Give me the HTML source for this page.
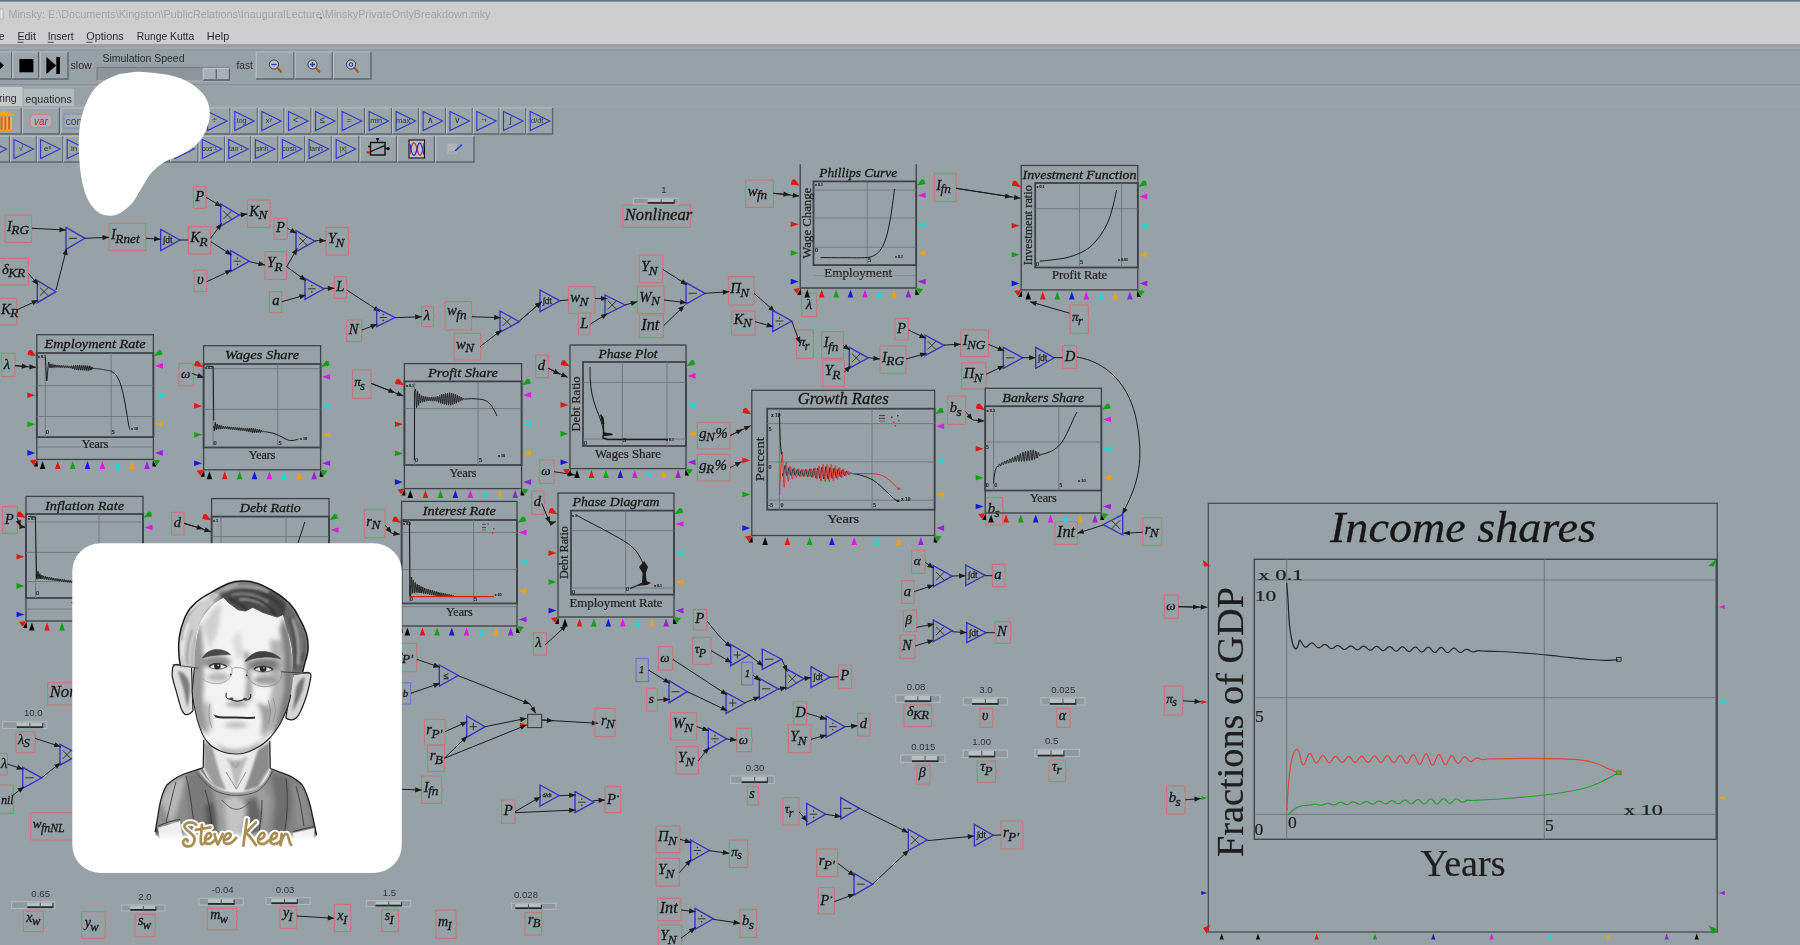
<!DOCTYPE html>
<html><head><meta charset="utf-8"><title>Minsky</title>
<style>
html,body{margin:0;padding:0;background:#97a2a7;overflow:hidden}
svg{display:block;filter:blur(0.55px)}
.v{font-family:"Liberation Serif",serif;font-style:italic;fill:#161616;stroke:#161616;stroke-width:0.3px}
.s{font-family:"Liberation Serif",serif;fill:#1e1e1e;stroke:#1e1e1e;stroke-width:0.22px}
.n{font-family:"Liberation Sans",sans-serif;fill:#2a2a2a}
</style></head><body>
<svg width="1800" height="945" viewBox="0 0 1800 945">
<defs>
<filter id="b1" x="-20%" y="-20%" width="140%" height="140%"><feGaussianBlur stdDeviation="1"/></filter>
<filter id="b2" x="-30%" y="-30%" width="160%" height="160%"><feGaussianBlur stdDeviation="2.2"/></filter>
<filter id="b3" x="-30%" y="-30%" width="160%" height="160%"><feGaussianBlur stdDeviation="3.6"/></filter>
<filter id="b05" x="-20%" y="-20%" width="140%" height="140%"><feGaussianBlur stdDeviation="0.55"/></filter>
<linearGradient id="shirtg" x1="0" y1="0" x2="1" y2="0"><stop offset="0" stop-color="#8d8d8d"/><stop offset="0.25" stop-color="#8a8a8a"/><stop offset="0.5" stop-color="#a4a4a4"/><stop offset="0.75" stop-color="#858585"/><stop offset="1" stop-color="#767676"/></linearGradient>
<linearGradient id="fadeb" x1="0" y1="0" x2="0" y2="1"><stop offset="0" stop-color="#fff" stop-opacity="0"/><stop offset="1" stop-color="#fff" stop-opacity="1"/></linearGradient>
<clipPath id="faceclip"><path d="M194.3 665 C194.5 650,196.5 634,200.4 621.2 C204 612,213 603,223.5 598.1 L228.4 603 L238.1 610.3 L245.4 611.5 L252.7 607.8 L262.5 612.7 L277.1 617.6 L283.1 615.1 C286 622,288 632,289.5 640 C291.5 650,293 660,293 668 C293.5 680,292 690,290.8 694.7 C289 705,286 712,282.7 718.8 C279 727,275 732,270.7 737 C265 743,260 746.5,254.6 749 C248 752.5,242 754,236.5 754 C230 754,225 753,220.4 751 C216 749,211.5 746.5,208.3 743 C204.5 739,202 734,200.3 728.9 C197.5 722,196 716,195.3 710.8 C193.5 703,192.5 697,192.2 690.7 Z"/></clipPath>
<clipPath id="hairclip"><path d="M180.3 668 C178.5 656,178.3 646,179.1 638.3 C180 632,181.5 626,183.4 621.2 C186 614,189 609,193.1 605.4 C198 600,203.5 596.5,210.1 593.2 C216 589.5,222 586,228.4 583.5 C233 581.8,238 581,243 581.1 C248 581,253 582,257.6 583.5 C263.5 585.5,269 588.5,274.6 592 C280 595,285 599,289.2 603 C293 607,296.5 612,299 617.6 C302 622.5,304.5 628,306.3 633.4 C307.6 638,308.2 643,308.1 648 C308 653,306.5 658,305 662.6 L302 674 L291.5 675 C293 668,293 660,291.7 648 C290.5 641,289 635,286.8 629.7 L283.1 615.1 L277.1 617.6 L262.5 612.7 L252.7 607.8 L245.4 611.5 L238.1 610.3 L228.4 603 L223.5 598.1 C217 601,213.5 604,210.1 607.8 C206 612,203 616.5,200.4 621.2 C198.3 626,197 631,196.2 635.8 C195 645,194.5 655,194.3 668 Z"/></clipPath>
<clipPath id="shirtclip"><path d="M155 836 L159.3 807 C161 798,163.5 790,166.8 785 C172 780,178 776.5,184 774 L202.6 767.8 C206 776,211 783,217 787.8 C223 791,230 792,236.3 791.9 C244 791.9,251 790.5,256.9 787.8 C263 783.5,268 777.5,270.5 768.5 L288.6 775.4 C294 778,299 781.5,302.3 785 C306 791,308.5 799,310.6 807 L317 838 Z"/></clipPath>
</defs>
<rect x="0" y="0" width="1800" height="945" fill="#97a2a7"/>
<rect x="0" y="0" width="1800" height="44.5" fill="#cecece"/>
<rect x="0" y="0" width="1800" height="1.6" fill="#66738c"/>
<rect x="0" y="44" width="1800" height="3.2" fill="#9d9fa0"/>
<rect x="0" y="47.2" width="1800" height="1.8" fill="#a0aaad"/>
<rect x="0" y="49" width="1800" height="2" fill="#929da2"/>
<rect x="0" y="9" width="3" height="10" fill="#e8e8e8" stroke="#999" stroke-width="0.6"/>
<text x="8.5" y="18" font-family="Liberation Sans, sans-serif" font-size="10.6" fill="#a4a4a4" textLength="482" lengthAdjust="spacingAndGlyphs">Minsky: E:\Documents\Kingston\PublicRelations\InauguralLecture\MinskyPrivateOnlyBreakdown.mky</text>
<rect x="320.5" y="17" width="1.2" height="2" fill="#c33"/>
<text x="-1" y="40.3" font-family="Liberation Sans, sans-serif" font-size="10.8" fill="#2a2a2a" textLength="5.5" lengthAdjust="spacingAndGlyphs">e</text>
<text x="17.4" y="40.3" font-family="Liberation Sans, sans-serif" font-size="10.8" fill="#2a2a2a" textLength="18.5" lengthAdjust="spacingAndGlyphs">Edit</text>
<rect x="17.4" y="41.8" width="6" height="0.8" fill="#2a2a2a"/>
<text x="47.7" y="40.3" font-family="Liberation Sans, sans-serif" font-size="10.8" fill="#2a2a2a" textLength="26" lengthAdjust="spacingAndGlyphs">Insert</text>
<rect x="47.7" y="41.8" width="6" height="0.8" fill="#2a2a2a"/>
<text x="86.3" y="40.3" font-family="Liberation Sans, sans-serif" font-size="10.8" fill="#2a2a2a" textLength="37.5" lengthAdjust="spacingAndGlyphs">Options</text>
<rect x="86.3" y="41.8" width="6" height="0.8" fill="#2a2a2a"/>
<text x="136.7" y="40.3" font-family="Liberation Sans, sans-serif" font-size="10.8" fill="#2a2a2a" textLength="57.5" lengthAdjust="spacingAndGlyphs">Runge Kutta</text>
<text x="206.8" y="40.3" font-family="Liberation Sans, sans-serif" font-size="10.8" fill="#2a2a2a" textLength="22.5" lengthAdjust="spacingAndGlyphs">Help</text>
<rect x="-14" y="52" width="25.7" height="27" fill="#9aa5aa"/>
<path d="M-14 79V52H11.7" fill="none" stroke="#b7bfc2" stroke-width="1.2"/>
<path d="M-14 79H11.7V52" fill="none" stroke="#5e676b" stroke-width="1.4"/>
<rect x="12.6" y="52" width="26.0" height="27" fill="#9aa5aa"/>
<path d="M12.6 79V52H38.6" fill="none" stroke="#b7bfc2" stroke-width="1.2"/>
<path d="M12.6 79H38.6V52" fill="none" stroke="#5e676b" stroke-width="1.4"/>
<rect x="40.2" y="52" width="27.799999999999997" height="27" fill="#9aa5aa"/>
<path d="M40.2 79V52H68" fill="none" stroke="#b7bfc2" stroke-width="1.2"/>
<path d="M40.2 79H68V52" fill="none" stroke="#5e676b" stroke-width="1.4"/>
<polygon points="-4,58 4,65.5 -4,73" fill="#000"/>
<rect x="19.4" y="59" width="14" height="13.3" fill="#000"/>
<polygon points="46.4,57 56.2,65.5 46.4,74" fill="#000"/><rect x="56.3" y="57" width="3.6" height="17" fill="#000"/>
<text x="70.5" y="69.3" font-family="Liberation Sans, sans-serif" font-size="10.4" fill="#2a2a2a" textLength="21.3" lengthAdjust="spacingAndGlyphs">slow</text>
<text x="102.5" y="62" font-family="Liberation Sans, sans-serif" font-size="10.4" fill="#2a2a2a" textLength="82" lengthAdjust="spacingAndGlyphs">Simulation Speed</text>
<text x="236.5" y="69.3" font-family="Liberation Sans, sans-serif" font-size="10.4" fill="#2a2a2a" textLength="16.2" lengthAdjust="spacingAndGlyphs">fast</text>
<rect x="97" y="67.4" width="133" height="13.6" fill="#8b959a"/>
<path d="M97 81V67.4H230" fill="none" stroke="#747d81" stroke-width="1"/>
<path d="M97 81H230V67.4" fill="none" stroke="#b2babd" stroke-width="1"/>
<rect x="203.2" y="68.4" width="26.3" height="11.6" fill="#a7b0b4"/>
<path d="M203.2 80H229.5V68.4" fill="none" stroke="#555e62" stroke-width="1.3"/><path d="M216.3 68.6V79.6" stroke="#5d666a" stroke-width="1.2"/><path d="M203.2 80V68.4H229" fill="none" stroke="#c3cacc" stroke-width="1"/>
<rect x="256.2" y="52" width="37.80000000000001" height="27" fill="#9aa5aa"/>
<path d="M256.2 79V52H294" fill="none" stroke="#b7bfc2" stroke-width="1.2"/>
<path d="M256.2 79H294V52" fill="none" stroke="#5e676b" stroke-width="1.4"/>
<rect x="295.2" y="52" width="37.10000000000002" height="27" fill="#9aa5aa"/>
<path d="M295.2 79V52H332.3" fill="none" stroke="#b7bfc2" stroke-width="1.2"/>
<path d="M295.2 79H332.3V52" fill="none" stroke="#5e676b" stroke-width="1.4"/>
<rect x="333.5" y="52" width="37.5" height="27" fill="#9aa5aa"/>
<path d="M333.5 79V52H371" fill="none" stroke="#b7bfc2" stroke-width="1.2"/>
<path d="M333.5 79H371V52" fill="none" stroke="#5e676b" stroke-width="1.4"/>
<circle cx="274" cy="64.5" r="4.6" fill="#b7c2c8" stroke="#3a3f44" stroke-width="1"/>
<path d="M277.3 67.9L281 71.8" stroke="#a5502a" stroke-width="2" stroke-linecap="round"/>
<path d="M271.4 64.5H276.6" stroke="#2a39c0" stroke-width="1.3"/>
<circle cx="312.5" cy="64.5" r="4.6" fill="#b7c2c8" stroke="#3a3f44" stroke-width="1"/>
<path d="M315.8 67.9L319.5 71.8" stroke="#a5502a" stroke-width="2" stroke-linecap="round"/>
<path d="M309.9 64.5H315.1M312.5 61.9V67.1" stroke="#2a39c0" stroke-width="1.3"/>
<circle cx="351" cy="64.5" r="4.6" fill="#b7c2c8" stroke="#3a3f44" stroke-width="1"/>
<path d="M354.3 67.9L358 71.8" stroke="#a5502a" stroke-width="2" stroke-linecap="round"/>
<circle cx="351" cy="64.5" r="1.8" fill="none" stroke="#2a39c0" stroke-width="1.1"/>
<rect x="0" y="84.3" width="1800" height="1.3" fill="#838d90"/><rect x="0" y="85.6" width="1800" height="1" fill="#a3adb0"/>
<rect x="0" y="105.6" width="1800" height="1.2" fill="#a1aaac"/>
<rect x="0" y="87" width="22.5" height="19" fill="#c4c9cb"/>
<rect x="23.4" y="88.6" width="50.7" height="17.4" fill="#b3babd"/>
<text x="-1" y="102" font-family="Liberation Sans, sans-serif" font-size="10.6" fill="#2a2a2a">ring</text>
<text x="25.3" y="102.6" font-family="Liberation Sans, sans-serif" font-size="10.6" fill="#2a2a2a" textLength="46.5" lengthAdjust="spacingAndGlyphs">equations</text>
<rect x="-8" y="108" width="29.3" height="26" fill="#9aa5aa"/>
<path d="M-8 134V108H21.3" fill="none" stroke="#b7bfc2" stroke-width="1.2"/>
<path d="M-8 134H21.3V108" fill="none" stroke="#5e676b" stroke-width="1.4"/>
<polygon points="-3,113.5 4,110.5 15,114.5 15,116 -3,116" fill="#f2a51c"/>
<rect x="0.5" y="116.5" width="2.4" height="13" fill="#e8591c"/>
<rect x="4.2" y="116.5" width="2.4" height="13" fill="#e8591c"/>
<rect x="7.9" y="116.5" width="2.4" height="13" fill="#e8591c"/>
<rect x="-1.5" y="116.5" width="1.8" height="13" fill="#f4b62a"/>
<rect x="2.6" y="116.5" width="1.8" height="13" fill="#f4b62a"/>
<rect x="6.3" y="116.5" width="1.8" height="13" fill="#f4b62a"/>
<rect x="10.2" y="116.5" width="1.8" height="13" fill="#f4b62a"/>
<rect x="-3" y="129.5" width="17" height="2.6" fill="#f09a1c"/>
<rect x="22.5" y="108" width="36.9" height="26" fill="#9aa5aa"/>
<path d="M22.5 134V108H59.4" fill="none" stroke="#b7bfc2" stroke-width="1.2"/>
<path d="M22.5 134H59.4V108" fill="none" stroke="#5e676b" stroke-width="1.4"/>
<rect x="30" y="114.5" width="22" height="13" rx="4" fill="#aab2b5" stroke="#cf7b80" stroke-width="0.9"/>
<text x="41" y="124.6" text-anchor="middle" font-family="Liberation Sans, sans-serif" font-style="italic" font-size="10" fill="#d02020">var</text>
<rect x="61" y="108" width="37" height="26" fill="#9aa5aa"/>
<path d="M61 134V108H98" fill="none" stroke="#b7bfc2" stroke-width="1.2"/>
<path d="M61 134H98V108" fill="none" stroke="#5e676b" stroke-width="1.4"/>
<rect x="64" y="114" width="26" height="14" fill="#a4adb3" stroke="#7b82c8" stroke-width="0.9"/>
<text x="65.5" y="124.6" font-family="Liberation Sans, sans-serif" font-size="10.5" fill="#3a4452">con</text>
<rect x="204.1" y="108" width="26.0" height="26" fill="#9aa5aa"/>
<path d="M204.1 134V108H230.1" fill="none" stroke="#b7bfc2" stroke-width="1.2"/>
<path d="M204.1 134H230.1V108" fill="none" stroke="#5e676b" stroke-width="1.4"/>
<polygon points="207.6,111.5 227.1,121.0 207.6,130.5" fill="none" stroke="#3038c8" stroke-width="1.1"/>
<text x="214.6" y="123.3" text-anchor="middle" font-family="Liberation Sans, sans-serif" font-size="9" fill="#27313b">÷</text>
<rect x="231.1" y="108" width="26.30000000000004" height="26" fill="#9aa5aa"/>
<path d="M231.1 134V108H257.40000000000003" fill="none" stroke="#b7bfc2" stroke-width="1.2"/>
<path d="M231.1 134H257.40000000000003V108" fill="none" stroke="#5e676b" stroke-width="1.4"/>
<polygon points="234.8,111.5 254.2,121.0 234.8,130.5" fill="none" stroke="#3038c8" stroke-width="1.1"/>
<text x="241.8" y="123.3" text-anchor="middle" font-family="Liberation Sans, sans-serif" font-size="7.4" fill="#27313b">log</text>
<rect x="258.40000000000003" y="108" width="25.69999999999999" height="26" fill="#9aa5aa"/>
<path d="M258.40000000000003 134V108H284.1" fill="none" stroke="#b7bfc2" stroke-width="1.2"/>
<path d="M258.40000000000003 134H284.1V108" fill="none" stroke="#5e676b" stroke-width="1.4"/>
<polygon points="261.8,111.5 281.2,121.0 261.8,130.5" fill="none" stroke="#3038c8" stroke-width="1.1"/>
<text x="268.8" y="123.3" text-anchor="middle" font-family="Liberation Sans, sans-serif" font-size="7.4" fill="#27313b">xʸ</text>
<rect x="285.1" y="108" width="26.0" height="26" fill="#9aa5aa"/>
<path d="M285.1 134V108H311.1" fill="none" stroke="#b7bfc2" stroke-width="1.2"/>
<path d="M285.1 134H311.1V108" fill="none" stroke="#5e676b" stroke-width="1.4"/>
<polygon points="288.6,111.5 308.1,121.0 288.6,130.5" fill="none" stroke="#3038c8" stroke-width="1.1"/>
<text x="295.6" y="123.3" text-anchor="middle" font-family="Liberation Sans, sans-serif" font-size="9" fill="#27313b">&lt;</text>
<rect x="312.1" y="108" width="25.80000000000001" height="26" fill="#9aa5aa"/>
<path d="M312.1 134V108H337.90000000000003" fill="none" stroke="#b7bfc2" stroke-width="1.2"/>
<path d="M312.1 134H337.90000000000003V108" fill="none" stroke="#5e676b" stroke-width="1.4"/>
<polygon points="315.5,111.5 335.0,121.0 315.5,130.5" fill="none" stroke="#3038c8" stroke-width="1.1"/>
<text x="322.5" y="123.3" text-anchor="middle" font-family="Liberation Sans, sans-serif" font-size="9" fill="#27313b">≤</text>
<rect x="338.90000000000003" y="108" width="25.69999999999999" height="26" fill="#9aa5aa"/>
<path d="M338.90000000000003 134V108H364.6" fill="none" stroke="#b7bfc2" stroke-width="1.2"/>
<path d="M338.90000000000003 134H364.6V108" fill="none" stroke="#5e676b" stroke-width="1.4"/>
<polygon points="342.2,111.5 361.8,121.0 342.2,130.5" fill="none" stroke="#3038c8" stroke-width="1.1"/>
<text x="349.2" y="123.3" text-anchor="middle" font-family="Liberation Sans, sans-serif" font-size="9" fill="#27313b">=</text>
<rect x="365.6" y="108" width="26.0" height="26" fill="#9aa5aa"/>
<path d="M365.6 134V108H391.6" fill="none" stroke="#b7bfc2" stroke-width="1.2"/>
<path d="M365.6 134H391.6V108" fill="none" stroke="#5e676b" stroke-width="1.4"/>
<polygon points="369.1,111.5 388.6,121.0 369.1,130.5" fill="none" stroke="#3038c8" stroke-width="1.1"/>
<text x="376.1" y="123.3" text-anchor="middle" font-family="Liberation Sans, sans-serif" font-size="7.4" fill="#27313b">min</text>
<rect x="392.6" y="108" width="26.0" height="26" fill="#9aa5aa"/>
<path d="M392.6 134V108H418.6" fill="none" stroke="#b7bfc2" stroke-width="1.2"/>
<path d="M392.6 134H418.6V108" fill="none" stroke="#5e676b" stroke-width="1.4"/>
<polygon points="396.1,111.5 415.6,121.0 396.1,130.5" fill="none" stroke="#3038c8" stroke-width="1.1"/>
<text x="403.1" y="123.3" text-anchor="middle" font-family="Liberation Sans, sans-serif" font-size="7.4" fill="#27313b">max</text>
<rect x="419.6" y="108" width="26.0" height="26" fill="#9aa5aa"/>
<path d="M419.6 134V108H445.6" fill="none" stroke="#b7bfc2" stroke-width="1.2"/>
<path d="M419.6 134H445.6V108" fill="none" stroke="#5e676b" stroke-width="1.4"/>
<polygon points="423.1,111.5 442.6,121.0 423.1,130.5" fill="none" stroke="#3038c8" stroke-width="1.1"/>
<text x="430.1" y="123.3" text-anchor="middle" font-family="Liberation Sans, sans-serif" font-size="9" fill="#27313b">∧</text>
<rect x="446.6" y="108" width="25.80000000000001" height="26" fill="#9aa5aa"/>
<path d="M446.6 134V108H472.40000000000003" fill="none" stroke="#b7bfc2" stroke-width="1.2"/>
<path d="M446.6 134H472.40000000000003V108" fill="none" stroke="#5e676b" stroke-width="1.4"/>
<polygon points="450.0,111.5 469.5,121.0 450.0,130.5" fill="none" stroke="#3038c8" stroke-width="1.1"/>
<text x="457.0" y="123.3" text-anchor="middle" font-family="Liberation Sans, sans-serif" font-size="9" fill="#27313b">∨</text>
<rect x="473.40000000000003" y="108" width="25.69999999999999" height="26" fill="#9aa5aa"/>
<path d="M473.40000000000003 134V108H499.1" fill="none" stroke="#b7bfc2" stroke-width="1.2"/>
<path d="M473.40000000000003 134H499.1V108" fill="none" stroke="#5e676b" stroke-width="1.4"/>
<polygon points="476.8,111.5 496.2,121.0 476.8,130.5" fill="none" stroke="#3038c8" stroke-width="1.1"/>
<text x="483.8" y="123.3" text-anchor="middle" font-family="Liberation Sans, sans-serif" font-size="9" fill="#27313b">¬</text>
<rect x="500.1" y="108" width="25.799999999999955" height="26" fill="#9aa5aa"/>
<path d="M500.1 134V108H525.9" fill="none" stroke="#b7bfc2" stroke-width="1.2"/>
<path d="M500.1 134H525.9V108" fill="none" stroke="#5e676b" stroke-width="1.4"/>
<polygon points="503.5,111.5 523.0,121.0 503.5,130.5" fill="none" stroke="#3038c8" stroke-width="1.1"/>
<text x="510.5" y="123.3" text-anchor="middle" font-family="Liberation Sans, sans-serif" font-size="9" fill="#27313b">∫</text>
<rect x="526.9" y="108" width="25.700000000000045" height="26" fill="#9aa5aa"/>
<path d="M526.9 134V108H552.6" fill="none" stroke="#b7bfc2" stroke-width="1.2"/>
<path d="M526.9 134H552.6V108" fill="none" stroke="#5e676b" stroke-width="1.4"/>
<polygon points="530.2,111.5 549.8,121.0 530.2,130.5" fill="none" stroke="#3038c8" stroke-width="1.1"/>
<text x="537.2" y="123.3" text-anchor="middle" font-family="Liberation Sans, sans-serif" font-size="7.4" fill="#27313b">d/dt</text>
<rect x="-16.4" y="136.2" width="26.0" height="25.80000000000001" fill="#9aa5aa"/>
<path d="M-16.4 162V136.2H9.6" fill="none" stroke="#b7bfc2" stroke-width="1.2"/>
<path d="M-16.4 162H9.6V136.2" fill="none" stroke="#5e676b" stroke-width="1.4"/>
<polygon points="-12.9,139.6 6.6,149.1 -12.9,158.6" fill="none" stroke="#3038c8" stroke-width="1.1"/>
<rect x="10.6" y="136.2" width="25.799999999999997" height="25.80000000000001" fill="#9aa5aa"/>
<path d="M10.6 162V136.2H36.4" fill="none" stroke="#b7bfc2" stroke-width="1.2"/>
<path d="M10.6 162H36.4V136.2" fill="none" stroke="#5e676b" stroke-width="1.4"/>
<polygon points="14.0,139.6 33.5,149.1 14.0,158.6" fill="none" stroke="#3038c8" stroke-width="1.1"/>
<text x="21.0" y="151.4" text-anchor="middle" font-family="Liberation Sans, sans-serif" font-size="8" fill="#27313b">√</text>
<rect x="37.4" y="136.2" width="25.5" height="25.80000000000001" fill="#9aa5aa"/>
<path d="M37.4 162V136.2H62.9" fill="none" stroke="#b7bfc2" stroke-width="1.2"/>
<path d="M37.4 162H62.9V136.2" fill="none" stroke="#5e676b" stroke-width="1.4"/>
<polygon points="40.6,139.6 60.1,149.1 40.6,158.6" fill="none" stroke="#3038c8" stroke-width="1.1"/>
<text x="47.6" y="151.4" text-anchor="middle" font-family="Liberation Sans, sans-serif" font-size="8" fill="#27313b">eˣ</text>
<rect x="63.9" y="136.2" width="25.699999999999996" height="25.80000000000001" fill="#9aa5aa"/>
<path d="M63.9 162V136.2H89.6" fill="none" stroke="#b7bfc2" stroke-width="1.2"/>
<path d="M63.9 162H89.6V136.2" fill="none" stroke="#5e676b" stroke-width="1.4"/>
<polygon points="67.2,139.6 86.8,149.1 67.2,158.6" fill="none" stroke="#3038c8" stroke-width="1.1"/>
<text x="74.2" y="151.4" text-anchor="middle" font-family="Liberation Sans, sans-serif" font-size="8" fill="#27313b">ln</text>
<rect x="90.6" y="136.2" width="25.599999999999994" height="25.80000000000001" fill="#9aa5aa"/>
<path d="M90.6 162V136.2H116.19999999999999" fill="none" stroke="#b7bfc2" stroke-width="1.2"/>
<path d="M90.6 162H116.19999999999999V136.2" fill="none" stroke="#5e676b" stroke-width="1.4"/>
<polygon points="93.9,139.6 113.4,149.1 93.9,158.6" fill="none" stroke="#3038c8" stroke-width="1.1"/>
<text x="100.9" y="151.4" text-anchor="middle" font-family="Liberation Sans, sans-serif" font-size="6.8" fill="#27313b">sin</text>
<rect x="117.19999999999999" y="136.2" width="25.599999999999994" height="25.80000000000001" fill="#9aa5aa"/>
<path d="M117.19999999999999 162V136.2H142.79999999999998" fill="none" stroke="#b7bfc2" stroke-width="1.2"/>
<path d="M117.19999999999999 162H142.79999999999998V136.2" fill="none" stroke="#5e676b" stroke-width="1.4"/>
<polygon points="120.5,139.6 140.0,149.1 120.5,158.6" fill="none" stroke="#3038c8" stroke-width="1.1"/>
<text x="127.5" y="151.4" text-anchor="middle" font-family="Liberation Sans, sans-serif" font-size="6.8" fill="#27313b">cos</text>
<rect x="143.79999999999998" y="136.2" width="25.80000000000001" height="25.80000000000001" fill="#9aa5aa"/>
<path d="M143.79999999999998 162V136.2H169.6" fill="none" stroke="#b7bfc2" stroke-width="1.2"/>
<path d="M143.79999999999998 162H169.6V136.2" fill="none" stroke="#5e676b" stroke-width="1.4"/>
<polygon points="147.2,139.6 166.7,149.1 147.2,158.6" fill="none" stroke="#3038c8" stroke-width="1.1"/>
<text x="154.2" y="151.4" text-anchor="middle" font-family="Liberation Sans, sans-serif" font-size="6.8" fill="#27313b">tan</text>
<rect x="170.6" y="136.2" width="27.5" height="25.80000000000001" fill="#9aa5aa"/>
<path d="M170.6 162V136.2H198.1" fill="none" stroke="#b7bfc2" stroke-width="1.2"/>
<path d="M170.6 162H198.1V136.2" fill="none" stroke="#5e676b" stroke-width="1.4"/>
<polygon points="174.8,139.6 194.3,149.1 174.8,158.6" fill="none" stroke="#3038c8" stroke-width="1.1"/>
<text x="181.8" y="151.4" text-anchor="middle" font-family="Liberation Sans, sans-serif" font-size="6.8" fill="#27313b">sin⁻¹</text>
<rect x="199.1" y="136.2" width="25.5" height="25.80000000000001" fill="#9aa5aa"/>
<path d="M199.1 162V136.2H224.6" fill="none" stroke="#b7bfc2" stroke-width="1.2"/>
<path d="M199.1 162H224.6V136.2" fill="none" stroke="#5e676b" stroke-width="1.4"/>
<polygon points="202.3,139.6 221.8,149.1 202.3,158.6" fill="none" stroke="#3038c8" stroke-width="1.1"/>
<text x="209.3" y="151.4" text-anchor="middle" font-family="Liberation Sans, sans-serif" font-size="6.8" fill="#27313b">cos⁻¹</text>
<rect x="225.6" y="136.2" width="25.19999999999999" height="25.80000000000001" fill="#9aa5aa"/>
<path d="M225.6 162V136.2H250.79999999999998" fill="none" stroke="#b7bfc2" stroke-width="1.2"/>
<path d="M225.6 162H250.79999999999998V136.2" fill="none" stroke="#5e676b" stroke-width="1.4"/>
<polygon points="228.7,139.6 248.2,149.1 228.7,158.6" fill="none" stroke="#3038c8" stroke-width="1.1"/>
<text x="235.7" y="151.4" text-anchor="middle" font-family="Liberation Sans, sans-serif" font-size="6.8" fill="#27313b">tan⁻¹</text>
<rect x="251.79999999999998" y="136.2" width="26.200000000000017" height="25.80000000000001" fill="#9aa5aa"/>
<path d="M251.79999999999998 162V136.2H278.0" fill="none" stroke="#b7bfc2" stroke-width="1.2"/>
<path d="M251.79999999999998 162H278.0V136.2" fill="none" stroke="#5e676b" stroke-width="1.4"/>
<polygon points="255.4,139.6 274.9,149.1 255.4,158.6" fill="none" stroke="#3038c8" stroke-width="1.1"/>
<text x="262.4" y="151.4" text-anchor="middle" font-family="Liberation Sans, sans-serif" font-size="6.8" fill="#27313b">sinh</text>
<rect x="279.0" y="136.2" width="25.80000000000001" height="25.80000000000001" fill="#9aa5aa"/>
<path d="M279.0 162V136.2H304.8" fill="none" stroke="#b7bfc2" stroke-width="1.2"/>
<path d="M279.0 162H304.8V136.2" fill="none" stroke="#5e676b" stroke-width="1.4"/>
<polygon points="282.4,139.6 301.9,149.1 282.4,158.6" fill="none" stroke="#3038c8" stroke-width="1.1"/>
<text x="289.4" y="151.4" text-anchor="middle" font-family="Liberation Sans, sans-serif" font-size="6.8" fill="#27313b">cosh</text>
<rect x="305.8" y="136.2" width="25.600000000000023" height="25.80000000000001" fill="#9aa5aa"/>
<path d="M305.8 162V136.2H331.40000000000003" fill="none" stroke="#b7bfc2" stroke-width="1.2"/>
<path d="M305.8 162H331.40000000000003V136.2" fill="none" stroke="#5e676b" stroke-width="1.4"/>
<polygon points="309.1,139.6 328.6,149.1 309.1,158.6" fill="none" stroke="#3038c8" stroke-width="1.1"/>
<text x="316.1" y="151.4" text-anchor="middle" font-family="Liberation Sans, sans-serif" font-size="6.8" fill="#27313b">tanh</text>
<rect x="332.40000000000003" y="136.2" width="26.5" height="25.80000000000001" fill="#9aa5aa"/>
<path d="M332.40000000000003 162V136.2H358.90000000000003" fill="none" stroke="#b7bfc2" stroke-width="1.2"/>
<path d="M332.40000000000003 162H358.90000000000003V136.2" fill="none" stroke="#5e676b" stroke-width="1.4"/>
<polygon points="336.2,139.6 355.7,149.1 336.2,158.6" fill="none" stroke="#3038c8" stroke-width="1.1"/>
<text x="343.2" y="151.4" text-anchor="middle" font-family="Liberation Sans, sans-serif" font-size="6.8" fill="#27313b">|x|</text>
<rect x="360.2" y="136.2" width="36.30000000000001" height="25.80000000000001" fill="#9aa5aa"/>
<path d="M360.2 162V136.2H396.5" fill="none" stroke="#b7bfc2" stroke-width="1.2"/>
<path d="M360.2 162H396.5V136.2" fill="none" stroke="#5e676b" stroke-width="1.4"/>
<rect x="370.5" y="142.5" width="14.5" height="12.5" fill="none" stroke="#111" stroke-width="1.4"/><path d="M377.6 139V142.5M385 148.5H387.6M368 146.5H370.5M370.8 151.5L384.6 145.6" stroke="#111" stroke-width="1.3" fill="none"/><circle cx="388.2" cy="148.6" r="1.6" fill="#111"/><rect x="376.2" y="138" width="2.8" height="1.8" fill="#111"/><rect x="366.6" y="151.4" width="3.6" height="2" fill="#d11"/>
<rect x="397.6" y="136.2" width="36.89999999999998" height="25.80000000000001" fill="#9aa5aa"/>
<path d="M397.6 162V136.2H434.5" fill="none" stroke="#b7bfc2" stroke-width="1.2"/>
<path d="M397.6 162H434.5V136.2" fill="none" stroke="#5e676b" stroke-width="1.4"/>
<rect x="409" y="140" width="15.5" height="18" fill="#b9c1c6" stroke="#111" stroke-width="1.1"/>
<path d="M410 154C412 140,415 140,417 149S422 158,424 143" fill="none" stroke="#d22" stroke-width="1.2"/><path d="M410 144C412 158,415 158,417 149S421 140,424 155" fill="none" stroke="#22c" stroke-width="1.2"/>
<rect x="435.7" y="136.2" width="38.30000000000001" height="25.80000000000001" fill="#9aa5aa"/>
<path d="M435.7 162V136.2H474" fill="none" stroke="#b7bfc2" stroke-width="1.2"/>
<path d="M435.7 162H474V136.2" fill="none" stroke="#5e676b" stroke-width="1.4"/>
<rect x="447" y="143.5" width="10" height="10.5" fill="#b0b6b8" stroke="#a3a9ab" stroke-width="0.8"/><path d="M455 151L462 144.5" stroke="#2a3ad0" stroke-width="1.6"/><path d="M449 152h6" stroke="#999" stroke-width="1"/>
<path d="M5.0 215.0H31.7V226.5L32.8 228.7L31.7 230.9V242.3H5.0Z" fill="none" stroke="#c97272" stroke-width="1"/>
<text x="7.0" y="230.6" class="v" font-size="14.7">I<tspan font-size="13.3" dy="3.8" dx="-0.6">RG</tspan></text>
<path d="M-2.0 258.3H28.3V269.5L29.4 271.7L28.3 273.8V285.0H-2.0Z" fill="none" stroke="#c97272" stroke-width="1"/>
<text x="2.0" y="273.5" class="v" font-size="14.7">δ<tspan font-size="13.3" dy="3.8" dx="-0.6">KR</tspan></text>
<path d="M-4.0 298.3H16.7V309.5L17.8 311.7L16.7 313.8V325.0H-4.0Z" fill="none" stroke="#c97272" stroke-width="1"/>
<text x="1.0" y="313.5" class="v" font-size="14.7">K<tspan font-size="13.3" dy="3.8" dx="-0.6">R</tspan></text>
<path d="M109.0 223.3H145.7V234.8L146.8 237.0L145.7 239.2V250.7H109.0Z" fill="none" stroke="#c97272" stroke-width="1"/>
<text x="111.0" y="238.9" class="v" font-size="14.7">I<tspan font-size="13.3" dy="3.8" dx="-0.6">Rnet</tspan></text>
<path d="M188.3 226.7H210.7V238.1L211.8 240.3L210.7 242.5V254.0H188.3Z" fill="none" stroke="#c97272" stroke-width="1"/>
<text x="190.3" y="242.2" class="v" font-size="14.7">K<tspan font-size="13.3" dy="3.8" dx="-0.6">R</tspan></text>
<path d="M193.3 186.7H206.0V195.8L207.1 197.5L206.0 199.2V208.3H193.3Z" fill="none" stroke="#c97272" stroke-width="1"/>
<text x="195.3" y="200.9" class="v" font-size="14.7">P</text>
<path d="M247.3 200.0H270.0V211.5L271.1 213.7L270.0 215.9V227.3H247.3Z" fill="none" stroke="#c97272" stroke-width="1"/>
<text x="249.3" y="215.6" class="v" font-size="14.7">K<tspan font-size="13.3" dy="3.8" dx="-0.6">N</tspan></text>
<path d="M274.0 218.3H287.3V227.2L288.4 228.8L287.3 230.5V239.3H274.0Z" fill="none" stroke="#c97272" stroke-width="1"/>
<text x="276.0" y="232.1" class="v" font-size="14.7">P</text>
<path d="M326.0 227.3H348.3V239.0L349.4 241.2L348.3 243.4V255.0H326.0Z" fill="none" stroke="#c97272" stroke-width="1"/>
<text x="328.0" y="243.1" class="v" font-size="14.7">Y<tspan font-size="13.3" dy="3.8" dx="-0.6">N</tspan></text>
<path d="M265.0 251.7H286.7V263.3L287.8 265.5L286.7 267.7V279.3H265.0Z" fill="none" stroke="#c97272" stroke-width="1"/>
<text x="267.0" y="267.4" class="v" font-size="14.7">Y<tspan font-size="13.3" dy="3.8" dx="-0.6">R</tspan></text>
<path d="M194.0 270.0H206.7V279.1L207.8 280.8L206.7 282.6V291.7H194.0Z" fill="none" stroke="#c97272" stroke-width="1"/>
<text x="197.0" y="284.2" class="v" font-size="14.7">υ</text>
<path d="M334.3 276.7H346.7V285.8L347.8 287.5L346.7 289.2V298.3H334.3Z" fill="none" stroke="#c97272" stroke-width="1"/>
<text x="336.3" y="290.9" class="v" font-size="14.7">L</text>
<path d="M269.3 291.7H281.7V300.5L282.8 302.2L281.7 303.8V312.7H269.3Z" fill="none" stroke="#c97272" stroke-width="1"/>
<text x="272.3" y="305.4" class="v" font-size="14.7">a</text>
<path d="M568.3 286.7H595.0V297.9L596.1 300.0L595.0 302.1V313.3H568.3Z" fill="none" stroke="#c97272" stroke-width="1"/>
<text x="570.3" y="301.9" class="v" font-size="14.7">w<tspan font-size="13.3" dy="3.8" dx="-0.6">N</tspan></text>
<polygon points="66.0,227.3 85.0,238.3 66.0,249.3" fill="none" stroke="#3434c4" stroke-width="1.35"/>
<path d="M68.7 238.3L77.0 238.3" stroke="#333" stroke-width="1" fill="none"/>
<polygon points="37.3,280.7 56.0,291.7 37.3,302.7" fill="none" stroke="#3434c4" stroke-width="1.35"/>
<path d="M39.9 287.6L48.2 295.8M39.9 295.8L48.2 287.6" stroke="#333" stroke-width="1" fill="none"/>
<polygon points="160.7,229.3 180.0,240.0 160.7,250.7" fill="none" stroke="#3434c4" stroke-width="1.35"/>
<text x="167.6" y="242.8" text-anchor="middle" font-family="Liberation Sans, sans-serif" font-size="8.6" fill="#1e1e1e" stroke="#1e1e1e" stroke-width="0.25">∫dt</text>
<polygon points="220.7,204.0 239.3,215.0 220.7,226.0" fill="none" stroke="#3434c4" stroke-width="1.35"/>
<path d="M223.3 210.9L231.5 219.1M223.3 219.1L231.5 210.9" stroke="#333" stroke-width="1" fill="none"/>
<polygon points="296.0,230.7 315.0,241.2 296.0,251.7" fill="none" stroke="#3434c4" stroke-width="1.35"/>
<path d="M298.7 237.0L307.0 245.3M298.7 245.3L307.0 237.0" stroke="#333" stroke-width="1" fill="none"/>
<polygon points="230.7,250.7 249.3,261.2 230.7,271.7" fill="none" stroke="#3434c4" stroke-width="1.35"/>
<path d="M233.7 261.2L241.1 261.2" stroke="#333" stroke-width="1" fill="none"/><circle cx="237.4" cy="258.2" r="0.8" fill="#333"/><circle cx="237.4" cy="264.2" r="0.8" fill="#333"/>
<polygon points="305.0,278.3 324.0,288.8 305.0,299.3" fill="none" stroke="#3434c4" stroke-width="1.35"/>
<path d="M308.0 288.8L315.6 288.8" stroke="#333" stroke-width="1" fill="none"/><circle cx="311.8" cy="285.8" r="0.8" fill="#333"/><circle cx="311.8" cy="291.9" r="0.8" fill="#333"/>
<polygon points="540.0,290.0 560.0,300.8 540.0,311.7" fill="none" stroke="#3434c4" stroke-width="1.35"/>
<text x="547.2" y="303.7" text-anchor="middle" font-family="Liberation Sans, sans-serif" font-size="8.6" fill="#1e1e1e" stroke="#1e1e1e" stroke-width="0.25">∫dt</text>
<path d="M31.7 228.3 L66.0 230.0" fill="none" stroke="#1c1c1c" stroke-width="1"/>
<polygon points="66.0,230.0 59.4,232.3 59.6,227.1" fill="#1c1c1c"/>
<path d="M56.0 290.0 L66.7 248.3" fill="none" stroke="#1c1c1c" stroke-width="1"/>
<polygon points="66.7,248.3 67.6,255.3 62.5,254.0" fill="#1c1c1c"/>
<path d="M28.3 273.3 L38.3 285.0" fill="none" stroke="#1c1c1c" stroke-width="1"/>
<polygon points="38.3,285.0 32.1,281.8 36.1,278.4" fill="#1c1c1c"/>
<path d="M16.7 310.0 L38.3 300.0" fill="none" stroke="#1c1c1c" stroke-width="1"/>
<polygon points="38.3,300.0 33.5,305.1 31.3,300.4" fill="#1c1c1c"/>
<path d="M85.0 238.3 L109.0 237.3" fill="none" stroke="#1c1c1c" stroke-width="1"/>
<polygon points="109.0,237.3 102.6,240.2 102.4,235.0" fill="#1c1c1c"/>
<path d="M145.7 238.3 L160.7 239.3" fill="none" stroke="#1c1c1c" stroke-width="1"/>
<polygon points="160.7,239.3 154.0,241.5 154.4,236.3" fill="#1c1c1c"/>
<path d="M180.0 240.0 L188.3 240.0" fill="none" stroke="#1c1c1c" stroke-width="1"/>
<path d="M206.0 197.3 L221.7 206.7" fill="none" stroke="#1c1c1c" stroke-width="1"/>
<polygon points="221.7,206.7 214.8,205.6 217.4,201.1" fill="#1c1c1c"/>
<path d="M210.7 238.3 L221.7 223.3" fill="none" stroke="#1c1c1c" stroke-width="1"/>
<polygon points="221.7,223.3 219.9,230.1 215.7,227.0" fill="#1c1c1c"/>
<path d="M239.3 215.0 L247.3 214.0" fill="none" stroke="#1c1c1c" stroke-width="1"/>
<polygon points="247.3,214.0 241.2,217.4 240.6,212.2" fill="#1c1c1c"/>
<path d="M210.7 241.7 L231.7 255.0" fill="none" stroke="#1c1c1c" stroke-width="1"/>
<polygon points="231.7,255.0 224.8,253.7 227.6,249.3" fill="#1c1c1c"/>
<path d="M206.7 281.7 L231.7 270.0" fill="none" stroke="#1c1c1c" stroke-width="1"/>
<polygon points="231.7,270.0 226.9,275.1 224.7,270.4" fill="#1c1c1c"/>
<path d="M249.3 261.7 L265.0 265.0" fill="none" stroke="#1c1c1c" stroke-width="1"/>
<polygon points="265.0,265.0 258.1,266.2 259.2,261.1" fill="#1c1c1c"/>
<path d="M287.3 228.3 L296.7 233.3" fill="none" stroke="#1c1c1c" stroke-width="1"/>
<polygon points="296.7,233.3 289.7,232.6 292.2,228.0" fill="#1c1c1c"/>
<path d="M286.7 266.7 L297.3 248.3" fill="none" stroke="#1c1c1c" stroke-width="1"/>
<polygon points="297.3,248.3 296.3,255.3 291.8,252.6" fill="#1c1c1c"/>
<path d="M315.0 240.7 L326.0 240.7" fill="none" stroke="#1c1c1c" stroke-width="1"/>
<polygon points="326.0,240.7 319.5,243.3 319.5,238.1" fill="#1c1c1c"/>
<path d="M286.7 266.7 L306.0 280.7" fill="none" stroke="#1c1c1c" stroke-width="1"/>
<polygon points="306.0,280.7 299.2,279.0 302.3,274.7" fill="#1c1c1c"/>
<path d="M281.7 301.7 L306.0 295.0" fill="none" stroke="#1c1c1c" stroke-width="1"/>
<polygon points="306.0,295.0 300.4,299.2 299.0,294.2" fill="#1c1c1c"/>
<path d="M324.0 288.3 L334.3 288.3" fill="none" stroke="#1c1c1c" stroke-width="1"/>
<polygon points="334.3,288.3 327.8,290.9 327.8,285.7" fill="#1c1c1c"/>
<path d="M346.7 290.0 L380.0 311.7" fill="none" stroke="#1c1c1c" stroke-width="1"/>
<polygon points="380.0,311.7 373.1,310.3 376.0,305.9" fill="#1c1c1c"/>
<path d="M560.0 300.7 L568.3 300.0" fill="none" stroke="#1c1c1c" stroke-width="1"/>
<path d="M520.7 320.0 L541.7 301.7" fill="none" stroke="#1c1c1c" stroke-width="1"/>
<polygon points="541.7,301.7 538.5,307.9 535.1,304.0" fill="#1c1c1c"/>
<path d="M622.7 205.0H690.7V214.4L691.8 216.2L690.7 218.0V227.3H622.7Z" fill="none" stroke="#c97272" stroke-width="1"/>
<text x="624.7" y="219.6" class="v" font-size="16.7">Nonlinear</text>
<path d="M639.3 255.0H662.7V266.6L663.8 268.8L662.7 271.0V282.7H639.3Z" fill="none" stroke="#c97272" stroke-width="1"/>
<text x="641.3" y="270.8" class="v" font-size="14.7">Y<tspan font-size="13.3" dy="3.8" dx="-0.6">N</tspan></text>
<path d="M637.3 286.0H664.0V297.5L665.1 299.7L664.0 301.9V313.3H637.3Z" fill="none" stroke="#c97272" stroke-width="1"/>
<text x="639.3" y="301.6" class="v" font-size="14.7">W<tspan font-size="13.3" dy="3.8" dx="-0.6">N</tspan></text>
<path d="M728.3 276.7H754.0V288.6L755.1 290.8L754.0 293.1V305.0H728.3Z" fill="none" stroke="#c97272" stroke-width="1"/>
<text x="730.3" y="292.8" class="v" font-size="14.7">Π<tspan font-size="13.3" dy="3.8" dx="-0.6">N</tspan></text>
<path d="M745.7 180.0H773.3V191.5L774.4 193.7L773.3 195.9V207.3H745.7Z" fill="none" stroke="#c97272" stroke-width="1"/>
<text x="747.7" y="195.6" class="v" font-size="14.7">w<tspan font-size="13.3" dy="3.8" dx="-0.6">fn</tspan></text>
<path d="M934.3 173.3H956.0V185.2L957.1 187.5L956.0 189.8V201.7H934.3Z" fill="none" stroke="#c97272" stroke-width="1"/>
<text x="936.3" y="189.5" class="v" font-size="14.7">I<tspan font-size="13.3" dy="3.8" dx="-0.6">fn</tspan></text>
<path d="M801.7 293.3H816.7V303.1L817.8 305.0L816.7 306.9V316.7H801.7Z" fill="none" stroke="#c97272" stroke-width="1"/>
<text x="805.7" y="308.6" class="v" font-size="14.7">λ</text>
<polygon points="686.0,282.7 705.0,293.3 686.0,304.0" fill="none" stroke="#3434c4" stroke-width="1.35"/>
<path d="M688.7 293.3L697.0 293.3" stroke="#333" stroke-width="1" fill="none"/>
<polygon points="605.0,295.0 625.0,305.0 605.0,315.0" fill="none" stroke="#3434c4" stroke-width="1.35"/>
<path d="M607.8 300.6L616.6 309.4M607.8 309.4L616.6 300.6" stroke="#333" stroke-width="1" fill="none"/>
<path d="M773.3 193.3 L799.3 196.0" fill="none" stroke="#1c1c1c" stroke-width="1"/>
<polygon points="799.3,196.0 792.6,197.9 793.1,192.8" fill="#1c1c1c"/>
<path d="M773.3 193.3 L790.0 194.7" fill="none" stroke="#1c1c1c" stroke-width="1"/>
<polygon points="790.0,194.7 783.3,196.7 783.7,191.6" fill="#1c1c1c"/>
<path d="M956.0 188.3 L1020.7 198.3" fill="none" stroke="#1c1c1c" stroke-width="1"/>
<polygon points="1020.7,198.3 1013.8,199.9 1014.6,194.8" fill="#1c1c1c"/>
<path d="M956.0 188.3 L1011.7 197.0" fill="none" stroke="#1c1c1c" stroke-width="1"/>
<polygon points="1011.7,197.0 1004.8,198.6 1005.6,193.4" fill="#1c1c1c"/>
<path d="M662.7 269.3 L687.3 285.0" fill="none" stroke="#1c1c1c" stroke-width="1"/>
<polygon points="687.3,285.0 680.5,283.7 683.2,279.3" fill="#1c1c1c"/>
<path d="M664.0 300.0 L686.7 302.7" fill="none" stroke="#1c1c1c" stroke-width="1"/>
<polygon points="686.7,302.7 679.9,304.5 680.5,299.3" fill="#1c1c1c"/>
<path d="M625.0 305.0 L637.3 301.7" fill="none" stroke="#1c1c1c" stroke-width="1"/>
<polygon points="637.3,301.7 631.7,305.9 630.4,300.9" fill="#1c1c1c"/>
<path d="M705.0 293.3 L729.3 291.7" fill="none" stroke="#1c1c1c" stroke-width="1"/>
<polygon points="729.3,291.7 723.0,294.7 722.7,289.5" fill="#1c1c1c"/>
<path d="M754.0 293.3 L775.0 311.7" fill="none" stroke="#1c1c1c" stroke-width="1"/>
<polygon points="775.0,311.7 768.4,309.4 771.8,305.4" fill="#1c1c1c"/>
<path d="M1070.0 313.3 L1030.0 301.7" fill="none" stroke="#1c1c1c" stroke-width="1"/>
<polygon points="1030.0,301.7 1037.0,301.0 1035.5,306.0" fill="#1c1c1c"/>
<path d="M1070.0 305.0H1088.3V316.9L1089.4 319.2L1088.3 321.4V333.3H1070.0Z" fill="none" stroke="#c97272" stroke-width="1"/>
<text x="1072.0" y="321.1" class="v" font-size="13.2">π<tspan font-size="11.9" dy="3.8" dx="-0.6">r</tspan></text>
<path d="M595.0 298.5 L607.5 298.5" fill="none" stroke="#1c1c1c" stroke-width="1"/>
<polygon points="607.5,298.5 601.0,301.1 601.0,295.9" fill="#1c1c1c"/>
<path d="M589.7 324.5 L607.5 313.5" fill="none" stroke="#1c1c1c" stroke-width="1"/>
<polygon points="607.5,313.5 603.3,319.1 600.6,314.7" fill="#1c1c1c"/>
<path d="M663.3 326.0 L684.5 305.5" fill="none" stroke="#1c1c1c" stroke-width="1"/>
<polygon points="684.5,305.5 681.6,311.9 678.0,308.1" fill="#1c1c1c"/>
<path d="M1.7 353.3H15.0V363.1L16.1 365.0L15.0 366.9V376.7H1.7Z" fill="none" stroke="#c97272" stroke-width="1"/>
<text x="3.7" y="368.6" class="v" font-size="14.7">λ</text>
<path d="M15.0 365.7 L36.0 367.3" fill="none" stroke="#1c1c1c" stroke-width="1"/>
<polygon points="36.0,367.3 29.3,369.4 29.7,364.2" fill="#1c1c1c"/>
<path d="M15.0 365.7 L28.3 366.7" fill="none" stroke="#1c1c1c" stroke-width="1"/>
<polygon points="28.3,366.7 21.7,368.8 22.0,363.6" fill="#1c1c1c"/>
<path d="M179.0 363.3H193.3V372.9L194.4 374.7L193.3 376.5V386.0H179.0Z" fill="none" stroke="#c97272" stroke-width="1"/>
<text x="181.0" y="378.2" class="v" font-size="13.2">ω</text>
<path d="M191.7 373.3 L204.0 377.7" fill="none" stroke="#1c1c1c" stroke-width="1"/>
<polygon points="204.0,377.7 197.0,378.0 198.7,373.1" fill="#1c1c1c"/>
<path d="M352.3 370.0H371.0V381.9L372.1 384.2L371.0 386.4V398.3H352.3Z" fill="none" stroke="#c97272" stroke-width="1"/>
<text x="354.3" y="386.1" class="v" font-size="13.2">π<tspan font-size="11.9" dy="3.8" dx="-0.6">s</tspan></text>
<path d="M371.0 383.3 L403.3 396.0" fill="none" stroke="#1c1c1c" stroke-width="1"/>
<polygon points="403.3,396.0 396.3,396.0 398.2,391.2" fill="#1c1c1c"/>
<path d="M371.0 383.3 L395.0 392.7" fill="none" stroke="#1c1c1c" stroke-width="1"/>
<polygon points="395.0,392.7 388.0,392.7 389.9,387.9" fill="#1c1c1c"/>
<path d="M346.7 320.0H361.7V329.1L362.8 330.8L361.7 332.6V341.7H346.7Z" fill="none" stroke="#c97272" stroke-width="1"/>
<text x="348.7" y="334.2" class="v" font-size="14.7">N</text>
<polygon points="376.7,308.3 395.0,317.5 376.7,326.7" fill="none" stroke="#3434c4" stroke-width="1.35"/>
<path d="M379.6 317.5L386.9 317.5" stroke="#333" stroke-width="1" fill="none"/><circle cx="383.3" cy="314.6" r="0.8" fill="#333"/><circle cx="383.3" cy="320.4" r="0.8" fill="#333"/>
<path d="M421.7 306.7H433.3V315.1L434.4 316.7L433.3 318.3V326.7H421.7Z" fill="none" stroke="#c97272" stroke-width="1"/>
<text x="423.7" y="319.8" class="v" font-size="14.7">λ</text>
<path d="M445.0 301.7H471.7V313.6L472.8 315.8L471.7 318.1V330.0H445.0Z" fill="none" stroke="#c97272" stroke-width="1"/>
<text x="447.0" y="315.4" class="v" font-size="14.7">w<tspan font-size="13.3" dy="3.8" dx="-0.6">fn</tspan></text>
<path d="M454.0 333.3H480.7V344.5L481.8 346.7L480.7 348.8V360.0H454.0Z" fill="none" stroke="#c97272" stroke-width="1"/>
<text x="456.0" y="348.5" class="v" font-size="14.7">w<tspan font-size="13.3" dy="3.8" dx="-0.6">N</tspan></text>
<polygon points="500.0,311.0 519.3,321.7 500.0,332.3" fill="none" stroke="#3434c4" stroke-width="1.35"/>
<path d="M502.7 317.4L511.2 325.9M502.7 325.9L511.2 317.4" stroke="#333" stroke-width="1" fill="none"/>
<path d="M578.3 313.3H590.0V322.4L591.1 324.2L590.0 325.9V335.0H578.3Z" fill="none" stroke="#c97272" stroke-width="1"/>
<text x="580.3" y="327.5" class="v" font-size="14.7">L</text>
<path d="M361.7 330.0 L377.3 324.3" fill="none" stroke="#1c1c1c" stroke-width="1"/>
<polygon points="377.3,324.3 372.1,329.0 370.3,324.1" fill="#1c1c1c"/>
<path d="M395.0 317.7 L421.7 316.7" fill="none" stroke="#1c1c1c" stroke-width="1"/>
<polygon points="421.7,316.7 415.3,319.5 415.1,314.3" fill="#1c1c1c"/>
<path d="M471.7 316.7 L500.7 317.7" fill="none" stroke="#1c1c1c" stroke-width="1"/>
<polygon points="500.7,317.7 494.1,320.0 494.3,314.8" fill="#1c1c1c"/>
<path d="M480.0 346.7 L501.7 330.0" fill="none" stroke="#1c1c1c" stroke-width="1"/>
<polygon points="501.7,330.0 498.1,336.0 494.9,331.9" fill="#1c1c1c"/>
<path d="M519.3 321.0 L541.7 301.7" fill="none" stroke="#1c1c1c" stroke-width="1"/>
<polygon points="541.7,301.7 538.5,307.9 535.1,304.0" fill="#1c1c1c"/>
<path d="M535.7 355.0H548.3V364.5L549.4 366.3L548.3 368.1V377.7H535.7Z" fill="none" stroke="#c97272" stroke-width="1"/>
<text x="537.7" y="369.8" class="v" font-size="14.7">d</text>
<path d="M548.3 368.3 L567.7 377.3" fill="none" stroke="#1c1c1c" stroke-width="1"/>
<polygon points="567.7,377.3 560.7,376.9 562.9,372.2" fill="#1c1c1c"/>
<path d="M548.3 368.3 L560.0 374.3" fill="none" stroke="#1c1c1c" stroke-width="1"/>
<polygon points="560.0,374.3 553.0,373.7 555.4,369.0" fill="#1c1c1c"/>
<path d="M539.3 460.0H554.0V469.8L555.1 471.7L554.0 473.5V483.3H539.3Z" fill="none" stroke="#c97272" stroke-width="1"/>
<text x="541.3" y="475.3" class="v" font-size="13.2">ω</text>
<path d="M554.0 471.7 L575.0 475.0" fill="none" stroke="#1c1c1c" stroke-width="1"/>
<polygon points="575.0,475.0 568.2,476.5 569.0,471.4" fill="#1c1c1c"/>
<path d="M531.7 491.0H544.0V500.8L545.1 502.7L544.0 504.5V514.3H531.7Z" fill="none" stroke="#c97272" stroke-width="1"/>
<text x="533.7" y="506.3" class="v" font-size="14.7">d</text>
<path d="M541.7 503.3 L550.0 523.3" fill="none" stroke="#1c1c1c" stroke-width="1"/>
<polygon points="550.0,523.3 545.1,518.3 549.9,516.3" fill="#1c1c1c"/>
<path d="M550.0 523.3 L556.0 521.7" fill="none" stroke="#1c1c1c" stroke-width="1"/>
<polygon points="556.0,521.7 550.4,525.9 549.0,520.9" fill="#1c1c1c"/>
<path d="M2.7 506.7H17.3V517.9L18.4 520.0L17.3 522.1V533.3H2.7Z" fill="none" stroke="#c97272" stroke-width="1"/>
<text x="4.7" y="524.1" class="v" font-size="14.7">P</text>
<path d="M17.3 518.3 L20.7 526.7" fill="none" stroke="#1c1c1c" stroke-width="1"/>
<polygon points="20.7,526.7 15.8,521.6 20.7,519.7" fill="#1c1c1c"/>
<path d="M20.7 526.7 L26.0 527.3" fill="none" stroke="#1c1c1c" stroke-width="1"/>
<polygon points="26.0,527.3 19.2,529.1 19.9,523.9" fill="#1c1c1c"/>
<path d="M171.7 512.3H184.0V521.9L185.1 523.7L184.0 525.5V535.0H171.7Z" fill="none" stroke="#c97272" stroke-width="1"/>
<text x="173.7" y="527.2" class="v" font-size="14.7">d</text>
<path d="M184.0 523.3 L211.0 531.7" fill="none" stroke="#1c1c1c" stroke-width="1"/>
<polygon points="211.0,531.7 204.0,532.2 205.6,527.3" fill="#1c1c1c"/>
<path d="M184.0 523.3 L203.3 529.0" fill="none" stroke="#1c1c1c" stroke-width="1"/>
<polygon points="203.3,529.0 196.4,529.7 197.8,524.7" fill="#1c1c1c"/>
<path d="M364.3 509.3H385.0V521.2L386.1 523.5L385.0 525.8V537.7H364.3Z" fill="none" stroke="#c97272" stroke-width="1"/>
<text x="366.3" y="525.5" class="v" font-size="14.7">r<tspan font-size="13.3" dy="3.8" dx="-0.6">N</tspan></text>
<path d="M385.0 525.0 L391.7 533.3" fill="none" stroke="#1c1c1c" stroke-width="1"/>
<polygon points="391.7,533.3 385.6,529.9 389.6,526.6" fill="#1c1c1c"/>
<path d="M391.7 533.3 L400.0 534.3" fill="none" stroke="#1c1c1c" stroke-width="1"/>
<polygon points="400.0,534.3 393.2,536.1 393.9,531.0" fill="#1c1c1c"/>
<path d="M639.3 315.0H663.3V324.5L664.4 326.3L663.3 328.1V337.7H639.3Z" fill="none" stroke="#c97272" stroke-width="1"/>
<text x="641.3" y="329.8" class="v" font-size="16.3">Int</text>
<path d="M731.7 311.0H755.0V321.1L756.1 323.0L755.0 324.9V335.0H731.7Z" fill="none" stroke="#c97272" stroke-width="1"/>
<text x="733.7" y="323.5" class="v" font-size="14.7">K<tspan font-size="13.3" dy="3.8" dx="-0.6">N</tspan></text>
<polygon points="772.7,310.3 791.7,321.0 772.7,331.7" fill="none" stroke="#3434c4" stroke-width="1.35"/>
<path d="M775.7 321.0L783.3 321.0" stroke="#333" stroke-width="1" fill="none"/><circle cx="779.5" cy="318.0" r="0.8" fill="#333"/><circle cx="779.5" cy="324.0" r="0.8" fill="#333"/>
<path d="M796.7 330.0H813.3V341.9L814.4 344.2L813.3 346.4V358.3H796.7Z" fill="none" stroke="#c97272" stroke-width="1"/>
<text x="798.7" y="346.1" class="v" font-size="13.2">π<tspan font-size="11.9" dy="3.8" dx="-0.6">r</tspan></text>
<path d="M821.7 331.7H843.3V342.9L844.4 345.0L843.3 347.1V358.3H821.7Z" fill="none" stroke="#c97272" stroke-width="1"/>
<text x="823.7" y="346.9" class="v" font-size="14.7">I<tspan font-size="13.3" dy="3.8" dx="-0.6">fn</tspan></text>
<path d="M822.7 360.0H844.3V371.2L845.4 373.3L844.3 375.5V386.7H822.7Z" fill="none" stroke="#c97272" stroke-width="1"/>
<text x="824.7" y="375.2" class="v" font-size="14.7">Y<tspan font-size="13.3" dy="3.8" dx="-0.6">R</tspan></text>
<polygon points="849.3,347.3 868.3,357.8 849.3,368.3" fill="none" stroke="#3434c4" stroke-width="1.35"/>
<path d="M852.0 353.7L860.4 362.0M852.0 362.0L860.4 353.7" stroke="#333" stroke-width="1" fill="none"/>
<path d="M880.0 346.0H906.0V357.5L907.1 359.7L906.0 361.9V373.3H880.0Z" fill="none" stroke="#c97272" stroke-width="1"/>
<text x="882.0" y="361.6" class="v" font-size="14.7">I<tspan font-size="13.3" dy="3.8" dx="-0.6">RG</tspan></text>
<path d="M895.0 318.3H908.3V327.4L909.4 329.2L908.3 330.9V340.0H895.0Z" fill="none" stroke="#c97272" stroke-width="1"/>
<text x="897.0" y="332.5" class="v" font-size="14.7">P</text>
<polygon points="925.0,335.0 944.0,345.3 925.0,355.7" fill="none" stroke="#3434c4" stroke-width="1.35"/>
<path d="M927.7 341.2L936.0 349.5M927.7 349.5L936.0 341.2" stroke="#333" stroke-width="1" fill="none"/>
<path d="M960.7 330.0H988.3V341.2L989.4 343.3L988.3 345.5V356.7H960.7Z" fill="none" stroke="#c97272" stroke-width="1"/>
<text x="962.7" y="345.2" class="v" font-size="14.7">I<tspan font-size="13.3" dy="3.8" dx="-0.6">NG</tspan></text>
<path d="M961.7 362.7H986.0V373.7L987.1 375.8L986.0 377.9V389.0H961.7Z" fill="none" stroke="#c97272" stroke-width="1"/>
<text x="963.7" y="377.7" class="v" font-size="14.7">Π<tspan font-size="13.3" dy="3.8" dx="-0.6">N</tspan></text>
<polygon points="1003.3,347.3 1022.7,357.8 1003.3,368.3" fill="none" stroke="#3434c4" stroke-width="1.35"/>
<path d="M1006.0 357.8L1014.5 357.8" stroke="#333" stroke-width="1" fill="none"/>
<polygon points="1035.7,347.3 1054.3,357.8 1035.7,368.3" fill="none" stroke="#3434c4" stroke-width="1.35"/>
<text x="1042.4" y="360.7" text-anchor="middle" font-family="Liberation Sans, sans-serif" font-size="8.6" fill="#1e1e1e" stroke="#1e1e1e" stroke-width="0.25">∫dt</text>
<path d="M1062.7 345.7H1076.7V355.2L1077.8 357.0L1076.7 358.8V368.3H1062.7Z" fill="none" stroke="#c97272" stroke-width="1"/>
<text x="1064.7" y="360.5" class="v" font-size="14.7">D</text>
<path d="M755.0 321.7 L773.3 326.7" fill="none" stroke="#1c1c1c" stroke-width="1"/>
<polygon points="773.3,326.7 766.4,327.5 767.7,322.4" fill="#1c1c1c"/>
<path d="M791.7 321.0 L800.0 343.3" fill="none" stroke="#1c1c1c" stroke-width="1"/>
<polygon points="800.0,343.3 795.3,338.2 800.2,336.3" fill="#1c1c1c"/>
<path d="M843.3 345.7 L850.0 350.0" fill="none" stroke="#1c1c1c" stroke-width="1"/>
<polygon points="850.0,350.0 843.1,348.6 846.0,344.3" fill="#1c1c1c"/>
<path d="M844.3 372.3 L850.7 365.7" fill="none" stroke="#1c1c1c" stroke-width="1"/>
<polygon points="850.7,365.7 848.1,372.2 844.3,368.6" fill="#1c1c1c"/>
<path d="M868.3 357.7 L880.0 359.0" fill="none" stroke="#1c1c1c" stroke-width="1"/>
<polygon points="880.0,359.0 873.2,360.8 873.8,355.7" fill="#1c1c1c"/>
<path d="M908.3 330.0 L926.0 338.3" fill="none" stroke="#1c1c1c" stroke-width="1"/>
<polygon points="926.0,338.3 919.0,337.9 921.2,333.2" fill="#1c1c1c"/>
<path d="M906.0 359.0 L926.7 353.3" fill="none" stroke="#1c1c1c" stroke-width="1"/>
<polygon points="926.7,353.3 921.1,357.6 919.7,352.5" fill="#1c1c1c"/>
<path d="M944.0 345.0 L960.7 344.3" fill="none" stroke="#1c1c1c" stroke-width="1"/>
<polygon points="960.7,344.3 954.3,347.2 954.1,342.0" fill="#1c1c1c"/>
<path d="M988.3 344.3 L1004.3 351.0" fill="none" stroke="#1c1c1c" stroke-width="1"/>
<polygon points="1004.3,351.0 997.3,350.9 999.3,346.1" fill="#1c1c1c"/>
<path d="M986.0 374.3 L1004.3 365.7" fill="none" stroke="#1c1c1c" stroke-width="1"/>
<polygon points="1004.3,365.7 999.6,370.8 997.3,366.1" fill="#1c1c1c"/>
<path d="M1022.7 357.7 L1035.7 357.7" fill="none" stroke="#1c1c1c" stroke-width="1"/>
<polygon points="1035.7,357.7 1029.2,360.3 1029.2,355.1" fill="#1c1c1c"/>
<path d="M1054.3 357.7 L1062.7 357.7" fill="none" stroke="#1c1c1c" stroke-width="1"/>
<path d="M1076.7 357.0 C1106.7 361.7,1130.0 385.0,1136.7 421.7 S1140.0 481.7,1122.3 513.7" fill="none" stroke="#1c1c1c" stroke-width="1"/>
<polygon points="1122.3,514.3 1123.1,507.4 1127.7,509.8" fill="#1c1c1c"/>
<path d="M697.3 422.3H730.0V433.5L731.1 435.7L730.0 437.8V449.0H697.3Z" fill="none" stroke="#c97272" stroke-width="1"/>
<text x="699.3" y="437.5" class="v" font-size="14.7">g<tspan font-size="13.3" dy="3.8" dx="-0.6">N</tspan><tspan font-size="14.7" dy="-3.8" dx="0.5">%</tspan></text>
<path d="M697.3 454.3H730.0V465.5L731.1 467.7L730.0 469.8V481.0H697.3Z" fill="none" stroke="#c97272" stroke-width="1"/>
<text x="699.3" y="469.5" class="v" font-size="14.7">g<tspan font-size="13.3" dy="3.8" dx="-0.6">R</tspan><tspan font-size="14.7" dy="-3.8" dx="0.5">%</tspan></text>
<path d="M730.0 435.7 L750.7 425.7" fill="none" stroke="#1c1c1c" stroke-width="1"/>
<polygon points="750.7,425.7 745.9,430.8 743.7,426.2" fill="#1c1c1c"/>
<path d="M730.0 435.7 L742.7 429.3" fill="none" stroke="#1c1c1c" stroke-width="1"/>
<polygon points="742.7,429.3 738.0,434.6 735.7,429.9" fill="#1c1c1c"/>
<path d="M730.0 467.7 L741.7 461.7" fill="none" stroke="#1c1c1c" stroke-width="1"/>
<polygon points="741.7,461.7 737.1,467.0 734.7,462.3" fill="#1c1c1c"/>
<path d="M947.7 396.0H965.7V407.9L966.8 410.2L965.7 412.4V424.3H947.7Z" fill="none" stroke="#c97272" stroke-width="1"/>
<text x="949.7" y="412.1" class="v" font-size="14.7">b<tspan font-size="13.3" dy="3.8" dx="-0.6">s</tspan></text>
<path d="M965.7 411.7 L972.7 420.0" fill="none" stroke="#1c1c1c" stroke-width="1"/>
<polygon points="972.7,420.0 966.5,416.7 970.5,413.4" fill="#1c1c1c"/>
<path d="M972.7 420.0 L984.3 421.0" fill="none" stroke="#1c1c1c" stroke-width="1"/>
<polygon points="984.3,421.0 977.6,423.0 978.1,417.9" fill="#1c1c1c"/>
<path d="M985.7 497.7H1002.7V509.1L1003.8 511.3L1002.7 513.5V525.0H985.7Z" fill="none" stroke="#c97272" stroke-width="1"/>
<text x="987.7" y="513.2" class="v" font-size="14.7">b<tspan font-size="13.3" dy="3.8" dx="-0.6">s</tspan></text>
<path d="M1055.0 521.7H1077.3V531.2L1078.4 533.0L1077.3 534.8V544.3H1055.0Z" fill="none" stroke="#c97272" stroke-width="1"/>
<text x="1057.0" y="536.5" class="v" font-size="16.3">Int</text>
<polygon points="1122.7,514.3 1103.3,524.7 1122.7,535.0" fill="none" stroke="#3434c4" stroke-width="1.35"/>
<path d="M1111.5 520.4L1120.0 528.9M1111.5 528.9L1120.0 520.4" stroke="#333" stroke-width="1" fill="none"/>
<path d="M1142.7 517.7H1161.7V529.4L1162.8 531.7L1161.7 533.9V545.7H1142.7Z" fill="none" stroke="#c97272" stroke-width="1"/>
<text x="1144.7" y="533.6" class="v" font-size="14.7">r<tspan font-size="13.3" dy="3.8" dx="-0.6">N</tspan></text>
<path d="M1142.7 532.3 L1123.3 533.3" fill="none" stroke="#1c1c1c" stroke-width="1"/>
<polygon points="1123.3,533.3 1129.7,530.4 1130.0,535.6" fill="#1c1c1c"/>
<path d="M1103.3 525.0 L1077.3 533.3" fill="none" stroke="#1c1c1c" stroke-width="1"/>
<polygon points="1077.3,533.3 1082.7,528.9 1084.3,533.8" fill="#1c1c1c"/>
<path d="M911.7 550.0H925.0V559.8L926.1 561.7L925.0 563.5V573.3H911.7Z" fill="none" stroke="#c97272" stroke-width="1"/>
<text x="913.7" y="565.3" class="v" font-size="13.2">α</text>
<path d="M901.7 580.7H914.0V590.2L915.1 592.0L914.0 593.8V603.3H901.7Z" fill="none" stroke="#c97272" stroke-width="1"/>
<text x="903.7" y="595.5" class="v" font-size="14.7">a</text>
<polygon points="933.3,565.7 952.3,576.2 933.3,586.7" fill="none" stroke="#3434c4" stroke-width="1.35"/>
<path d="M936.0 572.0L944.4 580.3M936.0 580.3L944.4 572.0" stroke="#333" stroke-width="1" fill="none"/>
<polygon points="965.7,565.0 985.0,575.3 965.7,585.7" fill="none" stroke="#3434c4" stroke-width="1.35"/>
<text x="972.6" y="578.2" text-anchor="middle" font-family="Liberation Sans, sans-serif" font-size="8.6" fill="#1e1e1e" stroke="#1e1e1e" stroke-width="0.25">∫dt</text>
<path d="M992.3 564.3H1005.0V573.7L1006.1 575.5L1005.0 577.3V586.7H992.3Z" fill="none" stroke="#c97272" stroke-width="1"/>
<text x="994.3" y="579.0" class="v" font-size="14.7">a</text>
<path d="M925.0 562.3 L934.0 568.3" fill="none" stroke="#1c1c1c" stroke-width="1"/>
<polygon points="934.0,568.3 927.1,566.9 930.0,562.6" fill="#1c1c1c"/>
<path d="M914.0 591.7 L934.0 585.0" fill="none" stroke="#1c1c1c" stroke-width="1"/>
<polygon points="934.0,585.0 928.7,589.5 927.0,584.6" fill="#1c1c1c"/>
<path d="M952.3 576.0 L965.7 575.7" fill="none" stroke="#1c1c1c" stroke-width="1"/>
<polygon points="965.7,575.7 959.2,578.4 959.1,573.2" fill="#1c1c1c"/>
<path d="M985.0 575.7 L992.3 575.7" fill="none" stroke="#1c1c1c" stroke-width="1"/>
<path d="M903.3 610.0H916.7V619.1L917.8 620.8L916.7 622.6V631.7H903.3Z" fill="none" stroke="#c97272" stroke-width="1"/>
<text x="905.3" y="624.2" class="v" font-size="13.2">β</text>
<path d="M1164.3 595.0H1178.3V604.8L1179.4 606.7L1178.3 608.5V618.3H1164.3Z" fill="none" stroke="#c97272" stroke-width="1"/>
<text x="1166.3" y="610.3" class="v" font-size="13.2">ω</text>
<path d="M1178.5 606.7 L1207.3 607.3" fill="none" stroke="#1c1c1c" stroke-width="1"/>
<polygon points="1207.3,607.3 1200.7,609.8 1200.9,604.6" fill="#1c1c1c"/>
<path d="M1178.5 606.7 L1199.5 607.1" fill="none" stroke="#1c1c1c" stroke-width="1"/>
<polygon points="1199.5,607.1 1193.0,609.6 1193.1,604.4" fill="#1c1c1c"/>
<path d="M693.3 609.3H706.7V618.0L707.8 619.7L706.7 621.3V630.0H693.3Z" fill="none" stroke="#c97272" stroke-width="1"/>
<text x="695.3" y="622.9" class="v" font-size="14.7">P</text>
<path d="M47.7 682.7H115.0V692.0L116.1 693.8L115.0 695.6V705.0H47.7Z" fill="none" stroke="#c97272" stroke-width="1"/>
<text x="49.7" y="697.3" class="v" font-size="16.7">Nonlinear</text>
<text x="33.3" y="716.0" text-anchor="middle" font-family="Liberation Sans, sans-serif" font-size="9.6" fill="#2d343a">10.0</text>
<rect x="2.7" y="721.7" width="44.0" height="6.7" fill="#8f999d" stroke="#b3bbbe" stroke-width="1"/>
<rect x="16.7" y="722.5" width="26.4" height="5.3" fill="#b9c0c3"/>
<path d="M16.7 727.2H43.1" fill="none" stroke="#262b2e" stroke-width="1.9"/>
<path d="M42.7 727.7V722.9" stroke="#3a4044" stroke-width="1.2"/>
<path d="M29.9 722.7V727.7" stroke="#4a5154" stroke-width="1"/>
<path d="M16.0 731.7H35.0V740.5L36.1 742.2L35.0 743.8V752.7H16.0Z" fill="none" stroke="#c97272" stroke-width="1"/>
<text x="18.0" y="743.6" class="v" font-size="14.0">λ<tspan font-size="12.6" dy="3.8" dx="-0.6">S</tspan></text>
<polygon points="60.0,744.3 79.3,754.7 60.0,765.0" fill="none" stroke="#3434c4" stroke-width="1.35"/>
<path d="M62.7 750.4L71.2 758.9M62.7 758.9L71.2 750.4" stroke="#333" stroke-width="1" fill="none"/>
<path d="M-5.0 753.3H7.3V762.4L8.4 764.2L7.3 765.9V775.0H-5.0Z" fill="none" stroke="#c97272" stroke-width="1"/>
<text x="1.0" y="767.5" class="v" font-size="14.7">λ</text>
<polygon points="22.7,767.3 41.7,777.8 22.7,788.3" fill="none" stroke="#3434c4" stroke-width="1.35"/>
<path d="M25.3 777.8L33.7 777.8" stroke="#333" stroke-width="1" fill="none"/>
<path d="M-6.7 785.0H13.3V796.9L14.4 799.2L13.3 801.4V813.3H-6.7Z" fill="none" stroke="#c97272" stroke-width="1"/>
<text x="1.3" y="803.6" class="v" font-size="11.6">nil</text>
<path d="M30.7 812.7H86.7V824.1L87.8 826.3L86.7 828.5V840.0H30.7Z" fill="none" stroke="#c97272" stroke-width="1"/>
<text x="32.7" y="828.2" class="v" font-size="13.2">w<tspan font-size="11.9" dy="3.8" dx="-0.6">fnNL</tspan></text>
<path d="M35.0 738.3 L60.7 746.7" fill="none" stroke="#1c1c1c" stroke-width="1"/>
<polygon points="60.7,746.7 53.7,747.1 55.3,742.2" fill="#1c1c1c"/>
<path d="M7.3 764.0 L23.3 769.3" fill="none" stroke="#1c1c1c" stroke-width="1"/>
<polygon points="23.3,769.3 16.3,769.7 18.0,764.8" fill="#1c1c1c"/>
<path d="M41.7 777.7 L60.7 762.7" fill="none" stroke="#1c1c1c" stroke-width="1"/>
<polygon points="60.7,762.7 57.2,768.7 54.0,764.7" fill="#1c1c1c"/>
<path d="M13.3 795.0 L24.0 786.7" fill="none" stroke="#1c1c1c" stroke-width="1"/>
<polygon points="24.0,786.7 20.5,792.7 17.3,788.6" fill="#1c1c1c"/>
<text x="40.7" y="896.6" text-anchor="middle" font-family="Liberation Sans, sans-serif" font-size="9.6" fill="#2d343a">0.65</text>
<rect x="11.7" y="901.7" width="43.3" height="6.7" fill="#8f999d" stroke="#b3bbbe" stroke-width="1"/>
<rect x="27.3" y="902.5" width="26.0" height="5.3" fill="#b9c0c3"/>
<path d="M27.3 907.2H53.3" fill="none" stroke="#262b2e" stroke-width="1.9"/>
<path d="M52.9 907.7V902.9" stroke="#3a4044" stroke-width="1.2"/>
<path d="M40.3 902.7V907.7" stroke="#4a5154" stroke-width="1"/>
<path d="M23.3 911.0H43.3V919.7L44.4 921.3L43.3 923.0V931.7H23.3Z" fill="none" stroke="#c97272" stroke-width="1"/>
<text x="26.3" y="921.6" class="v" font-size="14.0">x<tspan font-size="12.6" dy="3.8" dx="-0.6">w</tspan></text>
<path d="M81.7 911.7H105.0V922.9L106.1 925.0L105.0 927.1V938.3H81.7Z" fill="none" stroke="#c97272" stroke-width="1"/>
<text x="84.7" y="926.9" class="v" font-size="14.0">y<tspan font-size="12.6" dy="3.8" dx="-0.6">w</tspan></text>
<text x="145.0" y="900.0" text-anchor="middle" font-family="Liberation Sans, sans-serif" font-size="9.6" fill="#2d343a">2.0</text>
<rect x="121.7" y="905.0" width="43.3" height="6.0" fill="#8f999d" stroke="#b3bbbe" stroke-width="1"/>
<rect x="130.3" y="905.8" width="26.0" height="4.6" fill="#b9c0c3"/>
<path d="M130.3 909.9H156.3" fill="none" stroke="#262b2e" stroke-width="1.9"/>
<path d="M155.9 910.4V906.2" stroke="#3a4044" stroke-width="1.2"/>
<path d="M143.3 906.0V910.4" stroke="#4a5154" stroke-width="1"/>
<path d="M135.0 914.3H155.0V923.7L156.1 925.5L155.0 927.3V936.7H135.0Z" fill="none" stroke="#c97272" stroke-width="1"/>
<text x="138.0" y="925.3" class="v" font-size="14.0">s<tspan font-size="12.6" dy="3.8" dx="-0.6">w</tspan></text>
<text x="222.7" y="893.3" text-anchor="middle" font-family="Liberation Sans, sans-serif" font-size="9.6" fill="#2d343a">-0.04</text>
<rect x="199.0" y="898.3" width="44.3" height="6.7" fill="#8f999d" stroke="#b3bbbe" stroke-width="1"/>
<rect x="207.9" y="899.1" width="26.6" height="5.3" fill="#b9c0c3"/>
<path d="M207.9 903.9H234.5" fill="none" stroke="#262b2e" stroke-width="1.9"/>
<path d="M234.1 904.4V899.5" stroke="#3a4044" stroke-width="1.2"/>
<path d="M221.2 899.3V904.4" stroke="#4a5154" stroke-width="1"/>
<path d="M207.3 908.3H236.7V917.4L237.8 919.2L236.7 920.9V930.0H207.3Z" fill="none" stroke="#c97272" stroke-width="1"/>
<text x="210.3" y="918.9" class="v" font-size="14.0">m<tspan font-size="12.6" dy="3.8" dx="-0.6">w</tspan></text>
<text x="285.0" y="892.6" text-anchor="middle" font-family="Liberation Sans, sans-serif" font-size="9.6" fill="#2d343a">0.03</text>
<rect x="266.0" y="897.7" width="44.0" height="6.7" fill="#8f999d" stroke="#b3bbbe" stroke-width="1"/>
<rect x="271.3" y="898.5" width="26.4" height="5.3" fill="#b9c0c3"/>
<path d="M271.3 903.2H297.7" fill="none" stroke="#262b2e" stroke-width="1.9"/>
<path d="M297.3 903.7V898.9" stroke="#3a4044" stroke-width="1.2"/>
<path d="M284.5 898.7V903.7" stroke="#4a5154" stroke-width="1"/>
<path d="M280.0 906.7H296.7V915.8L297.8 917.5L296.7 919.2V928.3H280.0Z" fill="none" stroke="#c97272" stroke-width="1"/>
<text x="283.0" y="917.2" class="v" font-size="14.0">y<tspan font-size="12.6" dy="3.8" dx="-0.6">I</tspan></text>
<path d="M296.7 916.0 L334.3 918.3" fill="none" stroke="#1c1c1c" stroke-width="1"/>
<polygon points="334.3,918.3 327.7,920.5 328.0,915.3" fill="#1c1c1c"/>
<path d="M334.3 904.3H350.7V915.8L351.8 918.0L350.7 920.2V931.7H334.3Z" fill="none" stroke="#c97272" stroke-width="1"/>
<text x="337.3" y="919.9" class="v" font-size="14.0">x<tspan font-size="12.6" dy="3.8" dx="-0.6">I</tspan></text>
<text x="389.3" y="896.0" text-anchor="middle" font-family="Liberation Sans, sans-serif" font-size="9.6" fill="#2d343a">1.5</text>
<rect x="366.7" y="900.7" width="44.0" height="6.0" fill="#8f999d" stroke="#b3bbbe" stroke-width="1"/>
<rect x="375.5" y="901.5" width="26.4" height="4.6" fill="#b9c0c3"/>
<path d="M375.5 905.6H401.9" fill="none" stroke="#262b2e" stroke-width="1.9"/>
<path d="M401.5 906.1V901.9" stroke="#3a4044" stroke-width="1.2"/>
<path d="M388.7 901.7V906.1" stroke="#4a5154" stroke-width="1"/>
<path d="M381.7 909.3H398.3V918.7L399.4 920.5L398.3 922.3V931.7H381.7Z" fill="none" stroke="#c97272" stroke-width="1"/>
<text x="384.7" y="920.3" class="v" font-size="14.0">s<tspan font-size="12.6" dy="3.8" dx="-0.6">I</tspan></text>
<path d="M436.0 910.0H456.0V921.9L457.1 924.2L456.0 926.4V938.3H436.0Z" fill="none" stroke="#c97272" stroke-width="1"/>
<text x="438.0" y="926.1" class="v" font-size="14.0">m<tspan font-size="12.6" dy="3.8" dx="-0.6">I</tspan></text>
<text x="526.0" y="898.3" text-anchor="middle" font-family="Liberation Sans, sans-serif" font-size="9.6" fill="#2d343a">0.028</text>
<rect x="511.7" y="903.3" width="44.3" height="6.0" fill="#8f999d" stroke="#b3bbbe" stroke-width="1"/>
<rect x="515.2" y="904.1" width="26.6" height="4.6" fill="#b9c0c3"/>
<path d="M515.2 908.2H541.8" fill="none" stroke="#262b2e" stroke-width="1.9"/>
<path d="M541.4 908.7V904.5" stroke="#3a4044" stroke-width="1.2"/>
<path d="M528.5 904.3V908.7" stroke="#4a5154" stroke-width="1"/>
<path d="M525.0 912.7H541.7V922.0L542.8 923.8L541.7 925.6V935.0H525.0Z" fill="none" stroke="#c97272" stroke-width="1"/>
<text x="528.0" y="923.6" class="v" font-size="14.0">r<tspan font-size="12.6" dy="3.8" dx="-0.6">B</tspan></text>
<path d="M395.0 643.3H416.7V655.2L417.8 657.5L416.7 659.8V671.7H395.0Z" fill="none" stroke="#c97272" stroke-width="1"/>
<text x="397.0" y="659.5" class="v" font-size="14.7">r<tspan font-size="13.3" dy="3.8" dx="-0.6">P'</tspan></text>
<path d="M396.7 682.7H410.7V691.6L411.8 693.3L410.7 695.0V704.0H396.7Z" fill="none" stroke="#6a6ad0" stroke-width="1"/>
<text x="402.7" y="696.6" class="v" font-size="10.8">b</text>
<polygon points="439.3,665.0 458.3,675.5 439.3,686.0" fill="none" stroke="#3434c4" stroke-width="1.35"/>
<text x="446.2" y="678.5" text-anchor="middle" font-family="Liberation Sans, sans-serif" font-size="9" fill="#1e1e1e" stroke="#1e1e1e" stroke-width="0.25">≤</text>
<path d="M416.7 659.3 L440.0 667.3" fill="none" stroke="#1c1c1c" stroke-width="1"/>
<polygon points="440.0,667.3 433.0,667.7 434.7,662.8" fill="#1c1c1c"/>
<path d="M410.7 693.3 L440.0 683.3" fill="none" stroke="#1c1c1c" stroke-width="1"/>
<polygon points="440.0,683.3 434.7,687.9 433.0,683.0" fill="#1c1c1c"/>
<path d="M458.3 675.7 L530.0 704.0" fill="none" stroke="#1c1c1c" stroke-width="1"/>
<polygon points="530.0,704.0 523.0,704.0 524.9,699.2" fill="#1c1c1c"/>
<path d="M530.0 704.0 L535.7 713.3" fill="none" stroke="#1c1c1c" stroke-width="1"/>
<polygon points="535.7,713.3 530.1,709.1 534.5,706.4" fill="#1c1c1c"/>
<rect x="527.7" y="714.3" width="14" height="13.3" fill="none" stroke="#333" stroke-width="1"/>
<polygon points="520.0,722.7 527.3,725.0 520.0,727.3" fill="#e01818"/>
<path d="M424.3 719.3H445.0V730.1L446.1 732.2L445.0 734.2V745.0H424.3Z" fill="none" stroke="#c97272" stroke-width="1"/>
<text x="426.3" y="734.0" class="v" font-size="14.7">r<tspan font-size="13.3" dy="3.8" dx="-0.6">P'</tspan></text>
<polygon points="466.7,716.0 485.0,726.7 466.7,737.3" fill="none" stroke="#3434c4" stroke-width="1.35"/>
<path d="M469.6 726.7L476.9 726.7M473.3 723.0L473.3 730.3" stroke="#333" stroke-width="1" fill="none"/>
<path d="M427.7 745.0H444.3V756.2L445.4 758.3L444.3 760.5V771.7H427.7Z" fill="none" stroke="#c97272" stroke-width="1"/>
<text x="429.7" y="760.2" class="v" font-size="14.7">r<tspan font-size="13.3" dy="3.8" dx="-0.6">B</tspan></text>
<path d="M445.0 731.7 L467.3 721.7" fill="none" stroke="#1c1c1c" stroke-width="1"/>
<polygon points="467.3,721.7 462.5,726.7 460.3,722.0" fill="#1c1c1c"/>
<path d="M444.3 758.3 L467.3 736.0" fill="none" stroke="#1c1c1c" stroke-width="1"/>
<polygon points="467.3,736.0 464.5,742.4 460.9,738.7" fill="#1c1c1c"/>
<path d="M485.0 726.7 L526.7 718.3" fill="none" stroke="#1c1c1c" stroke-width="1"/>
<polygon points="526.7,718.3 520.8,722.2 519.8,717.1" fill="#1c1c1c"/>
<path d="M444.3 758.3 L526.7 725.0" fill="none" stroke="#1c1c1c" stroke-width="1"/>
<polygon points="526.7,725.0 521.6,729.8 519.7,725.0" fill="#1c1c1c"/>
<path d="M541.7 720.0 L598.3 723.3" fill="none" stroke="#1c1c1c" stroke-width="1"/>
<polygon points="598.3,723.3 591.7,725.5 592.0,720.4" fill="#1c1c1c"/>
<path d="M541.7 720.0 L553.3 720.7" fill="none" stroke="#1c1c1c" stroke-width="1"/>
<polygon points="553.3,720.7 546.7,722.9 547.0,717.7" fill="#1c1c1c"/>
<path d="M421.7 776.0H441.7V787.5L442.8 789.7L441.7 791.9V803.3H421.7Z" fill="none" stroke="#c97272" stroke-width="1"/>
<text x="423.7" y="791.6" class="v" font-size="14.7">I<tspan font-size="13.3" dy="3.8" dx="-0.6">fn</tspan></text>
<path d="M401.7 789.3 L421.7 790.0" fill="none" stroke="#1c1c1c" stroke-width="1"/>
<polygon points="421.7,790.0 415.1,792.4 415.3,787.2" fill="#1c1c1c"/>
<path d="M501.7 800.0H515.0V809.8L516.1 811.7L515.0 813.5V823.3H501.7Z" fill="none" stroke="#c97272" stroke-width="1"/>
<text x="503.7" y="815.3" class="v" font-size="14.7">P</text>
<polygon points="540.0,785.0 559.3,795.5 540.0,806.0" fill="none" stroke="#3434c4" stroke-width="1.35"/>
<text x="547.0" y="797.3" text-anchor="middle" font-family="Liberation Sans, sans-serif" font-size="5.5" fill="#1e1e1e" stroke="#1e1e1e" stroke-width="0.25">d/dt</text>
<polygon points="575.0,791.7 594.0,802.2 575.0,812.7" fill="none" stroke="#3434c4" stroke-width="1.35"/>
<path d="M578.0 802.2L585.6 802.2" stroke="#333" stroke-width="1" fill="none"/><circle cx="581.8" cy="799.1" r="0.8" fill="#333"/><circle cx="581.8" cy="805.2" r="0.8" fill="#333"/>
<path d="M515.0 811.7 L540.7 796.7" fill="none" stroke="#1c1c1c" stroke-width="1"/>
<polygon points="540.7,796.7 536.4,802.2 533.7,797.7" fill="#1c1c1c"/>
<path d="M515.0 812.7 L575.7 810.0" fill="none" stroke="#1c1c1c" stroke-width="1"/>
<polygon points="575.7,810.0 569.3,812.9 569.1,807.7" fill="#1c1c1c"/>
<path d="M559.3 795.7 L575.7 795.0" fill="none" stroke="#1c1c1c" stroke-width="1"/>
<polygon points="575.7,795.0 569.3,797.9 569.1,792.7" fill="#1c1c1c"/>
<path d="M533.3 632.7H546.7V642.0L547.8 643.8L546.7 645.6V655.0H533.3Z" fill="none" stroke="#c97272" stroke-width="1"/>
<text x="535.3" y="647.3" class="v" font-size="14.7">λ</text>
<path d="M545.0 645.0 L566.7 625.0" fill="none" stroke="#1c1c1c" stroke-width="1"/>
<polygon points="566.7,625.0 563.7,631.3 560.1,627.5" fill="#1c1c1c"/>
<path d="M636.0 658.3H648.3V668.1L649.4 670.0L648.3 671.9V681.7H636.0Z" fill="none" stroke="#6a6ad0" stroke-width="1"/>
<text x="639.0" y="673.0" class="v" font-size="10.8">1</text>
<path d="M658.3 646.7H672.7V656.5L673.8 658.3L672.7 660.2V670.0H658.3Z" fill="none" stroke="#c97272" stroke-width="1"/>
<text x="660.3" y="661.9" class="v" font-size="13.2">ω</text>
<path d="M646.7 688.3H657.3V697.9L658.4 699.7L657.3 701.5V711.0H646.7Z" fill="none" stroke="#c97272" stroke-width="1"/>
<text x="648.7" y="703.2" class="v" font-size="13.2">s</text>
<polygon points="669.0,680.7 687.3,691.7 669.0,702.7" fill="none" stroke="#3434c4" stroke-width="1.35"/>
<path d="M671.6 691.7L679.6 691.7" stroke="#333" stroke-width="1" fill="none"/>
<path d="M692.7 637.3H711.0V648.7L712.1 650.8L711.0 653.0V664.3H692.7Z" fill="none" stroke="#c97272" stroke-width="1"/>
<text x="694.7" y="652.7" class="v" font-size="13.2">τ<tspan font-size="11.9" dy="3.8" dx="-0.6">P</tspan></text>
<polygon points="730.7,644.3 749.0,655.0 730.7,665.7" fill="none" stroke="#3434c4" stroke-width="1.35"/>
<path d="M733.6 655.0L740.9 655.0M737.3 651.3L737.3 658.7" stroke="#333" stroke-width="1" fill="none"/>
<polygon points="762.3,649.0 781.7,659.2 762.3,669.3" fill="none" stroke="#3434c4" stroke-width="1.35"/>
<path d="M765.0 659.2L773.5 659.2" stroke="#333" stroke-width="1" fill="none"/>
<path d="M741.7 662.3H752.7V671.9L753.8 673.7L752.7 675.5V685.0H741.7Z" fill="none" stroke="#6a6ad0" stroke-width="1"/>
<text x="744.7" y="676.6" class="v" font-size="10.8">1</text>
<polygon points="759.3,678.3 778.3,688.8 759.3,699.3" fill="none" stroke="#3434c4" stroke-width="1.35"/>
<path d="M762.0 688.8L770.4 688.8" stroke="#333" stroke-width="1" fill="none"/>
<polygon points="726.0,692.7 745.0,703.0 726.0,713.3" fill="none" stroke="#3434c4" stroke-width="1.35"/>
<path d="M729.0 703.0L736.6 703.0M732.8 699.2L732.8 706.8" stroke="#333" stroke-width="1" fill="none"/>
<polygon points="785.7,668.3 804.0,678.8 785.7,689.3" fill="none" stroke="#3434c4" stroke-width="1.35"/>
<path d="M788.2 674.8L796.3 682.9M788.2 682.9L796.3 674.8" stroke="#333" stroke-width="1" fill="none"/>
<polygon points="811.0,666.7 830.0,677.2 811.0,687.7" fill="none" stroke="#3434c4" stroke-width="1.35"/>
<text x="817.8" y="680.0" text-anchor="middle" font-family="Liberation Sans, sans-serif" font-size="8.6" fill="#1e1e1e" stroke="#1e1e1e" stroke-width="0.25">∫dt</text>
<path d="M838.3 665.0H851.7V674.8L852.8 676.7L851.7 678.5V688.3H838.3Z" fill="none" stroke="#c97272" stroke-width="1"/>
<text x="840.3" y="680.3" class="v" font-size="14.7">P</text>
<path d="M707 621 C714 630,722 640,730.5 646.5" fill="none" stroke="#1c1c1c" stroke-width="1"/>
<polygon points="731.5,647.3 724.8,645.3 728.0,641.2" fill="#1c1c1c"/>
<path d="M711.0 650.7 L731.7 662.7" fill="none" stroke="#1c1c1c" stroke-width="1"/>
<polygon points="731.7,662.7 724.7,661.7 727.4,657.2" fill="#1c1c1c"/>
<path d="M749.0 655.0 L763.3 666.0" fill="none" stroke="#1c1c1c" stroke-width="1"/>
<polygon points="763.3,666.0 756.6,664.1 759.8,660.0" fill="#1c1c1c"/>
<path d="M648.3 670.0 L670.0 683.3" fill="none" stroke="#1c1c1c" stroke-width="1"/>
<polygon points="670.0,683.3 663.1,682.1 665.8,677.7" fill="#1c1c1c"/>
<path d="M657.3 700.0 L670.0 699.3" fill="none" stroke="#1c1c1c" stroke-width="1"/>
<polygon points="670.0,699.3 663.6,702.3 663.4,697.1" fill="#1c1c1c"/>
<path d="M672.7 659.3 L727.3 695.0" fill="none" stroke="#1c1c1c" stroke-width="1"/>
<polygon points="727.3,695.0 720.5,693.6 723.3,689.3" fill="#1c1c1c"/>
<path d="M687.3 691.7 L727.3 710.7" fill="none" stroke="#1c1c1c" stroke-width="1"/>
<polygon points="727.3,710.7 720.3,710.2 722.6,705.5" fill="#1c1c1c"/>
<path d="M745.0 702.7 L760.0 696.7" fill="none" stroke="#1c1c1c" stroke-width="1"/>
<polygon points="760.0,696.7 754.9,701.5 753.0,696.7" fill="#1c1c1c"/>
<path d="M752.7 675.0 L760.7 680.7" fill="none" stroke="#1c1c1c" stroke-width="1"/>
<polygon points="760.7,680.7 753.9,679.0 756.9,674.8" fill="#1c1c1c"/>
<path d="M781.7 659.3 L787.3 671.7" fill="none" stroke="#1c1c1c" stroke-width="1"/>
<polygon points="787.3,671.7 782.3,666.8 787.0,664.7" fill="#1c1c1c"/>
<path d="M778.3 689.3 L786.7 687.3" fill="none" stroke="#1c1c1c" stroke-width="1"/>
<polygon points="786.7,687.3 781.0,691.4 779.7,686.3" fill="#1c1c1c"/>
<path d="M804.0 678.3 L811.0 677.7" fill="none" stroke="#1c1c1c" stroke-width="1"/>
<polygon points="811.0,677.7 804.8,680.9 804.3,675.7" fill="#1c1c1c"/>
<path d="M830.0 677.3 L838.3 676.7" fill="none" stroke="#1c1c1c" stroke-width="1"/>
<path d="M670.7 712.7H696.7V724.1L697.8 726.3L696.7 728.5V740.0H670.7Z" fill="none" stroke="#c97272" stroke-width="1"/>
<text x="672.7" y="728.2" class="v" font-size="14.7">W<tspan font-size="13.3" dy="3.8" dx="-0.6">N</tspan></text>
<path d="M676.0 746.7H698.3V758.1L699.4 760.3L698.3 762.5V774.0H676.0Z" fill="none" stroke="#c97272" stroke-width="1"/>
<text x="678.0" y="762.2" class="v" font-size="14.7">Y<tspan font-size="13.3" dy="3.8" dx="-0.6">N</tspan></text>
<polygon points="708.3,728.3 726.7,738.8 708.3,749.3" fill="none" stroke="#3434c4" stroke-width="1.35"/>
<path d="M711.3 738.8L718.6 738.8" stroke="#333" stroke-width="1" fill="none"/><circle cx="714.9" cy="735.9" r="0.8" fill="#333"/><circle cx="714.9" cy="741.8" r="0.8" fill="#333"/>
<path d="M736.7 728.3H751.7V738.1L752.8 740.0L751.7 741.9V751.7H736.7Z" fill="none" stroke="#c97272" stroke-width="1"/>
<text x="738.7" y="743.6" class="v" font-size="13.2">ω</text>
<path d="M696.7 726.7 L709.0 730.7" fill="none" stroke="#1c1c1c" stroke-width="1"/>
<polygon points="709.0,730.7 702.0,731.1 703.6,726.2" fill="#1c1c1c"/>
<path d="M698.3 760.7 L709.0 747.3" fill="none" stroke="#1c1c1c" stroke-width="1"/>
<polygon points="709.0,747.3 707.0,754.0 702.9,750.8" fill="#1c1c1c"/>
<path d="M726.7 739.0 L736.7 740.0" fill="none" stroke="#1c1c1c" stroke-width="1"/>
<polygon points="736.7,740.0 729.9,741.9 730.5,736.8" fill="#1c1c1c"/>
<path d="M793.3 701.7H806.7V711.2L807.8 713.0L806.7 714.8V724.3H793.3Z" fill="none" stroke="#c97272" stroke-width="1"/>
<text x="795.3" y="716.5" class="v" font-size="14.7">D</text>
<path d="M788.3 725.0H811.0V736.6L812.1 738.8L811.0 741.0V752.7H788.3Z" fill="none" stroke="#c97272" stroke-width="1"/>
<text x="790.3" y="740.8" class="v" font-size="14.7">Y<tspan font-size="13.3" dy="3.8" dx="-0.6">N</tspan></text>
<polygon points="826.0,716.0 845.0,726.7 826.0,737.3" fill="none" stroke="#3434c4" stroke-width="1.35"/>
<path d="M829.0 726.7L836.6 726.7" stroke="#333" stroke-width="1" fill="none"/><circle cx="832.8" cy="723.6" r="0.8" fill="#333"/><circle cx="832.8" cy="729.7" r="0.8" fill="#333"/>
<path d="M857.7 713.3H870.0V722.9L871.1 724.7L870.0 726.5V736.0H857.7Z" fill="none" stroke="#c97272" stroke-width="1"/>
<text x="859.7" y="728.2" class="v" font-size="14.7">d</text>
<path d="M806.7 713.3 L826.7 719.3" fill="none" stroke="#1c1c1c" stroke-width="1"/>
<polygon points="826.7,719.3 819.7,720.0 821.2,715.0" fill="#1c1c1c"/>
<path d="M811.0 739.3 L826.7 735.0" fill="none" stroke="#1c1c1c" stroke-width="1"/>
<polygon points="826.7,735.0 821.1,739.2 819.7,734.2" fill="#1c1c1c"/>
<path d="M845.0 726.7 L857.7 725.7" fill="none" stroke="#1c1c1c" stroke-width="1"/>
<polygon points="857.7,725.7 851.4,728.8 851.0,723.6" fill="#1c1c1c"/>
<path d="M595.0 708.3H615.0V720.2L616.1 722.5L615.0 724.8V736.7H595.0Z" fill="none" stroke="#c97272" stroke-width="1"/>
<text x="601.0" y="724.5" class="v" font-size="14.7">r<tspan font-size="13.3" dy="3.8" dx="-0.6">N</tspan></text>
<path d="M605.0 786.7H620.7V797.6L621.8 799.7L620.7 801.7V812.7H605.0Z" fill="none" stroke="#c97272" stroke-width="1"/>
<text x="607.0" y="803.7" class="v" font-size="14.7">P<tspan font-size="13.3" dy="-4.2" dx="0.3">·</tspan></text>
<path d="M593.3 800.7 L605.0 800.0" fill="none" stroke="#1c1c1c" stroke-width="1"/>
<polygon points="605.0,800.0 598.7,803.0 598.4,797.8" fill="#1c1c1c"/>
<text x="755.0" y="771.0" text-anchor="middle" font-family="Liberation Sans, sans-serif" font-size="9.6" fill="#2d343a">0.30</text>
<rect x="730.7" y="776.0" width="43.7" height="7.3" fill="#8f999d" stroke="#b3bbbe" stroke-width="1"/>
<rect x="741.6" y="776.8" width="26.2" height="5.9" fill="#b9c0c3"/>
<path d="M741.6 782.2H767.8" fill="none" stroke="#262b2e" stroke-width="1.9"/>
<path d="M767.4 782.7V777.2" stroke="#3a4044" stroke-width="1.2"/>
<path d="M754.7 777.0V782.7" stroke="#4a5154" stroke-width="1"/>
<path d="M747.3 786.7H758.3V794.4L759.4 795.8L758.3 797.3V805.0H747.3Z" fill="none" stroke="#c97272" stroke-width="1"/>
<text x="749.3" y="797.5" class="v" font-size="14.0">s</text>
<path d="M782.7 797.7H799.0V809.1L800.1 811.3L799.0 813.5V825.0H782.7Z" fill="none" stroke="#c97272" stroke-width="1"/>
<text x="784.7" y="813.2" class="v" font-size="13.2">τ<tspan font-size="11.9" dy="3.8" dx="-0.6">r</tspan></text>
<polygon points="806.7,803.3 825.7,814.2 806.7,825.0" fill="none" stroke="#3434c4" stroke-width="1.35"/>
<path d="M809.7 814.2L817.3 814.2" stroke="#333" stroke-width="1" fill="none"/><circle cx="813.5" cy="811.1" r="0.8" fill="#333"/><circle cx="813.5" cy="817.2" r="0.8" fill="#333"/>
<polygon points="840.7,797.7 859.3,808.3 840.7,819.0" fill="none" stroke="#3434c4" stroke-width="1.35"/>
<path d="M843.3 808.3L851.5 808.3" stroke="#333" stroke-width="1" fill="none"/>
<polygon points="908.3,829.3 927.3,840.0 908.3,850.7" fill="none" stroke="#3434c4" stroke-width="1.35"/>
<path d="M911.0 835.8L919.4 844.2M911.0 844.2L919.4 835.8" stroke="#333" stroke-width="1" fill="none"/>
<polygon points="974.3,824.3 993.3,835.2 974.3,846.0" fill="none" stroke="#3434c4" stroke-width="1.35"/>
<text x="981.2" y="838.0" text-anchor="middle" font-family="Liberation Sans, sans-serif" font-size="8.6" fill="#1e1e1e" stroke="#1e1e1e" stroke-width="0.25">∫dt</text>
<path d="M1001.0 821.0H1022.7V832.8L1023.8 835.0L1022.7 837.2V849.0H1001.0Z" fill="none" stroke="#c97272" stroke-width="1"/>
<text x="1003.0" y="837.0" class="v" font-size="14.7">r<tspan font-size="13.3" dy="3.8" dx="-0.6">P'</tspan></text>
<path d="M799.0 811.7 L807.3 821.7" fill="none" stroke="#1c1c1c" stroke-width="1"/>
<polygon points="807.3,821.7 801.2,818.3 805.2,815.0" fill="#1c1c1c"/>
<path d="M825.7 814.3 L841.3 816.7" fill="none" stroke="#1c1c1c" stroke-width="1"/>
<polygon points="841.3,816.7 834.5,818.3 835.3,813.1" fill="#1c1c1c"/>
<path d="M859.3 808.3 L908.3 832.7" fill="none" stroke="#1c1c1c" stroke-width="1"/>
<polygon points="908.3,832.7 901.4,832.1 903.7,827.4" fill="#1c1c1c"/>
<path d="M927.3 840.7 L974.3 836.0" fill="none" stroke="#1c1c1c" stroke-width="1"/>
<polygon points="974.3,836.0 968.1,839.2 967.6,834.1" fill="#1c1c1c"/>
<path d="M993.3 835.3 L1001.0 835.0" fill="none" stroke="#1c1c1c" stroke-width="1"/>
<path d="M816.7 849.0H837.7V860.6L838.8 862.8L837.7 865.0V876.7H816.7Z" fill="none" stroke="#c97272" stroke-width="1"/>
<text x="818.7" y="864.8" class="v" font-size="14.7">r<tspan font-size="13.3" dy="3.8" dx="-0.6">P'</tspan></text>
<path d="M818.3 887.7H834.3V898.7L835.4 900.8L834.3 902.9V914.0H818.3Z" fill="none" stroke="#c97272" stroke-width="1"/>
<text x="820.3" y="904.9" class="v" font-size="14.7">P<tspan font-size="13.3" dy="-4.2" dx="0.3">·</tspan></text>
<polygon points="854.0,873.3 872.7,884.2 854.0,895.0" fill="none" stroke="#3434c4" stroke-width="1.35"/>
<path d="M856.6 884.2L864.8 884.2" stroke="#333" stroke-width="1" fill="none"/>
<path d="M837.7 863.3 L854.7 876.0" fill="none" stroke="#1c1c1c" stroke-width="1"/>
<polygon points="854.7,876.0 847.9,874.2 851.0,870.0" fill="#1c1c1c"/>
<path d="M834.3 901.7 L854.7 894.0" fill="none" stroke="#1c1c1c" stroke-width="1"/>
<polygon points="854.7,894.0 849.5,898.7 847.7,893.9" fill="#1c1c1c"/>
<path d="M872.7 884.0 L909.0 850.0" fill="none" stroke="#1c1c1c" stroke-width="1"/>
<polygon points="909.0,850.0 906.0,856.3 902.5,852.5" fill="#1c1c1c"/>
<path d="M656.0 826.0H680.0V837.2L681.1 839.3L680.0 841.5V852.7H656.0Z" fill="none" stroke="#c97272" stroke-width="1"/>
<text x="658.0" y="841.2" class="v" font-size="14.7">Π<tspan font-size="13.3" dy="3.8" dx="-0.6">N</tspan></text>
<path d="M656.0 858.3H679.3V870.0L680.4 872.2L679.3 874.4V886.0H656.0Z" fill="none" stroke="#c97272" stroke-width="1"/>
<text x="658.0" y="874.1" class="v" font-size="14.7">Y<tspan font-size="13.3" dy="3.8" dx="-0.6">N</tspan></text>
<polygon points="690.7,840.0 709.3,850.5 690.7,861.0" fill="none" stroke="#3434c4" stroke-width="1.35"/>
<path d="M693.7 850.5L701.1 850.5" stroke="#333" stroke-width="1" fill="none"/><circle cx="697.4" cy="847.5" r="0.8" fill="#333"/><circle cx="697.4" cy="853.5" r="0.8" fill="#333"/>
<path d="M729.3 840.0H747.7V851.5L748.8 853.7L747.7 855.9V867.3H729.3Z" fill="none" stroke="#c97272" stroke-width="1"/>
<text x="731.3" y="855.6" class="v" font-size="13.2">π<tspan font-size="11.9" dy="3.8" dx="-0.6">s</tspan></text>
<path d="M680.0 839.3 L691.3 842.7" fill="none" stroke="#1c1c1c" stroke-width="1"/>
<polygon points="691.3,842.7 684.4,843.3 685.8,838.3" fill="#1c1c1c"/>
<path d="M679.3 872.7 L691.3 859.3" fill="none" stroke="#1c1c1c" stroke-width="1"/>
<polygon points="691.3,859.3 688.9,865.9 685.1,862.4" fill="#1c1c1c"/>
<path d="M709.3 850.7 L729.3 853.3" fill="none" stroke="#1c1c1c" stroke-width="1"/>
<polygon points="729.3,853.3 722.5,855.1 723.2,849.9" fill="#1c1c1c"/>
<path d="M657.7 898.3H681.0V907.7L682.1 909.5L681.0 911.3V920.7H657.7Z" fill="none" stroke="#c97272" stroke-width="1"/>
<text x="659.7" y="913.0" class="v" font-size="16.3">Int</text>
<path d="M658.3 925.0H681.7V936.2L682.8 938.3L681.7 940.5V951.7H658.3Z" fill="none" stroke="#c97272" stroke-width="1"/>
<text x="660.3" y="940.2" class="v" font-size="14.7">Y<tspan font-size="13.3" dy="3.8" dx="-0.6">N</tspan></text>
<polygon points="695.0,908.3 713.3,918.8 695.0,929.3" fill="none" stroke="#3434c4" stroke-width="1.35"/>
<path d="M697.9 918.8L705.3 918.8" stroke="#333" stroke-width="1" fill="none"/><circle cx="701.6" cy="915.9" r="0.8" fill="#333"/><circle cx="701.6" cy="921.8" r="0.8" fill="#333"/>
<path d="M740.0 909.3H756.7V921.1L757.8 923.3L756.7 925.6V937.3H740.0Z" fill="none" stroke="#c97272" stroke-width="1"/>
<text x="742.0" y="925.3" class="v" font-size="14.7">b<tspan font-size="13.3" dy="3.8" dx="-0.6">s</tspan></text>
<path d="M681.0 910.0 L695.7 911.7" fill="none" stroke="#1c1c1c" stroke-width="1"/>
<polygon points="695.7,911.7 688.9,913.5 689.5,908.3" fill="#1c1c1c"/>
<path d="M681.0 938.3 L695.7 927.3" fill="none" stroke="#1c1c1c" stroke-width="1"/>
<polygon points="695.7,927.3 692.0,933.3 688.9,929.2" fill="#1c1c1c"/>
<path d="M713.3 919.3 L740.0 923.3" fill="none" stroke="#1c1c1c" stroke-width="1"/>
<polygon points="740.0,923.3 733.2,924.9 734.0,919.8" fill="#1c1c1c"/>
<path d="M900.0 635.0H915.0V644.8L916.1 646.7L915.0 648.5V658.3H900.0Z" fill="none" stroke="#c97272" stroke-width="1"/>
<text x="902.0" y="650.3" class="v" font-size="14.7">N</text>
<path d="M915.0 646.0 L934.0 640.0" fill="none" stroke="#1c1c1c" stroke-width="1"/>
<polygon points="934.0,640.0 928.6,644.4 927.0,639.5" fill="#1c1c1c"/>
<polygon points="933.3,620.0 952.3,630.8 933.3,641.7" fill="none" stroke="#3434c4" stroke-width="1.35"/>
<path d="M936.0 626.7L944.4 635.0M936.0 635.0L944.4 626.7" stroke="#333" stroke-width="1" fill="none"/>
<polygon points="966.7,622.7 986.0,632.7 966.7,642.7" fill="none" stroke="#3434c4" stroke-width="1.35"/>
<text x="973.6" y="635.5" text-anchor="middle" font-family="Liberation Sans, sans-serif" font-size="8.6" fill="#1e1e1e" stroke="#1e1e1e" stroke-width="0.25">∫dt</text>
<path d="M995.0 621.7H1010.7V630.8L1011.8 632.5L1010.7 634.2V643.3H995.0Z" fill="none" stroke="#c97272" stroke-width="1"/>
<text x="997.0" y="635.9" class="v" font-size="14.7">N</text>
<path d="M916.7 627.3 L934.3 624.0" fill="none" stroke="#1c1c1c" stroke-width="1"/>
<polygon points="934.3,624.0 928.4,627.8 927.5,622.7" fill="#1c1c1c"/>
<path d="M952.3 631.7 L966.7 632.7" fill="none" stroke="#1c1c1c" stroke-width="1"/>
<polygon points="966.7,632.7 960.0,634.8 960.4,629.6" fill="#1c1c1c"/>
<path d="M986.0 632.7 L995.0 632.7" fill="none" stroke="#1c1c1c" stroke-width="1"/>
<text x="916.0" y="690.0" text-anchor="middle" font-family="Liberation Sans, sans-serif" font-size="9.6" fill="#2d343a">0.08</text>
<rect x="895.7" y="695.0" width="44.3" height="7.3" fill="#8f999d" stroke="#b3bbbe" stroke-width="1"/>
<rect x="904.5" y="695.8" width="26.6" height="5.9" fill="#b9c0c3"/>
<path d="M904.5 701.2H931.1" fill="none" stroke="#262b2e" stroke-width="1.9"/>
<path d="M930.7 701.7V696.2" stroke="#3a4044" stroke-width="1.2"/>
<path d="M917.8 696.0V701.7" stroke="#4a5154" stroke-width="1"/>
<path d="M904.0 705.0H931.7V714.1L932.8 715.8L931.7 717.6V726.7H904.0Z" fill="none" stroke="#c97272" stroke-width="1"/>
<text x="907.0" y="715.6" class="v" font-size="14.0">δ<tspan font-size="12.6" dy="3.8" dx="-0.6">KR</tspan></text>
<text x="986.0" y="692.6" text-anchor="middle" font-family="Liberation Sans, sans-serif" font-size="9.6" fill="#2d343a">3.0</text>
<rect x="963.3" y="697.7" width="44.0" height="7.3" fill="#8f999d" stroke="#b3bbbe" stroke-width="1"/>
<rect x="972.1" y="698.5" width="26.4" height="5.9" fill="#b9c0c3"/>
<path d="M972.1 703.9H998.5" fill="none" stroke="#262b2e" stroke-width="1.9"/>
<path d="M998.1 704.4V698.9" stroke="#3a4044" stroke-width="1.2"/>
<path d="M985.3 698.7V704.4" stroke="#4a5154" stroke-width="1"/>
<path d="M980.0 708.3H992.7V716.3L993.8 717.8L992.7 719.4V727.3H980.0Z" fill="none" stroke="#c97272" stroke-width="1"/>
<text x="982.0" y="719.6" class="v" font-size="14.0">υ</text>
<text x="1063.3" y="692.6" text-anchor="middle" font-family="Liberation Sans, sans-serif" font-size="9.6" fill="#2d343a">0.025</text>
<rect x="1041.0" y="697.7" width="44.0" height="7.3" fill="#8f999d" stroke="#b3bbbe" stroke-width="1"/>
<rect x="1049.8" y="698.5" width="26.4" height="5.9" fill="#b9c0c3"/>
<path d="M1049.8 703.9H1076.2" fill="none" stroke="#262b2e" stroke-width="1.9"/>
<path d="M1075.8 704.4V698.9" stroke="#3a4044" stroke-width="1.2"/>
<path d="M1063.0 698.7V704.4" stroke="#4a5154" stroke-width="1"/>
<path d="M1056.7 708.3H1070.0V716.3L1071.1 717.8L1070.0 719.4V727.3H1056.7Z" fill="none" stroke="#c97272" stroke-width="1"/>
<text x="1058.7" y="719.6" class="v" font-size="14.0">α</text>
<text x="923.3" y="750.0" text-anchor="middle" font-family="Liberation Sans, sans-serif" font-size="9.6" fill="#2d343a">0.015</text>
<rect x="900.7" y="755.0" width="44.3" height="7.3" fill="#8f999d" stroke="#b3bbbe" stroke-width="1"/>
<rect x="911.8" y="755.8" width="26.6" height="5.9" fill="#b9c0c3"/>
<path d="M911.8 761.2H938.4" fill="none" stroke="#262b2e" stroke-width="1.9"/>
<path d="M938.0 761.7V756.2" stroke="#3a4044" stroke-width="1.2"/>
<path d="M925.1 756.0V761.7" stroke="#4a5154" stroke-width="1"/>
<path d="M916.7 765.0H930.0V773.0L931.1 774.5L930.0 776.0V784.0H916.7Z" fill="none" stroke="#c97272" stroke-width="1"/>
<text x="918.7" y="776.8" class="v" font-size="14.0">β</text>
<text x="981.7" y="745.0" text-anchor="middle" font-family="Liberation Sans, sans-serif" font-size="9.6" fill="#2d343a">1.00</text>
<rect x="963.3" y="750.0" width="44.0" height="7.7" fill="#8f999d" stroke="#b3bbbe" stroke-width="1"/>
<rect x="968.6" y="750.8" width="26.4" height="6.3" fill="#b9c0c3"/>
<path d="M968.6 756.6H995.0" fill="none" stroke="#262b2e" stroke-width="1.9"/>
<path d="M994.6 757.1V751.2" stroke="#3a4044" stroke-width="1.2"/>
<path d="M981.8 751.0V757.1" stroke="#4a5154" stroke-width="1"/>
<path d="M977.3 761.0H995.7V770.0L996.8 771.7L995.7 773.4V782.3H977.3Z" fill="none" stroke="#c97272" stroke-width="1"/>
<text x="980.3" y="771.4" class="v" font-size="14.0">τ<tspan font-size="12.6" dy="3.8" dx="-0.6">P</tspan></text>
<text x="1051.7" y="744.0" text-anchor="middle" font-family="Liberation Sans, sans-serif" font-size="9.6" fill="#2d343a">0.5</text>
<rect x="1035.0" y="749.3" width="44.3" height="7.3" fill="#8f999d" stroke="#b3bbbe" stroke-width="1"/>
<rect x="1037.7" y="750.1" width="26.6" height="5.9" fill="#b9c0c3"/>
<path d="M1037.7 755.6H1064.3" fill="none" stroke="#262b2e" stroke-width="1.9"/>
<path d="M1063.9 756.1V750.5" stroke="#3a4044" stroke-width="1.2"/>
<path d="M1051.0 750.3V756.1" stroke="#4a5154" stroke-width="1"/>
<path d="M1049.0 760.0H1065.7V769.1L1066.8 770.8L1065.7 772.6V781.7H1049.0Z" fill="none" stroke="#c97272" stroke-width="1"/>
<text x="1052.0" y="770.6" class="v" font-size="14.0">τ<tspan font-size="12.6" dy="3.8" dx="-0.6">r</tspan></text>
<path d="M1164.3 686.0H1182.7V698.2L1183.8 700.5L1182.7 702.8V715.0H1164.3Z" fill="none" stroke="#c97272" stroke-width="1"/>
<text x="1166.3" y="702.5" class="v" font-size="13.2">π<tspan font-size="11.9" dy="3.8" dx="-0.6">s</tspan></text>
<path d="M1182.8 700.8 L1201.0 701.8" fill="none" stroke="#1c1c1c" stroke-width="1"/>
<polygon points="1201.0,701.8 1194.4,704.0 1194.7,698.8" fill="#1c1c1c"/>
<path d="M1166.7 786.0H1185.0V797.8L1186.1 800.0L1185.0 802.2V814.0H1166.7Z" fill="none" stroke="#c97272" stroke-width="1"/>
<text x="1168.7" y="802.0" class="v" font-size="14.7">b<tspan font-size="13.3" dy="3.8" dx="-0.6">s</tspan></text>
<path d="M1185.2 799.8 L1201.0 798.6" fill="none" stroke="#1c1c1c" stroke-width="1"/>
<polygon points="1201.0,798.6 1194.7,801.7 1194.3,796.5" fill="#1c1c1c"/>
<text x="664.0" y="193.3" text-anchor="middle" font-family="Liberation Sans, sans-serif" font-size="9.6" fill="#2d343a">1</text>
<rect x="633.3" y="198.3" width="45.0" height="5.7" fill="#8f999d" stroke="#b3bbbe" stroke-width="1"/>
<rect x="647.7" y="199.1" width="27.0" height="4.3" fill="#b9c0c3"/>
<path d="M647.7 202.9H674.7" fill="none" stroke="#262b2e" stroke-width="1.9"/>
<path d="M674.3 203.4V199.5" stroke="#3a4044" stroke-width="1.2"/>
<path d="M661.2 199.3V203.4" stroke="#4a5154" stroke-width="1"/>
<rect x="36.8" y="334.7" width="116.6" height="124.7" fill="none" stroke="#3d4346" stroke-width="1.3"/>
<rect x="36.8" y="353.0" width="116.6" height="84.1" fill="none" stroke="#3d4346" stroke-width="1.8"/>
<path d="M45.3 353.0V437.1" stroke="#6d777b" stroke-width="0.9"/>
<path d="M111.1 353.0V437.1" stroke="#6d777b" stroke-width="0.9"/>
<path d="M36.8 385.7H153.4" stroke="#6d777b" stroke-width="0.9"/>
<path d="M36.8 416.5H153.4" stroke="#6d777b" stroke-width="0.9"/>
<path d="M36.8 447.0H153.4" stroke="#6d777b" stroke-width="0.8"/>
<path d="M45.30 357.00 L45.55 361.62 L45.80 366.23 L46.05 370.85 L46.30 375.46 L46.55 380.08 L46.80 381.00 L47.05 379.22 L47.30 376.25 L47.55 373.28 L47.80 370.31 L48.05 367.34 L48.30 364.38 L48.55 362.10 L48.80 362.38 L49.05 362.76 L49.30 363.78 L49.55 365.48 L49.80 367.26 L50.05 368.00 L50.30 366.81 L50.55 365.23 L50.80 364.14 L51.05 364.13 L51.30 365.16 L51.55 366.64 L51.80 367.73 L52.05 367.86 L52.30 367.01 L52.55 365.68 L52.80 364.64 L53.05 364.44 L53.30 365.16 L53.55 366.36 L53.80 367.37 L54.05 367.65 L54.30 367.09 L54.55 366.04 L54.80 365.11 L55.05 364.81 L55.30 365.26 L55.55 366.19 L55.80 367.05 L56.05 367.40 L56.30 367.11 L56.55 366.32 L56.80 365.49 L57.05 365.08 L57.30 365.33 L57.55 366.11 L57.80 366.98 L58.05 367.47 L58.30 367.31 L58.55 366.61 L58.80 365.77 L59.05 365.26 L59.30 365.38 L59.55 366.06 L59.80 366.93 L60.05 367.51 L60.30 367.48 L60.55 366.88 L60.80 366.05 L61.05 365.46 L61.30 365.44 L61.55 366.02 L61.80 366.87 L62.05 367.52 L62.30 367.63 L62.55 367.14 L62.80 366.34 L63.05 365.68 L63.30 365.54 L63.55 366.00 L63.80 366.81 L64.05 367.52 L64.30 367.75 L64.55 367.37 L64.80 366.62 L65.05 365.92 L65.30 365.67 L65.55 366.01 L65.80 366.76 L66.05 367.51 L66.30 367.84 L66.55 367.59 L66.80 366.90 L67.05 366.17 L67.30 365.81 L67.55 366.04 L67.80 366.72 L68.05 367.48 L68.30 367.91 L68.55 367.77 L68.80 367.16 L69.05 366.43 L69.30 365.99 L69.55 366.09 L69.80 366.69 L70.05 367.45 L70.30 368.03 L70.55 368.07 L70.80 367.51 L71.05 366.63 L71.30 365.93 L71.55 365.86 L71.80 366.53 L72.05 367.62 L72.30 368.54 L72.55 368.74 L72.80 368.08 L73.05 366.87 L73.30 365.81 L73.55 365.53 L73.80 366.25 L74.05 367.64 L74.30 368.95 L74.55 369.42 L74.80 368.75 L75.05 367.27 L75.30 365.80 L75.55 365.21 L75.80 365.88 L76.05 367.52 L76.30 369.23 L76.55 370.06 L76.80 369.49 L77.05 367.80 L77.30 365.96 L77.55 365.05 L77.80 365.58 L78.05 367.25 L78.30 369.14 L78.55 370.20 L78.80 369.84 L79.05 368.28 L79.30 366.40 L79.55 365.25 L79.80 365.48 L80.05 366.97 L80.30 368.88 L80.55 370.16 L80.80 370.09 L81.05 368.74 L81.30 366.85 L81.55 365.50 L81.80 365.44 L82.05 366.71 L82.30 368.60 L82.55 370.07 L82.80 370.29 L83.05 369.16 L83.30 367.32 L83.55 365.80 L83.80 365.46 L84.05 366.49 L84.30 368.32 L84.55 369.92 L84.80 370.42 L85.05 369.55 L85.30 367.79 L85.55 366.15 L85.80 365.54 L86.05 366.31 L86.30 368.03 L86.55 369.74 L86.80 370.50 L87.05 369.89 L87.30 368.26 L87.55 366.54 L87.80 365.68 L88.05 366.18 L88.30 367.75 L88.55 369.53 L88.80 370.52 L89.05 370.18 L89.30 368.72 L89.55 366.95 L89.80 365.87 L90.05 366.12 L90.30 367.54 L90.55 369.16 L90.80 370.10 L91.05 369.94 L91.30 368.91 L91.55 367.68 L91.80 366.96 L92.05 367.06 L92.30 367.79 L92.55 368.65 L92.80 369.16 L93.05 369.12 L93.30 368.71 L93.55 368.26 L93.80 368.05 L94.05 368.11 L94.30 368.27 L94.55 368.50 L94.80 368.69 L95.05 368.75 L95.30 368.68 L95.55 368.54 L95.80 368.42 L96.05 368.41 L96.30 368.50 L96.55 368.65 L96.80 368.79 L97.05 368.85 L97.30 368.83 L97.55 368.76 L97.80 368.71 L98.05 368.71 L98.30 368.76 L98.55 368.84 L98.80 368.91 L99.05 368.95 L99.30 368.96 L99.55 368.96 L99.80 368.97 L100.05 369.01 L100.30 369.05 L100.55 369.10 L100.80 369.15 L101.05 369.19 L101.30 369.24 L101.55 369.28 L101.80 369.33 L102.05 369.37 L102.30 369.42 L102.55 369.46 L102.80 369.51 L103.05 369.55 L103.30 369.60 L103.55 369.65 L103.80 369.69 L104.05 369.74 L104.30 369.78 L104.55 369.83 L104.80 369.87 L105.05 369.92 L105.30 369.96 L105.55 370.01 L105.80 370.05 L106.05 370.10 L106.30 370.15 L106.55 370.19 L106.80 370.24 L107.05 370.28 L107.30 370.33 L107.55 370.37 L107.80 370.42 L108.05 370.46 L108.30 370.51 L108.55 370.55 L108.80 370.60 L109.05 370.65 L109.30 370.69 L109.55 370.74 L109.80 370.78 L110.05 370.83 L110.30 370.87 L110.55 370.92 L110.80 370.96 L111.0 371.0 C111.8 371.7,114.4 372.8,116.0 375.0 C117.6 377.2,119.2 380.2,120.5 384.0 C121.8 387.8,123.0 393.3,124.0 398.0 C125.0 402.7,125.8 407.7,126.5 412.0 C127.2 416.3,128.0 421.1,128.5 424.0 C129.1 426.9,129.6 428.6,129.8 429.5" fill="none" stroke="#1a1a1a" stroke-width="1.0" stroke-linejoin="round"/>
<text x="95.1" y="348.3" text-anchor="middle" class="v" font-size="13.5" textLength="101.0" lengthAdjust="spacingAndGlyphs">Employment Rate</text>
<text x="95.1" y="448.3" text-anchor="middle" class="s" font-size="12">Years</text>
<polygon points="28.5,350.8 36.3,356.2 27.7,355.0" fill="#e01818"/>
<polygon points="28.9,350.4 31.3,349.8 36.3,356.2 27.5,354.6" fill="#e01818"/>
<polygon points="27.3,392.4 35.3,395.2 27.3,398.0" fill="#e01818"/>
<polygon points="27.3,421.4 35.3,424.2 27.3,427.0" fill="#12a012"/>
<polygon points="27.3,450.1 35.3,452.9 27.3,455.7" fill="#1818e0"/>
<polygon points="161.3,350.4 158.9,349.8 153.9,356.2 162.7,354.6" fill="#12a012"/>
<polygon points="162.9,363.1 154.9,365.9 162.9,368.7" fill="#e018e0"/>
<polygon points="162.9,392.4 154.9,395.2 162.9,398.0" fill="#18d8d8"/>
<polygon points="162.9,421.4 154.9,424.2 162.9,427.0" fill="#e8a018"/>
<polygon points="162.9,450.1 154.9,452.9 162.9,455.7" fill="#9820d8"/>
<polygon points="39.8,468.9 42.6,460.9 45.4,468.9" fill="#0a0a0a"/>
<polygon points="55.0,468.9 57.8,460.9 60.6,468.9" fill="#e01818"/>
<polygon points="69.9,468.9 72.7,460.9 75.5,468.9" fill="#12a012"/>
<polygon points="84.7,468.9 87.5,460.9 90.3,468.9" fill="#1818e0"/>
<polygon points="99.6,468.9 102.4,460.9 105.2,468.9" fill="#e018e0"/>
<polygon points="114.5,468.9 117.3,460.9 120.1,468.9" fill="#18d8d8"/>
<polygon points="129.3,468.9 132.1,460.9 134.9,468.9" fill="#e8a018"/>
<polygon points="144.2,468.9 147.0,460.9 149.8,468.9" fill="#9820d8"/>
<polygon points="29.8,460.4 36.8,459.4 33.8,465.4" fill="#e01818"/><polygon points="33.8,466.4 37.3,459.9 37.8,466.4" fill="#000"/>
<polygon points="160.4,460.4 153.4,459.4 156.4,465.4" fill="#12a012"/><polygon points="156.4,466.4 152.9,459.9 152.4,466.4" fill="#000"/>
<text x="38.0" y="358.0" class="s" font-size="4.050000000000001" fill="#111">x 0.1</text>
<text x="46.0" y="434.0" class="s" font-size="6.21" fill="#111">0</text>
<text x="111.5" y="434.0" class="s" font-size="6.21" fill="#111">5</text>
<text x="131.0" y="429.5" class="s" font-size="4.050000000000001" fill="#111">x 10</text>
<rect x="203.6" y="345.7" width="117.0" height="124.1" fill="none" stroke="#3d4346" stroke-width="1.3"/>
<rect x="203.6" y="364.0" width="117.0" height="83.5" fill="none" stroke="#3d4346" stroke-width="1.8"/>
<path d="M213.1 364.0V447.5" stroke="#6d777b" stroke-width="0.9"/>
<path d="M277.7 364.0V447.5" stroke="#6d777b" stroke-width="0.9"/>
<path d="M203.6 368.7H320.6" stroke="#6d777b" stroke-width="0.9"/>
<path d="M203.6 409.3H320.6" stroke="#6d777b" stroke-width="0.9"/>
<path d="M206.2 366L213.1 366.5L213.8 420.5" fill="none" stroke="#1a1a1a" stroke-width="1.0" stroke-linejoin="round"/>
<path d="M213.80 426.00 L214.05 429.48 L214.30 430.79 L214.55 429.36 L214.80 426.24 L215.05 423.35 L215.30 422.36 L215.55 423.71 L215.80 426.48 L216.05 429.01 L216.30 429.93 L216.55 428.89 L216.80 426.71 L217.05 424.77 L217.30 424.17 L217.55 425.13 L217.80 426.95 L218.05 428.55 L218.30 429.18 L218.55 428.55 L218.80 427.07 L219.05 425.64 L219.30 425.10 L219.55 425.73 L219.80 427.15 L220.05 428.52 L220.30 429.07 L220.55 428.52 L220.80 427.24 L221.05 426.01 L221.30 425.55 L221.55 426.11 L221.80 427.33 L222.05 428.49 L222.30 428.95 L222.55 428.49 L222.80 427.41 L223.05 426.39 L223.30 426.01 L223.55 426.48 L223.80 427.50 L224.05 428.46 L224.30 428.84 L224.55 428.46 L224.80 427.58 L225.05 426.76 L225.30 426.43 L225.55 426.80 L225.80 427.68 L226.05 428.56 L226.30 428.94 L226.55 428.61 L226.80 427.78 L227.05 426.94 L227.30 426.61 L227.55 426.99 L227.80 427.88 L228.05 428.78 L228.30 429.16 L228.55 428.83 L228.80 427.98 L229.05 427.13 L229.30 426.79 L229.55 427.17 L229.80 428.08 L230.05 428.99 L230.30 429.38 L230.55 429.04 L230.80 428.18 L231.05 427.31 L231.30 426.97 L231.55 427.36 L231.80 428.28 L232.05 429.20 L232.30 429.60 L232.55 429.26 L232.80 428.38 L233.05 427.50 L233.30 427.15 L233.55 427.55 L233.80 428.48 L234.05 429.42 L234.30 429.82 L234.55 429.47 L234.80 428.58 L235.05 427.69 L235.30 427.33 L235.55 427.73 L235.80 428.68 L236.05 429.63 L236.30 430.04 L236.55 429.69 L236.80 428.78 L237.05 427.87 L237.30 427.51 L237.55 427.92 L237.80 428.88 L238.05 429.85 L238.30 430.26 L238.55 429.90 L238.80 428.98 L239.05 428.06 L239.30 427.69 L239.55 428.10 L239.80 429.08 L240.05 430.06 L240.30 430.48 L240.55 430.11 L240.80 429.18 L241.05 428.24 L241.30 427.87 L241.55 428.29 L241.80 429.28 L242.05 430.27 L242.30 430.70 L242.55 430.33 L242.80 429.38 L243.05 428.43 L243.30 428.05 L243.55 428.48 L243.80 429.48 L244.05 430.49 L244.30 430.92 L244.55 430.54 L244.80 429.58 L245.05 428.61 L245.30 428.20 L245.55 428.63 L245.80 429.69 L246.05 430.78 L246.30 431.28 L246.55 430.87 L246.80 429.80 L247.05 428.70 L247.30 428.23 L247.55 428.72 L247.80 429.92 L248.05 431.15 L248.30 431.70 L248.55 431.24 L248.80 430.03 L249.05 428.78 L249.30 428.25 L249.55 428.80 L249.80 430.14 L250.05 431.52 L250.30 432.13 L250.55 431.61 L250.80 430.25 L251.05 428.86 L251.30 428.28 L251.55 428.88 L251.80 430.37 L252.05 431.88 L252.30 432.55 L252.55 431.97 L252.80 430.48 L253.05 428.95 L253.30 428.35 L253.55 429.02 L253.80 430.56 L254.05 432.07 L254.30 432.68 L254.55 432.07 L254.80 430.63 L255.05 429.22 L255.30 428.66 L255.55 429.28 L255.80 430.70 L256.05 432.09 L256.30 432.65 L256.55 432.09 L256.80 430.77 L257.05 429.48 L257.30 428.98 L257.55 429.55 L257.80 430.84 L258.05 432.11 L258.30 432.62 L258.55 432.12 L258.80 430.91 L259.05 429.74 L259.30 429.29 L259.55 429.81 L259.80 430.99 L260.05 432.13 L260.30 432.53 L260.55 432.06 L260.80 431.10 L261.05 430.26 L261.30 430.02 L261.55 430.45 L261.80 431.23 L262.05 431.88 L262.30 432.08 L262.55 431.82 L262.80 431.35 L263.05 431.00 L263.30 430.97 L263.55 431.19 L263.80 431.48 L264.05 431.65 L264.30 431.72 L264.55 431.69 L264.80 431.62 L265.05 431.59 L265.30 431.62 L265.55 431.70 L265.80 431.77" fill="none" stroke="#1a1a1a" stroke-width="1.0" stroke-linejoin="round"/>
<path d="M266.0 431.8 C267.3 432.1,271.3 432.6,274.0 433.5 C276.7 434.4,279.7 435.9,282.0 437.0 C284.3 438.1,286.2 439.4,288.0 440.0 C289.8 440.6,291.2 440.7,293.0 440.5 C294.8 440.3,297.6 439.2,298.5 439.0" fill="none" stroke="#1a1a1a" stroke-width="1.0" stroke-linejoin="round"/>
<text x="262.1" y="359.3" text-anchor="middle" class="v" font-size="13.5" textLength="74.0" lengthAdjust="spacingAndGlyphs">Wages Share</text>
<text x="262.1" y="459.0" text-anchor="middle" class="s" font-size="12">Years</text>
<polygon points="195.3,361.7 203.1,367.1 194.5,365.9" fill="#e01818"/>
<polygon points="195.7,361.3 198.1,360.7 203.1,367.1 194.3,365.5" fill="#e01818"/>
<polygon points="194.1,403.1 202.1,405.9 194.1,408.7" fill="#e01818"/>
<polygon points="194.1,432.0 202.1,434.8 194.1,437.6" fill="#12a012"/>
<polygon points="194.1,460.5 202.1,463.3 194.1,466.1" fill="#1818e0"/>
<polygon points="328.5,361.3 326.1,360.7 321.1,367.1 329.9,365.5" fill="#12a012"/>
<polygon points="330.1,373.9 322.1,376.7 330.1,379.5" fill="#e018e0"/>
<polygon points="330.1,403.1 322.1,405.9 330.1,408.7" fill="#18d8d8"/>
<polygon points="330.1,432.0 322.1,434.8 330.1,437.6" fill="#e8a018"/>
<polygon points="330.1,460.5 322.1,463.3 330.1,466.1" fill="#9820d8"/>
<polygon points="206.6,479.3 209.4,471.3 212.2,479.3" fill="#0a0a0a"/>
<polygon points="221.9,479.3 224.7,471.3 227.5,479.3" fill="#e01818"/>
<polygon points="236.8,479.3 239.6,471.3 242.4,479.3" fill="#12a012"/>
<polygon points="251.7,479.3 254.5,471.3 257.3,479.3" fill="#1818e0"/>
<polygon points="266.6,479.3 269.4,471.3 272.2,479.3" fill="#e018e0"/>
<polygon points="281.5,479.3 284.3,471.3 287.1,479.3" fill="#18d8d8"/>
<polygon points="296.4,479.3 299.2,471.3 302.0,479.3" fill="#e8a018"/>
<polygon points="311.4,479.3 314.2,471.3 317.0,479.3" fill="#9820d8"/>
<polygon points="196.6,470.8 203.6,469.8 200.6,475.8" fill="#e01818"/><polygon points="200.6,476.8 204.1,470.3 204.6,476.8" fill="#000"/>
<polygon points="327.6,470.8 320.6,469.8 323.6,475.8" fill="#12a012"/><polygon points="323.6,476.8 320.1,470.3 319.6,476.8" fill="#000"/>
<text x="205.0" y="369.0" class="s" font-size="4.050000000000001" fill="#111">x 0.1</text>
<text x="213.5" y="444.5" class="s" font-size="6.21" fill="#111">0</text>
<text x="278.5" y="444.5" class="s" font-size="6.21" fill="#111">5</text>
<text x="300.0" y="439.5" class="s" font-size="4.050000000000001" fill="#111">x 10</text>
<rect x="404.4" y="363.6" width="117.2" height="125.0" fill="none" stroke="#3d4346" stroke-width="1.3"/>
<rect x="404.4" y="381.4" width="117.2" height="83.6" fill="none" stroke="#3d4346" stroke-width="1.8"/>
<path d="M414.4 381.4V465.0" stroke="#6d777b" stroke-width="0.9"/>
<path d="M478.0 381.4V465.0" stroke="#6d777b" stroke-width="0.9"/>
<path d="M404.4 408.6H521.6" stroke="#6d777b" stroke-width="0.9"/>
<path d="M414.4 460L414.6 392L415.6 389" fill="none" stroke="#1a1a1a" stroke-width="1.0" stroke-linejoin="round"/>
<path d="M415.60 389.03 L415.85 392.65 L416.10 399.66 L416.35 405.85 L416.60 407.73 L416.85 404.53 L417.10 398.43 L417.35 393.10 L417.60 391.52 L417.85 394.29 L418.10 399.49 L418.35 403.98 L418.60 405.28 L418.85 402.94 L419.10 398.60 L419.35 394.90 L419.60 393.88 L419.85 395.83 L420.10 399.32 L420.35 402.22 L420.60 402.96 L420.85 401.41 L421.10 398.75 L421.35 396.41 L421.60 395.64 L421.85 396.83 L422.10 399.23 L422.35 401.43 L422.60 402.15 L422.85 401.03 L423.10 398.78 L423.35 396.74 L423.60 396.06 L423.85 397.11 L424.10 399.20 L424.35 401.10 L424.60 401.72 L424.85 400.75 L425.10 398.81 L425.35 397.06 L425.60 396.49 L425.85 397.39 L426.10 399.17 L426.35 400.78 L426.60 401.29 L426.85 400.47 L427.10 398.84 L427.35 397.38 L427.60 396.92 L427.85 397.67 L428.10 399.14 L428.35 400.52 L428.60 401.01 L428.85 400.32 L429.10 398.86 L429.35 397.46 L429.60 396.97 L429.85 397.66 L430.10 399.15 L430.35 400.56 L430.60 401.06 L430.85 400.36 L431.10 398.85 L431.35 397.43 L431.60 396.92 L431.85 397.63 L432.10 399.15 L432.35 400.59 L432.60 401.11 L432.85 400.39 L433.10 398.85 L433.35 397.39 L433.60 396.87 L433.85 397.59 L434.10 399.15 L434.35 400.63 L434.60 401.16 L434.85 400.42 L435.10 398.85 L435.35 397.35 L435.60 396.82 L435.85 397.56 L436.10 399.16 L436.35 400.78 L436.60 401.47 L436.85 400.70 L437.10 398.81 L437.35 396.87 L437.60 396.07 L437.85 397.00 L438.10 399.22 L438.35 401.48 L438.60 402.39 L438.85 401.30 L439.10 398.74 L439.35 396.17 L439.60 395.15 L439.85 396.40 L440.10 399.29 L440.35 402.17 L440.60 403.31 L440.85 401.90 L441.10 398.68 L441.35 395.54 L441.60 394.38 L441.85 395.93 L442.10 399.34 L442.35 402.63 L442.60 403.84 L442.85 402.22 L443.10 398.65 L443.35 395.21 L443.60 393.93 L443.85 395.64 L444.10 399.37 L444.35 402.96 L444.60 404.29 L444.85 402.51 L445.10 398.62 L445.35 394.87 L445.60 393.49 L445.85 395.34 L446.10 399.40 L446.35 403.30 L446.60 404.73 L446.85 402.80 L447.10 398.59 L447.35 394.54 L447.60 393.05 L447.85 395.05 L448.10 399.43 L448.35 403.63 L448.60 405.17 L448.85 403.09 L449.10 398.55 L449.35 394.20 L449.60 392.60 L449.85 394.76 L450.10 399.46 L450.35 403.82 L450.60 405.28 L450.85 403.07 L451.10 398.57 L451.35 394.43 L451.60 393.05 L451.85 395.14 L452.10 399.41 L452.35 403.32 L452.60 404.62 L452.85 402.64 L453.10 398.61 L453.35 394.93 L453.60 393.71 L453.85 395.58 L454.10 399.36 L454.35 402.81 L454.60 403.95 L454.85 402.20 L455.10 398.66 L455.35 395.44 L455.60 394.38 L455.85 396.02 L456.10 399.31 L456.35 402.27 L456.60 403.19 L456.85 401.67 L457.10 398.72 L457.35 396.11 L457.60 395.31 L457.85 396.66 L458.10 399.24 L458.35 401.51 L458.60 402.19 L458.85 401.02 L459.10 398.79 L459.35 396.87 L459.60 396.31 L459.85 397.31 L460.10 399.17 L460.35 400.76 L460.60 401.19 L460.85 400.36 L461.10 398.86 L461.35 397.62 L461.60 397.30 L461.85 397.97 L462.10 399.10 L462.35 400.00 L462.60 400.20 L462.85 399.70 L463.10 398.93 L463.35 398.38 L463.60 398.30 L463.85 398.62 L464.10 399.03 L464.35 399.25 L464.60 399.20 L464.85 399.05" fill="none" stroke="#1a1a1a" stroke-width="0.9" stroke-linejoin="round"/>
<path d="M465.0 399.0 C466.5 399.0,470.8 398.6,474.0 398.8 C477.2 399.0,481.3 399.1,484.0 400.0 C486.7 400.9,488.3 402.3,490.0 404.0 C491.7 405.7,492.8 408.0,494.0 410.0 C495.2 412.0,496.5 415.0,497.0 416.0" fill="none" stroke="#1a1a1a" stroke-width="1.0" stroke-linejoin="round"/>
<text x="463.0" y="377.0" text-anchor="middle" class="v" font-size="13.5" textLength="70.0" lengthAdjust="spacingAndGlyphs">Profit Share</text>
<text x="463.0" y="477.0" text-anchor="middle" class="s" font-size="12">Years</text>
<polygon points="396.1,379.7 403.9,385.1 395.3,383.9" fill="#e01818"/>
<polygon points="396.5,379.3 398.9,378.7 403.9,385.1 395.1,383.5" fill="#e01818"/>
<polygon points="394.9,421.4 402.9,424.2 394.9,427.0" fill="#e01818"/>
<polygon points="394.9,450.6 402.9,453.4 394.9,456.2" fill="#12a012"/>
<polygon points="394.9,479.3 402.9,482.1 394.9,484.9" fill="#1818e0"/>
<polygon points="529.5,379.3 527.1,378.7 522.1,385.1 530.9,383.5" fill="#12a012"/>
<polygon points="531.1,392.1 523.1,394.9 531.1,397.7" fill="#e018e0"/>
<polygon points="531.1,421.4 523.1,424.2 531.1,427.0" fill="#18d8d8"/>
<polygon points="531.1,450.6 523.1,453.4 531.1,456.2" fill="#e8a018"/>
<polygon points="531.1,479.3 523.1,482.1 531.1,484.9" fill="#9820d8"/>
<polygon points="407.5,498.1 410.3,490.1 413.1,498.1" fill="#0a0a0a"/>
<polygon points="422.7,498.1 425.5,490.1 428.3,498.1" fill="#e01818"/>
<polygon points="437.6,498.1 440.4,490.1 443.2,498.1" fill="#12a012"/>
<polygon points="452.6,498.1 455.4,490.1 458.2,498.1" fill="#1818e0"/>
<polygon points="467.5,498.1 470.3,490.1 473.1,498.1" fill="#e018e0"/>
<polygon points="482.5,498.1 485.3,490.1 488.1,498.1" fill="#18d8d8"/>
<polygon points="497.4,498.1 500.2,490.1 503.0,498.1" fill="#e8a018"/>
<polygon points="512.4,498.1 515.2,490.1 518.0,498.1" fill="#9820d8"/>
<polygon points="397.4,489.6 404.4,488.6 401.4,494.6" fill="#e01818"/><polygon points="401.4,495.6 404.9,489.1 405.4,495.6" fill="#000"/>
<polygon points="528.6,489.6 521.6,488.6 524.6,494.6" fill="#12a012"/><polygon points="524.6,495.6 521.1,489.1 520.6,495.6" fill="#000"/>
<text x="406.0" y="386.5" class="s" font-size="4.050000000000001" fill="#111">x 0.1</text>
<text x="415.0" y="462.0" class="s" font-size="6.21" fill="#111">0</text>
<text x="479.0" y="462.0" class="s" font-size="6.21" fill="#111">5</text>
<text x="498.0" y="457.0" class="s" font-size="4.050000000000001" fill="#111">x 10</text>
<rect x="570.0" y="345.0" width="116.0" height="123.6" fill="none" stroke="#3d4346" stroke-width="1.3"/>
<rect x="583.0" y="362.0" width="103.0" height="84.0" fill="none" stroke="#3d4346" stroke-width="1.8"/>
<path d="M622.4 362.0V446.0" stroke="#6d777b" stroke-width="0.9"/>
<path d="M667.0 362.0V446.0" stroke="#6d777b" stroke-width="0.9"/>
<path d="M583.0 382.4H686.0" stroke="#6d777b" stroke-width="0.9"/>
<path d="M583.0 439.0H686.0" stroke="#6d777b" stroke-width="0.9"/>
<path d="M590.0 367.0 C590.0 369.2,590.0 375.5,590.3 380.0 C590.6 384.5,591.0 389.3,592.0 394.0 C593.0 398.7,594.5 403.5,596.0 408.0 C597.5 412.5,599.7 416.8,601.0 421.0 C602.3 425.2,603.5 431.0,604.0 433.0" fill="none" stroke="#1a1a1a" stroke-width="1.0" stroke-linejoin="round"/>
<path d="M601 415L603.2 420L603.6 433L612 434.5L603 435.6L603 438L608 439.5L668 439.5" fill="none" stroke="#1a1a1a" stroke-width="1.4" stroke-linejoin="round"/>
<text x="628.0" y="358.0" text-anchor="middle" class="v" font-size="13.5" textLength="59.0" lengthAdjust="spacingAndGlyphs">Phase Plot</text>
<text x="628.0" y="457.5" text-anchor="middle" class="s" font-size="12" textLength="66.0" lengthAdjust="spacingAndGlyphs">Wages Share</text>
<text transform="translate(580.1 404.0) rotate(-90)" text-anchor="middle" class="s" font-size="12" textLength="55.0" lengthAdjust="spacingAndGlyphs">Debt Ratio</text>
<polygon points="561.7,360.9 569.5,366.3 560.9,365.1" fill="#e01818"/>
<polygon points="562.1,360.5 564.5,359.9 569.5,366.3 560.7,364.7" fill="#e01818"/>
<polygon points="560.5,402.1 568.5,404.9 560.5,407.7" fill="#e01818"/>
<polygon points="560.5,430.9 568.5,433.7 560.5,436.5" fill="#12a012"/>
<polygon points="560.5,459.4 568.5,462.2 560.5,465.0" fill="#1818e0"/>
<polygon points="693.9,360.5 691.5,359.9 686.5,366.3 695.3,364.7" fill="#12a012"/>
<polygon points="695.5,373.1 687.5,375.9 695.5,378.7" fill="#e018e0"/>
<polygon points="695.5,402.1 687.5,404.9 695.5,407.7" fill="#18d8d8"/>
<polygon points="695.5,430.9 687.5,433.7 695.5,436.5" fill="#e8a018"/>
<polygon points="695.5,459.4 687.5,462.2 695.5,465.0" fill="#9820d8"/>
<polygon points="574.2,478.1 577.0,470.1 579.8,478.1" fill="#0a0a0a"/>
<polygon points="588.7,478.1 591.5,470.1 594.3,478.1" fill="#e01818"/>
<polygon points="603.1,478.1 605.9,470.1 608.7,478.1" fill="#12a012"/>
<polygon points="617.5,478.1 620.3,470.1 623.1,478.1" fill="#1818e0"/>
<polygon points="632.0,478.1 634.8,470.1 637.6,478.1" fill="#e018e0"/>
<polygon points="646.4,478.1 649.2,470.1 652.0,478.1" fill="#18d8d8"/>
<polygon points="660.9,478.1 663.7,470.1 666.5,478.1" fill="#e8a018"/>
<polygon points="675.3,478.1 678.1,470.1 680.9,478.1" fill="#9820d8"/>
<polygon points="563.0,469.6 570.0,468.6 567.0,474.6" fill="#e01818"/><polygon points="567.0,475.6 570.5,469.1 571.0,475.6" fill="#000"/>
<polygon points="693.0,469.6 686.0,468.6 689.0,474.6" fill="#12a012"/><polygon points="689.0,475.6 685.5,469.1 685.0,475.6" fill="#000"/>
<polygon points="600,414 603.3,417 604.5,424 602,424" fill="#1a1a1a"/><path d="M602.5 432.5L613 434L603 436Z" fill="#1a1a1a"/>
<text x="584.0" y="445.0" class="s" font-size="6.21" fill="#111">0</text>
<text x="623.0" y="442.0" class="s" font-size="6.21" fill="#111">5</text>
<text x="666.0" y="441.0" class="s" font-size="4.050000000000001" fill="#111">x 0.1</text>
<rect x="26.0" y="496.4" width="117.0" height="124.6" fill="none" stroke="#3d4346" stroke-width="1.3"/>
<rect x="26.0" y="514.0" width="117.0" height="84.0" fill="none" stroke="#3d4346" stroke-width="1.8"/>
<path d="M35.6 514.0V598.0" stroke="#6d777b" stroke-width="0.9"/>
<path d="M99.0 514.0V598.0" stroke="#6d777b" stroke-width="0.9"/>
<path d="M26.0 522.0H143.0" stroke="#6d777b" stroke-width="0.9"/>
<path d="M26.0 552.4H143.0" stroke="#6d777b" stroke-width="0.9"/>
<path d="M26.0 581.6H143.0" stroke="#6d777b" stroke-width="0.9"/>
<path d="M26.0 609.0H143.0" stroke="#6d777b" stroke-width="0.8"/>
<path d="M28 516.5L35.4 517L35.8 540L36.6 578" fill="none" stroke="#1a1a1a" stroke-width="1.0" stroke-linejoin="round"/>
<path d="M36.60 574.00 L36.85 578.06 L37.10 579.38 L37.35 577.52 L37.60 574.10 L37.85 571.53 L38.10 571.43 L38.35 573.71 L38.60 576.78 L38.85 578.77 L39.10 578.75 L39.35 577.07 L39.60 574.90 L39.85 573.70 L40.10 574.22 L40.35 576.09 L40.60 578.10 L40.85 579.04 L41.10 578.45 L41.35 576.88 L41.60 575.44 L41.85 575.07 L42.10 575.99 L42.35 577.56 L42.60 578.81 L42.85 579.05 L43.10 578.28 L43.35 577.04 L43.60 576.15 L43.85 576.20 L44.10 577.18 L44.35 578.47 L44.60 579.27 L44.85 579.10 L45.10 578.10 L45.35 576.96 L45.60 576.43 L45.85 576.87 L46.10 578.02 L46.35 579.15 L46.60 579.57 L46.85 579.05 L47.10 577.94 L47.35 577.01 L47.60 576.86 L47.85 577.62 L48.10 578.81 L48.35 579.69 L48.60 579.73 L48.85 578.93 L49.10 577.85 L49.35 577.21 L49.60 577.44 L49.85 578.42 L50.10 579.52 L50.35 580.08 L50.60 579.76 L50.85 578.81 L51.10 577.87 L51.35 577.57 L51.60 578.13 L51.85 579.19 L52.10 580.10 L52.35 580.31 L52.60 579.71 L52.85 578.73 L53.10 578.03 L53.35 578.08 L53.60 578.86 L53.85 579.90 L54.10 580.54 L54.35 580.41 L54.60 579.63 L54.85 578.73 L55.10 578.32 L55.35 578.66 L55.60 579.58 L55.85 580.49 L56.10 580.83 L56.35 580.41 L56.60 579.51 L56.85 578.75 L57.10 578.62 L57.35 579.24 L57.60 580.23 L57.85 580.96 L58.10 580.99 L58.35 580.32 L58.60 579.41 L58.85 578.86 L59.10 579.05 L59.35 579.88 L59.60 580.83 L59.85 581.31 L60.10 581.03 L60.35 580.20 L60.60 579.38 L60.85 579.10 L61.10 579.59 L61.35 580.53 L61.60 581.34 L61.85 581.53 L62.10 580.99 L62.35 580.09 L62.60 579.44 L62.85 579.47 L63.10 580.19 L63.35 581.15 L63.60 581.75 L63.85 581.63 L64.10 580.89 L64.35 580.02 L64.60 579.62 L64.85 579.95 L65.10 580.83 L65.35 581.70 L65.60 582.04 L65.85 581.63 L66.10 580.77 L66.35 580.04 L66.60 579.92 L66.85 580.52 L67.10 581.46 L67.35 582.16 L67.60 582.20 L67.85 581.56 L68.10 580.69 L68.35 580.16 L68.60 580.34 L68.85 581.14 L69.10 582.05 L69.35 582.51 L69.60 582.25 L69.85 581.45 L70.10 580.66 L70.35 580.40 L70.60 580.87 L70.85 581.77 L71.10 582.55 L71.35 582.73 L71.60 582.21 L71.85 581.36 L72.10 580.73 L72.35 580.77 L72.60 581.46 L72.85 582.38 L73.10 582.95 L73.35 582.84 L73.60 582.13 L73.85 581.30" fill="none" stroke="#1a1a1a" stroke-width="1.0" stroke-linejoin="round"/>
<text x="84.5" y="509.7" text-anchor="middle" class="v" font-size="13.5" textLength="79.0" lengthAdjust="spacingAndGlyphs">Inflation Rate</text>
<text x="84.5" y="609.5" text-anchor="middle" class="s" font-size="12">Years</text>
<polygon points="17.7,512.4 25.5,517.8 16.9,516.6" fill="#e01818"/>
<polygon points="18.1,512.0 20.5,511.4 25.5,517.8 16.7,516.2" fill="#e01818"/>
<polygon points="16.5,554.0 24.5,556.8 16.5,559.6" fill="#e01818"/>
<polygon points="16.5,583.1 24.5,585.9 16.5,588.7" fill="#12a012"/>
<polygon points="16.5,611.7 24.5,614.5 16.5,617.3" fill="#1818e0"/>
<polygon points="150.9,512.0 148.5,511.4 143.5,517.8 152.3,516.2" fill="#12a012"/>
<polygon points="152.5,524.8 144.5,527.5 152.5,530.3" fill="#e018e0"/>
<polygon points="152.5,554.0 144.5,556.8 152.5,559.6" fill="#18d8d8"/>
<polygon points="152.5,583.1 144.5,585.9 152.5,588.7" fill="#e8a018"/>
<polygon points="152.5,611.7 144.5,614.5 152.5,617.3" fill="#9820d8"/>
<polygon points="29.1,630.5 31.9,622.5 34.6,630.5" fill="#0a0a0a"/>
<polygon points="44.3,630.5 47.1,622.5 49.9,630.5" fill="#e01818"/>
<polygon points="59.2,630.5 62.0,622.5 64.8,630.5" fill="#12a012"/>
<polygon points="74.1,630.5 76.9,622.5 79.7,630.5" fill="#1818e0"/>
<polygon points="89.0,630.5 91.8,622.5 94.6,630.5" fill="#e018e0"/>
<polygon points="103.9,630.5 106.7,622.5 109.5,630.5" fill="#18d8d8"/>
<polygon points="118.8,630.5 121.6,622.5 124.4,630.5" fill="#e8a018"/>
<polygon points="133.8,630.5 136.6,622.5 139.4,630.5" fill="#9820d8"/>
<polygon points="19.0,622.0 26.0,621.0 23.0,627.0" fill="#e01818"/><polygon points="23.0,628.0 26.5,621.5 27.0,628.0" fill="#000"/>
<polygon points="150.0,622.0 143.0,621.0 146.0,627.0" fill="#12a012"/><polygon points="146.0,628.0 142.5,621.5 142.0,628.0" fill="#000"/>
<text x="28.0" y="519.5" class="s" font-size="4.050000000000001" fill="#111">x 0.1</text>
<text x="36.0" y="594.5" class="s" font-size="6.21" fill="#111">0</text>
<rect x="211.6" y="498.6" width="117.4" height="125.4" fill="none" stroke="#3d4346" stroke-width="1.3"/>
<rect x="211.6" y="516.6" width="117.4" height="83.4" fill="none" stroke="#3d4346" stroke-width="1.8"/>
<path d="M221.0 516.6V600.0" stroke="#6d777b" stroke-width="0.9"/>
<path d="M286.0 516.6V600.0" stroke="#6d777b" stroke-width="0.9"/>
<path d="M211.6 536.6H329.0" stroke="#6d777b" stroke-width="0.9"/>
<path d="M211.6 560.0H329.0" stroke="#6d777b" stroke-width="0.9"/>
<path d="M304.8 522L298 543" fill="none" stroke="#1a1a1a" stroke-width="1.0" stroke-linejoin="round"/>
<text x="270.3" y="512.1" text-anchor="middle" class="v" font-size="13.5" textLength="61.0" lengthAdjust="spacingAndGlyphs">Debt Ratio</text>
<text x="270.3" y="611.9" text-anchor="middle" class="s" font-size="12.5">Years</text>
<polygon points="203.3,514.8 211.1,520.2 202.5,519.0" fill="#e01818"/>
<polygon points="203.7,514.4 206.1,513.8 211.1,520.2 202.3,518.6" fill="#e01818"/>
<polygon points="202.1,556.6 210.1,559.4 202.1,562.2" fill="#e01818"/>
<polygon points="202.1,585.8 210.1,588.6 202.1,591.4" fill="#12a012"/>
<polygon points="202.1,614.7 210.1,617.5 202.1,620.3" fill="#1818e0"/>
<polygon points="336.9,514.4 334.5,513.8 329.5,520.2 338.3,518.6" fill="#12a012"/>
<polygon points="338.5,527.2 330.5,530.0 338.5,532.8" fill="#e018e0"/>
<polygon points="338.5,556.6 330.5,559.4 338.5,562.2" fill="#18d8d8"/>
<polygon points="338.5,585.8 330.5,588.6 338.5,591.4" fill="#e8a018"/>
<polygon points="338.5,614.7 330.5,617.5 338.5,620.3" fill="#9820d8"/>
<polygon points="214.7,633.5 217.5,625.5 220.3,633.5" fill="#0a0a0a"/>
<polygon points="229.9,633.5 232.7,625.5 235.5,633.5" fill="#e01818"/>
<polygon points="244.9,633.5 247.7,625.5 250.5,633.5" fill="#12a012"/>
<polygon points="259.9,633.5 262.7,625.5 265.5,633.5" fill="#1818e0"/>
<polygon points="274.8,633.5 277.6,625.5 280.4,633.5" fill="#e018e0"/>
<polygon points="289.8,633.5 292.6,625.5 295.4,633.5" fill="#18d8d8"/>
<polygon points="304.8,633.5 307.6,625.5 310.4,633.5" fill="#e8a018"/>
<polygon points="319.7,633.5 322.5,625.5 325.3,633.5" fill="#9820d8"/>
<polygon points="204.6,625.0 211.6,624.0 208.6,630.0" fill="#e01818"/><polygon points="208.6,631.0 212.1,624.5 212.6,631.0" fill="#000"/>
<polygon points="336.0,625.0 329.0,624.0 332.0,630.0" fill="#12a012"/><polygon points="332.0,631.0 328.5,624.5 328.0,631.0" fill="#000"/>
<text x="213.0" y="522.0" class="s" font-size="4.050000000000001" fill="#111">x 1</text>
<rect x="401.6" y="501.4" width="115.4" height="124.6" fill="none" stroke="#3d4346" stroke-width="1.3"/>
<rect x="401.6" y="520.0" width="115.4" height="83.4" fill="none" stroke="#3d4346" stroke-width="1.8"/>
<path d="M409.6 520.0V603.4" stroke="#6d777b" stroke-width="0.9"/>
<path d="M473.6 520.0V603.4" stroke="#6d777b" stroke-width="0.9"/>
<path d="M401.6 532.4H517.0" stroke="#6d777b" stroke-width="0.9"/>
<path d="M401.6 569.6H517.0" stroke="#6d777b" stroke-width="0.9"/>
<path d="M401.6 606.6H517.0" stroke="#6d777b" stroke-width="0.8"/>
<path d="M403 521.5L409.4 522L409.8 560L410 597" fill="none" stroke="#1a1a1a" stroke-width="1.1" stroke-linejoin="round"/>
<path d="M410.00 585.00 L410.25 593.59 L410.50 596.21 L410.75 591.82 L411.00 583.85 L411.25 577.67 L411.50 577.03 L411.75 581.83 L412.00 588.60 L412.25 593.25 L412.50 593.18 L412.75 588.76 L413.00 583.11 L413.25 579.93 L413.50 581.15 L413.75 585.81 L414.00 590.84 L414.25 593.14 L414.50 591.53 L414.75 587.38 L415.00 583.55 L415.25 582.49 L415.50 584.72 L415.75 588.65 L416.00 591.77 L416.25 592.40 L416.50 590.26 L416.75 586.83 L417.00 584.39 L417.25 584.51 L417.50 587.13 L417.75 590.57 L418.00 592.66 L418.25 592.16 L418.50 589.50 L418.75 586.47 L419.00 585.08 L419.25 586.22 L419.50 589.17 L419.75 592.04 L420.00 593.06 L420.25 591.69 L420.50 588.90 L420.75 586.57 L421.00 586.22 L421.25 588.08 L421.50 590.96 L421.75 593.04 L422.00 593.08 L422.25 591.16 L422.50 588.61 L422.75 587.12 L423.00 587.67 L423.25 589.90 L423.50 592.39 L423.75 593.61 L424.00 592.87 L424.25 590.75 L424.50 588.70 L424.75 588.08 L425.00 589.28 L425.25 591.52 L425.50 593.44 L425.75 593.85 L426.00 592.54 L426.25 590.40 L426.50 588.86 L426.75 588.93 L427.00 590.59 L427.25 592.80 L427.50 594.17 L427.75 593.86 L428.00 592.13 L428.25 590.15 L428.50 589.21 L428.75 589.96 L429.00 591.93 L429.25 593.88 L429.50 594.60 L429.75 593.67 L430.00 591.75 L430.25 590.12 L430.50 589.85 L430.75 591.15 L431.00 593.21 L431.25 594.72 L431.50 594.76 L431.75 593.37 L432.00 591.48 L432.25 590.35 L432.50 590.74 L432.75 592.42 L433.00 594.32 L433.25 595.28 L433.50 594.71 L433.75 593.04 L434.00 591.39 L434.25 590.86 L434.50 591.81 L434.75 593.65 L435.00 595.23 L435.25 595.58 L435.50 594.52 L435.75 592.79 L436.00 591.54 L436.25 591.61 L436.50 592.97 L436.75 594.78 L437.00 595.89 L437.25 595.66 L437.50 594.27 L437.75 592.67 L438.00 591.93 L438.25 592.55 L438.50 594.15 L438.75 595.73 L439.00 596.31 L439.25 595.58 L439.50 594.05 L439.75 592.76 L440.00 592.56 L440.25 593.59 L440.50 595.20 L440.75 596.38 L441.00 596.40 L441.25 595.28 L441.50 593.78 L441.75 592.89 L442.00 593.19 L442.25 594.48 L442.50 595.94 L442.75 596.65 L443.00 596.20 L443.25 594.91 L443.50 593.64 L443.75 593.22 L444.00 593.94 L444.25 595.31 L444.50 596.49 L444.75 596.73 L445.00 595.92 L445.25 594.62 L445.50 593.69 L445.75 593.74 L446.00 594.73 L446.25 596.03 L446.50 596.83 L446.75 596.64 L447.00 595.63 L447.25 594.47 L447.50 593.94 L447.75 594.38 L448.00 595.50 L448.25 596.60 L448.50 596.99 L448.75 596.46 L449.00 595.39 L449.25 594.50 L449.50 594.36 L449.75 595.08 L450.00 596.18 L450.25 596.99 L450.50 597.00 L450.75 596.26 L451.00 595.27 L451.25 594.69 L451.50 594.90 L451.75 595.77 L452.00 596.74 L452.25 597.15 L452.50 596.84 L452.75 596.09 L453.00 595.46 L453.25 595.33 L453.50 595.73 L453.75 596.33 L454.00 596.75 L454.25 596.79 L454.50 596.53 L454.75 596.22 L455.00 596.10 L455.25 596.20 L455.50 596.39 L455.75 596.50 L456.00 596.50" fill="none" stroke="#1a1a1a" stroke-width="0.9" stroke-linejoin="round"/>
<path d="M409.6 596.6H494" fill="none" stroke="#d42020" stroke-width="1.3" stroke-linejoin="round"/>
<text x="459.3" y="515.2" text-anchor="middle" class="v" font-size="13.5" textLength="73.0" lengthAdjust="spacingAndGlyphs">Interest Rate</text>
<text x="459.3" y="615.5" text-anchor="middle" class="s" font-size="12">Years</text>
<polygon points="393.3,517.4 401.1,522.8 392.5,521.6" fill="#e01818"/>
<polygon points="393.7,517.0 396.1,516.4 401.1,522.8 392.3,521.2" fill="#e01818"/>
<polygon points="392.1,559.0 400.1,561.8 392.1,564.6" fill="#e01818"/>
<polygon points="392.1,588.1 400.1,590.9 392.1,593.7" fill="#12a012"/>
<polygon points="392.1,616.7 400.1,619.5 392.1,622.3" fill="#1818e0"/>
<polygon points="524.9,517.0 522.5,516.4 517.5,522.8 526.3,521.2" fill="#12a012"/>
<polygon points="526.5,529.8 518.5,532.5 526.5,535.3" fill="#e018e0"/>
<polygon points="526.5,559.0 518.5,561.8 526.5,564.6" fill="#18d8d8"/>
<polygon points="526.5,588.1 518.5,590.9 526.5,593.7" fill="#e8a018"/>
<polygon points="526.5,616.7 518.5,619.5 526.5,622.3" fill="#9820d8"/>
<polygon points="404.6,635.5 407.4,627.5 410.2,635.5" fill="#0a0a0a"/>
<polygon points="419.6,635.5 422.4,627.5 425.2,635.5" fill="#e01818"/>
<polygon points="434.3,635.5 437.1,627.5 439.9,635.5" fill="#12a012"/>
<polygon points="449.0,635.5 451.8,627.5 454.6,635.5" fill="#1818e0"/>
<polygon points="463.7,635.5 466.5,627.5 469.3,635.5" fill="#e018e0"/>
<polygon points="478.4,635.5 481.2,627.5 484.0,635.5" fill="#18d8d8"/>
<polygon points="493.1,635.5 495.9,627.5 498.7,635.5" fill="#e8a018"/>
<polygon points="507.9,635.5 510.7,627.5 513.5,635.5" fill="#9820d8"/>
<polygon points="394.6,627.0 401.6,626.0 398.6,632.0" fill="#e01818"/><polygon points="398.6,633.0 402.1,626.5 402.6,633.0" fill="#000"/>
<polygon points="524.0,627.0 517.0,626.0 520.0,632.0" fill="#12a012"/><polygon points="520.0,633.0 516.5,626.5 516.0,633.0" fill="#000"/>
<path d="M482 524.3h4M482 527.6h4" stroke="#222" stroke-width="0.7"/><path d="M482 530h4" stroke="#d42020" stroke-width="0.8"/><rect x="487.5" y="523.5" width="1.2" height="1" fill="#222"/><rect x="493" y="528" width="1.4" height="1.3" fill="#d42020"/><rect x="492" y="532.5" width="1.4" height="1.3" fill="#d42020"/>
<text x="403.0" y="525.0" class="s" font-size="4.050000000000001" fill="#111">x 0.1</text>
<text x="410.0" y="601.0" class="s" font-size="6.21" fill="#111">0</text>
<text x="474.0" y="601.0" class="s" font-size="6.21" fill="#111">5</text>
<text x="494.5" y="596.0" class="s" font-size="4.050000000000001" fill="#111">x 10</text>
<rect x="558.0" y="493.0" width="116.0" height="124.0" fill="none" stroke="#3d4346" stroke-width="1.3"/>
<rect x="571.0" y="510.6" width="103.0" height="84.0" fill="none" stroke="#3d4346" stroke-width="1.8"/>
<path d="M625.6 510.6V594.6" stroke="#6d777b" stroke-width="0.9"/>
<path d="M571.0 530.6H674.0" stroke="#6d777b" stroke-width="0.9"/>
<path d="M571.0 588.0H674.0" stroke="#6d777b" stroke-width="0.9"/>
<path d="M576.0 515.0 C578.3 516.2,584.3 519.5,590.0 522.5 C595.7 525.5,603.8 529.6,610.0 533.0 C616.2 536.4,622.7 540.0,627.0 543.0 C631.3 546.0,633.7 548.3,636.0 551.0 C638.3 553.7,639.8 556.7,641.0 559.0 C642.2 561.3,643.1 564.0,643.5 565.0" fill="none" stroke="#1a1a1a" stroke-width="1.0" stroke-linejoin="round"/>
<path d="M643.5 565L644.5 581L643.5 583L630 588.5" fill="none" stroke="#1a1a1a" stroke-width="1.2" stroke-linejoin="round"/>
<text x="616.0" y="506.3" text-anchor="middle" class="v" font-size="13.5" textLength="87.0" lengthAdjust="spacingAndGlyphs">Phase Diagram</text>
<text x="616.0" y="606.5" text-anchor="middle" class="s" font-size="12" textLength="93.0" lengthAdjust="spacingAndGlyphs">Employment Rate</text>
<text transform="translate(568.1 552.6) rotate(-90)" text-anchor="middle" class="s" font-size="12" textLength="53.0" lengthAdjust="spacingAndGlyphs">Debt Ratio</text>
<polygon points="549.7,508.9 557.5,514.3 548.9,513.1" fill="#e01818"/>
<polygon points="550.1,508.5 552.5,507.9 557.5,514.3 548.7,512.7" fill="#e01818"/>
<polygon points="548.5,550.3 556.5,553.1 548.5,555.9" fill="#e01818"/>
<polygon points="548.5,579.2 556.5,582.0 548.5,584.8" fill="#12a012"/>
<polygon points="548.5,607.8 556.5,610.6 548.5,613.4" fill="#1818e0"/>
<polygon points="681.9,508.5 679.5,507.9 674.5,514.3 683.3,512.7" fill="#12a012"/>
<polygon points="683.5,521.2 675.5,524.0 683.5,526.8" fill="#e018e0"/>
<polygon points="683.5,550.3 675.5,553.1 683.5,555.9" fill="#18d8d8"/>
<polygon points="683.5,579.2 675.5,582.0 683.5,584.8" fill="#e8a018"/>
<polygon points="683.5,607.8 675.5,610.6 683.5,613.4" fill="#9820d8"/>
<polygon points="562.2,626.5 565.0,618.5 567.8,626.5" fill="#0a0a0a"/>
<polygon points="576.7,626.5 579.5,618.5 582.3,626.5" fill="#e01818"/>
<polygon points="591.1,626.5 593.9,618.5 596.7,626.5" fill="#12a012"/>
<polygon points="605.5,626.5 608.3,618.5 611.1,626.5" fill="#1818e0"/>
<polygon points="620.0,626.5 622.8,618.5 625.6,626.5" fill="#e018e0"/>
<polygon points="634.4,626.5 637.2,618.5 640.0,626.5" fill="#18d8d8"/>
<polygon points="648.9,626.5 651.7,618.5 654.5,626.5" fill="#e8a018"/>
<polygon points="663.3,626.5 666.1,618.5 668.9,626.5" fill="#9820d8"/>
<polygon points="551.0,618.0 558.0,617.0 555.0,623.0" fill="#e01818"/><polygon points="555.0,624.0 558.5,617.5 559.0,624.0" fill="#000"/>
<polygon points="681.0,618.0 674.0,617.0 677.0,623.0" fill="#12a012"/><polygon points="677.0,624.0 673.5,617.5 673.0,624.0" fill="#000"/>
<polygon points="644.2,561 648,567 645.8,573 646.6,581 651,583 647,585 636,586 642,582.5 642.6,573 639,567" fill="#1a1a1a"/>
<text x="572.0" y="517.0" class="s" font-size="4.050000000000001" fill="#111">x 1</text>
<text x="572.0" y="593.5" class="s" font-size="6.21" fill="#111">0</text>
<text x="626.0" y="590.5" class="s" font-size="6.21" fill="#111">0</text>
<text x="654.0" y="586.5" class="s" font-size="4.050000000000001" fill="#111">x 0.1</text>
<path d="M800.2 164.3V288.0H916.2V164.3" fill="none" stroke="#3d4346" stroke-width="1.3"/>
<rect x="813.5" y="181.4" width="102.7" height="83.7" fill="none" stroke="#3d4346" stroke-width="1.8"/>
<path d="M867.2 181.4V265.1" stroke="#6d777b" stroke-width="0.9"/>
<path d="M813.5 190.0H916.2" stroke="#6d777b" stroke-width="0.9"/>
<path d="M813.5 218.0H916.2" stroke="#6d777b" stroke-width="0.9"/>
<path d="M813.5 247.2H916.2" stroke="#6d777b" stroke-width="0.9"/>
<path d="M820.5 257.6 C824.6 257.6,837.4 257.7,845.0 257.7 C852.6 257.7,861.2 258.0,866.0 257.6 C870.8 257.2,871.7 256.7,874.0 255.5 C876.3 254.3,878.2 252.9,880.0 250.5 C881.8 248.1,883.5 245.1,885.0 241.0 C886.5 236.9,887.8 231.5,889.0 226.0 C890.2 220.5,891.1 214.2,892.0 208.0 C892.9 201.8,894.1 192.2,894.5 189.0" fill="none" stroke="#1a1a1a" stroke-width="1.0" stroke-linejoin="round"/>
<text x="858.2" y="177.3" text-anchor="middle" class="v" font-size="13.5" textLength="78.0" lengthAdjust="spacingAndGlyphs">Phillips Curve</text>
<text x="858.2" y="277.0" text-anchor="middle" class="s" font-size="12" textLength="68.0" lengthAdjust="spacingAndGlyphs">Employment</text>
<text transform="translate(810.5 223.2) rotate(-90)" text-anchor="middle" class="s" font-size="12" textLength="71.0" lengthAdjust="spacingAndGlyphs">Wage Change</text>
<polygon points="791.9,180.2 799.7,185.6 791.1,184.4" fill="#e01818"/>
<polygon points="792.3,179.8 794.7,179.2 799.7,185.6 790.9,184.0" fill="#e01818"/>
<polygon points="790.7,221.5 798.7,224.3 790.7,227.1" fill="#e01818"/>
<polygon points="790.7,250.3 798.7,253.1 790.7,255.9" fill="#12a012"/>
<polygon points="790.7,278.8 798.7,281.6 790.7,284.4" fill="#1818e0"/>
<polygon points="924.1,179.8 921.7,179.2 916.7,185.6 925.5,184.0" fill="#12a012"/>
<polygon points="925.7,192.4 917.7,195.2 925.7,198.0" fill="#e018e0"/>
<polygon points="925.7,221.5 917.7,224.3 925.7,227.1" fill="#18d8d8"/>
<polygon points="925.7,250.3 917.7,253.1 925.7,255.9" fill="#e8a018"/>
<polygon points="925.7,278.8 917.7,281.6 925.7,284.4" fill="#9820d8"/>
<polygon points="804.4,297.5 807.2,289.5 810.0,297.5" fill="#0a0a0a"/>
<polygon points="818.9,297.5 821.7,289.5 824.5,297.5" fill="#e01818"/>
<polygon points="833.3,297.5 836.1,289.5 838.9,297.5" fill="#12a012"/>
<polygon points="847.7,297.5 850.5,289.5 853.3,297.5" fill="#1818e0"/>
<polygon points="862.2,297.5 865.0,289.5 867.8,297.5" fill="#e018e0"/>
<polygon points="876.6,297.5 879.4,289.5 882.2,297.5" fill="#18d8d8"/>
<polygon points="891.1,297.5 893.9,289.5 896.7,297.5" fill="#e8a018"/>
<polygon points="905.5,297.5 908.3,289.5 911.1,297.5" fill="#9820d8"/>
<polygon points="793.2,289.0 800.2,288.0 797.2,294.0" fill="#e01818"/><polygon points="797.2,295.0 800.7,288.5 801.2,295.0" fill="#000"/>
<polygon points="923.2,289.0 916.2,288.0 919.2,294.0" fill="#12a012"/><polygon points="919.2,295.0 915.7,288.5 915.2,295.0" fill="#000"/>
<path d="M814 275.6H916" stroke="#7a8488" stroke-width="0.8"/>
<text x="815.0" y="186.0" class="s" font-size="4.050000000000001" fill="#111">x 0.1</text>
<text x="815.0" y="252.0" class="s" font-size="6.21" fill="#111">0</text>
<text x="868.0" y="261.5" class="s" font-size="6.21" fill="#111">5</text>
<text x="895.0" y="258.0" class="s" font-size="4.050000000000001" fill="#111">x 0.1</text>
<rect x="1021.2" y="165.5" width="116.6" height="124.4" fill="none" stroke="#3d4346" stroke-width="1.3"/>
<rect x="1035.2" y="183.0" width="102.6" height="84.5" fill="none" stroke="#3d4346" stroke-width="1.8"/>
<path d="M1079.5 183.0V267.5" stroke="#6d777b" stroke-width="0.9"/>
<path d="M1121.5 183.0V267.5" stroke="#6d777b" stroke-width="0.9"/>
<path d="M1035.2 208.7H1137.8" stroke="#6d777b" stroke-width="0.9"/>
<path d="M1039.8 261.2 C1042.3 260.9,1050.5 260.1,1055.0 259.5 C1059.5 258.9,1062.8 258.7,1067.0 257.6 C1071.2 256.5,1076.2 254.8,1080.0 253.0 C1083.8 251.2,1086.7 249.8,1090.0 247.0 C1093.3 244.2,1097.0 240.2,1100.0 236.0 C1103.0 231.8,1105.8 227.0,1108.0 222.0 C1110.2 217.0,1111.6 211.3,1113.0 206.0 C1114.4 200.7,1116.0 192.7,1116.6 190.0" fill="none" stroke="#1a1a1a" stroke-width="1.0" stroke-linejoin="round"/>
<text x="1079.5" y="178.7" text-anchor="middle" class="v" font-size="13.5" textLength="114.0" lengthAdjust="spacingAndGlyphs">Investment Function</text>
<text x="1079.5" y="278.6" text-anchor="middle" class="s" font-size="12" textLength="55.0" lengthAdjust="spacingAndGlyphs">Profit Rate</text>
<text transform="translate(1031.8 225.2) rotate(-90)" text-anchor="middle" class="s" font-size="12" textLength="80.0" lengthAdjust="spacingAndGlyphs">Investment ratio</text>
<polygon points="1012.9,181.5 1020.7,186.9 1012.1,185.7" fill="#e01818"/>
<polygon points="1013.3,181.1 1015.7,180.5 1020.7,186.9 1011.9,185.3" fill="#e01818"/>
<polygon points="1011.7,223.0 1019.7,225.8 1011.7,228.6" fill="#e01818"/>
<polygon points="1011.7,252.0 1019.7,254.8 1011.7,257.6" fill="#12a012"/>
<polygon points="1011.7,280.6 1019.7,283.4 1011.7,286.2" fill="#1818e0"/>
<polygon points="1145.7,181.1 1143.3,180.5 1138.3,186.9 1147.1,185.3" fill="#12a012"/>
<polygon points="1147.3,193.8 1139.3,196.6 1147.3,199.4" fill="#e018e0"/>
<polygon points="1147.3,223.0 1139.3,225.8 1147.3,228.6" fill="#18d8d8"/>
<polygon points="1147.3,252.0 1139.3,254.8 1147.3,257.6" fill="#e8a018"/>
<polygon points="1147.3,280.6 1139.3,283.4 1147.3,286.2" fill="#9820d8"/>
<polygon points="1025.4,299.4 1028.2,291.4 1031.0,299.4" fill="#0a0a0a"/>
<polygon points="1040.0,299.4 1042.8,291.4 1045.6,299.4" fill="#e01818"/>
<polygon points="1054.5,299.4 1057.3,291.4 1060.1,299.4" fill="#12a012"/>
<polygon points="1069.0,299.4 1071.8,291.4 1074.6,299.4" fill="#1818e0"/>
<polygon points="1083.5,299.4 1086.3,291.4 1089.1,299.4" fill="#e018e0"/>
<polygon points="1098.0,299.4 1100.8,291.4 1103.6,299.4" fill="#18d8d8"/>
<polygon points="1112.6,299.4 1115.4,291.4 1118.2,299.4" fill="#e8a018"/>
<polygon points="1127.1,299.4 1129.9,291.4 1132.7,299.4" fill="#9820d8"/>
<polygon points="1014.2,290.9 1021.2,289.9 1018.2,295.9" fill="#e01818"/><polygon points="1018.2,296.9 1021.7,290.4 1022.2,296.9" fill="#000"/>
<polygon points="1144.8,290.9 1137.8,289.9 1140.8,295.9" fill="#12a012"/><polygon points="1140.8,296.9 1137.3,290.4 1136.8,296.9" fill="#000"/>
<text x="1036.5" y="188.0" class="s" font-size="4.050000000000001" fill="#111">x 0.1</text>
<text x="1036.0" y="265.5" class="s" font-size="6.21" fill="#111">0</text>
<text x="1080.0" y="264.0" class="s" font-size="6.21" fill="#111">5</text>
<text x="1118.0" y="261.0" class="s" font-size="4.050000000000001" fill="#111">x 0.01</text>
<rect x="751.8" y="390.3" width="182.8" height="145.2" fill="none" stroke="#3d4346" stroke-width="1.3"/>
<rect x="767.2" y="408.7" width="167.4" height="101.0" fill="none" stroke="#3d4346" stroke-width="1.8"/>
<path d="M779.4 408.7V509.7" stroke="#6d777b" stroke-width="0.9"/>
<path d="M872.0 408.7V509.7" stroke="#6d777b" stroke-width="0.9"/>
<path d="M767.2 423.6H934.6" stroke="#6d777b" stroke-width="0.9"/>
<path d="M767.2 461.9H934.6" stroke="#6d777b" stroke-width="0.9"/>
<path d="M767.2 500.2H934.6" stroke="#6d777b" stroke-width="0.9"/>
<path d="M779.4 413.5L780.2 440L781.4 454.5L782.4 452" fill="none" stroke="#1a1a1a" stroke-width="1.0" stroke-linejoin="round"/>
<path d="M782.40 473.39 L782.65 475.01 L782.90 475.88 L783.15 475.91 L783.40 475.12 L783.65 473.66 L783.90 471.76 L784.15 469.72 L784.40 467.83 L784.65 466.39 L784.90 465.60 L785.15 465.55 L785.40 466.26 L785.65 467.61 L785.90 469.39 L786.15 471.34 L786.40 473.18 L786.65 474.68 L786.90 475.62 L787.15 475.90 L787.40 475.50 L787.65 474.50 L787.90 473.06 L788.15 471.42 L788.40 469.81 L788.65 468.47 L788.90 467.61 L789.15 467.32 L789.40 467.64 L789.65 468.52 L789.90 469.82 L790.15 471.34 L790.40 472.86 L790.65 474.18 L790.90 475.11 L791.15 475.54 L791.40 475.43 L791.65 474.82 L791.90 473.82 L792.15 472.60 L792.40 471.30 L792.65 470.13 L792.90 469.25 L793.15 468.79 L793.40 468.82 L793.65 469.33 L793.90 470.26 L794.15 471.46 L794.40 472.77 L794.65 474.00 L794.90 474.98 L795.15 475.57 L795.40 475.70 L795.65 475.35 L795.90 474.59 L796.15 473.54 L796.40 472.34 L796.65 471.19 L796.90 470.26 L797.15 469.67 L797.40 469.51 L797.65 469.82 L797.90 470.54 L798.15 471.57 L798.40 472.76 L798.65 473.95 L798.90 474.96 L799.15 475.66 L799.40 475.96 L799.65 475.81 L799.90 475.26 L800.15 474.37 L800.40 473.27 L800.65 472.12 L800.90 471.07 L801.15 470.30 L801.40 469.91 L801.65 469.96 L801.90 470.46 L802.15 471.34 L802.40 472.47 L802.65 473.69 L802.90 474.83 L803.15 475.72 L803.40 476.21 L803.65 476.25 L803.90 475.81 L804.15 474.96 L804.40 473.81 L804.65 472.53 L804.90 471.30 L805.15 470.30 L805.40 469.69 L805.65 469.55 L805.90 469.91 L806.15 470.73 L806.40 471.89 L806.65 473.23 L806.90 474.54 L807.15 475.65 L807.40 476.39 L807.65 476.64 L807.90 476.36 L808.15 475.59 L808.40 474.43 L808.65 473.05 L808.90 471.65 L809.15 470.43 L809.40 469.57 L809.65 469.20 L809.90 469.38 L810.15 470.10 L810.40 471.24 L810.65 472.65 L810.90 474.13 L811.15 475.46 L811.40 476.45 L811.65 476.94 L811.90 476.86 L812.15 476.23 L812.40 475.13 L812.65 473.68 L812.90 472.10 L813.15 470.63 L813.40 469.46 L813.65 468.79 L813.90 468.73 L814.15 469.29 L814.40 470.41 L814.65 471.92 L814.90 473.63 L815.15 475.28 L815.40 476.63 L815.65 477.47 L815.90 477.67 L816.15 477.19 L816.40 476.09 L816.65 474.52 L816.90 472.69 L817.15 470.87 L817.40 469.34 L817.65 468.31 L817.90 467.95 L818.15 468.32 L818.40 469.39 L818.65 471.00 L818.90 472.93 L819.15 474.91 L819.40 476.64 L819.65 477.87 L819.90 478.40 L820.15 478.16 L820.40 477.15 L820.65 475.52 L820.90 473.50 L821.15 471.37 L821.40 469.44 L821.65 468.01 L821.90 467.28 L822.15 467.38 L822.40 468.30 L822.65 469.92 L822.90 472.02 L823.15 474.29 L823.40 476.41 L823.65 478.06 L823.90 479.00 L824.15 479.07 L824.40 478.26 L824.65 476.67 L824.90 474.52 L825.15 472.11 L825.40 469.80 L825.65 467.93 L825.90 466.77 L826.15 466.56 L826.40 467.31 L826.65 468.87 L826.90 471.01 L827.15 473.40 L827.40 475.71 L827.65 477.59 L827.90 478.79 L828.15 479.14 L828.40 478.60 L828.65 477.26 L828.90 475.32 L829.15 473.08 L829.40 470.85 L829.65 468.97 L829.90 467.69 L830.15 467.20 L830.40 467.55 L830.65 468.68 L830.90 470.41 L831.15 472.50 L831.40 474.62 L831.65 476.48 L831.90 477.81 L832.15 478.43 L832.40 478.26 L832.65 477.33 L832.90 475.79 L833.15 473.88 L833.40 471.87 L833.65 470.05 L833.90 468.69 L834.15 467.97 L834.40 467.98 L834.65 468.72 L834.90 470.06 L835.15 471.80 L835.40 473.69 L835.65 475.44 L835.90 476.82 L836.15 477.62 L836.40 477.74 L836.65 477.18 L836.90 476.03 L837.15 474.46 L837.40 472.71 L837.65 471.03 L837.90 469.67 L838.15 468.83 L838.40 468.62 L838.65 469.05 L838.90 470.03 L839.15 471.40 L839.40 472.95 L839.65 474.45 L839.90 475.69 L840.15 476.50 L840.40 476.78 L840.65 476.50 L840.90 475.74 L841.15 474.62 L841.40 473.31 L841.65 472.01 L841.90 470.91 L842.15 470.16 L842.40 469.85 L842.65 470.00 L842.90 470.57 L843.15 471.46 L843.40 472.52 L843.65 473.60 L843.90 474.54 L844.15 475.21 L844.40 475.53 L844.65 475.47 L844.90 475.06 L845.15 474.38 L845.40 473.55 L845.65 472.69 L845.90 471.94 L846.15 471.38 L846.40 471.10 L846.65 471.10 L846.90 471.38 L847.15 471.87 L847.40 472.47 L847.65 473.10 L847.90 473.66 L848.15 474.08 L848.40 474.31 L848.65 474.34 L848.90 474.18 L849.15 473.89 L849.40 473.55 L849.65 473.22 L849.90 472.95 L850.15 472.79 L850.40 472.76 L850.65 472.83 L850.90 472.97 L851.15 473.15 L851.40 473.32 L851.65 473.44 L851.90 473.50" fill="none" stroke="#1a1a1a" stroke-width="0.9" stroke-linejoin="round"/>
<path d="M852.0 473.5 C853.7 473.8,858.7 474.5,862.0 475.5 C865.3 476.5,869.0 477.8,872.0 479.5 C875.0 481.2,877.3 483.2,880.0 485.5 C882.7 487.8,885.5 490.7,888.0 493.0 C890.5 495.3,893.2 498.2,895.0 499.5 C896.8 500.8,897.9 500.8,898.5 501.0" fill="none" stroke="#1a1a1a" stroke-width="1.0" stroke-linejoin="round"/>
<path d="M779.6 495L780.6 470L782.2 454" fill="none" stroke="#d83030" stroke-width="1.0" stroke-linejoin="round"/>
<path d="M782.40 454.36 L782.65 458.98 L782.90 465.24 L783.15 472.10 L783.40 478.52 L783.65 483.60 L783.90 486.70 L784.15 487.56 L784.40 486.25 L784.65 483.19 L784.90 479.01 L785.15 474.50 L785.40 470.06 L785.65 466.23 L785.90 463.53 L786.15 462.30 L786.40 462.65 L786.65 464.46 L786.90 467.41 L787.15 471.01 L787.40 474.71 L787.65 477.99 L787.90 480.38 L788.15 481.59 L788.40 481.51 L788.65 480.23 L788.90 477.99 L789.15 475.17 L789.40 472.22 L789.65 469.57 L789.90 467.58 L790.15 466.40 L790.40 466.16 L790.65 466.90 L790.90 468.50 L791.15 470.70 L791.40 473.17 L791.65 475.55 L791.90 477.50 L792.15 478.75 L792.40 479.14 L792.65 478.64 L792.90 477.35 L793.15 475.47 L793.40 473.29 L793.65 471.14 L793.90 469.32 L794.15 468.09 L794.40 467.59 L794.65 467.89 L794.90 468.91 L795.15 470.48 L795.40 472.36 L795.65 474.26 L795.90 475.92 L796.15 477.10 L796.40 477.65 L796.65 477.52 L796.90 476.74 L797.15 475.48 L797.40 473.90 L797.65 472.21 L797.90 470.65 L798.15 469.46 L798.40 468.78 L798.65 468.73 L798.90 469.29 L799.15 470.38 L799.40 471.83 L799.65 473.43 L799.90 474.95 L800.15 476.17 L800.40 476.91 L800.65 477.09 L800.90 476.67 L801.15 475.72 L801.40 474.40 L801.65 472.90 L801.90 471.43 L802.15 470.20 L802.40 469.40 L802.65 469.13 L802.90 469.42 L803.15 470.22 L803.40 471.41 L803.65 472.81 L803.90 474.22 L804.15 475.43 L804.40 476.28 L804.65 476.64 L804.90 476.47 L805.15 475.80 L805.40 474.74 L805.65 473.45 L805.90 472.11 L806.15 470.90 L806.40 469.95 L806.65 469.43 L806.90 469.42 L807.15 469.93 L807.40 470.92 L807.65 472.23 L807.90 473.69 L808.15 475.08 L808.40 476.20 L808.65 476.88 L808.90 477.00 L809.15 476.54 L809.40 475.55 L809.65 474.16 L809.90 472.57 L810.15 471.00 L810.40 469.70 L810.65 468.85 L810.90 468.59 L811.15 468.97 L811.40 469.96 L811.65 471.41 L811.90 473.12 L812.15 474.85 L812.40 476.35 L812.65 477.38 L812.90 477.79 L813.15 477.51 L813.40 476.56 L813.65 475.07 L813.90 473.25 L814.15 471.35 L814.40 469.60 L814.65 468.29 L814.90 467.63 L815.15 467.73 L815.40 468.63 L815.65 470.20 L815.90 472.26 L816.15 474.50 L816.40 476.61 L816.65 478.26 L816.90 479.18 L817.15 479.23 L817.40 478.35 L817.65 476.65 L817.90 474.36 L818.15 471.78 L818.40 469.31 L818.65 467.30 L818.90 466.06 L819.15 465.82 L819.40 466.63 L819.65 468.40 L819.90 470.90 L820.15 473.79 L820.40 476.64 L820.65 479.04 L820.90 480.61 L821.15 481.11 L821.40 480.43 L821.65 478.63 L821.90 475.96 L822.15 472.78 L822.40 469.61 L822.65 466.92 L822.90 465.10 L823.15 464.43 L823.40 465.00 L823.65 466.73 L823.90 469.38 L824.15 472.56 L824.40 475.82 L824.65 478.69 L824.90 480.73 L825.15 481.66 L825.40 481.34 L825.65 479.80 L825.90 477.27 L826.15 474.11 L826.40 470.78 L826.65 467.76 L826.90 465.49 L827.15 464.30 L827.40 464.37 L827.65 465.70 L827.90 468.09 L828.15 471.20 L828.40 474.59 L828.65 477.75 L828.90 480.24 L829.15 481.69 L829.40 481.87 L829.65 480.77 L829.90 478.54 L830.15 475.48 L830.40 472.09 L830.65 468.89 L830.90 466.34 L831.15 464.79 L831.40 464.46 L831.65 465.35 L831.90 467.33 L832.15 470.09 L832.40 473.21 L832.65 476.25 L832.90 478.76 L833.15 480.40 L833.40 480.94 L833.65 480.33 L833.90 478.67 L834.15 476.24 L834.40 473.39 L834.65 470.54 L834.90 468.10 L835.15 466.42 L835.40 465.72 L835.65 466.08 L835.90 467.42 L836.15 469.54 L836.40 472.11 L836.65 474.75 L836.90 477.08 L837.15 478.77 L837.40 479.60 L837.65 479.45 L837.90 478.39 L838.15 476.56 L838.40 474.28 L838.65 471.89 L838.90 469.74 L839.15 468.13 L839.40 467.27 L839.65 467.26 L839.90 468.08 L840.15 469.56 L840.40 471.49 L840.65 473.55 L840.90 475.45 L841.15 476.93 L841.40 477.79 L841.65 477.93 L841.90 477.35 L842.15 476.18 L842.40 474.61 L842.65 472.88 L842.90 471.25 L843.15 469.94 L843.40 469.14 L843.65 468.92 L843.90 469.30 L844.15 470.18 L844.40 471.42 L844.65 472.82 L844.90 474.16 L845.15 475.26 L845.40 475.98 L845.65 476.24 L845.90 476.02 L846.15 475.40 L846.40 474.50 L846.65 473.46 L846.90 472.46 L847.15 471.63 L847.40 471.10 L847.65 470.90 L847.90 471.05 L848.15 471.49 L848.40 472.14 L848.65 472.87 L848.90 473.57 L849.15 474.15 L849.40 474.53 L849.65 474.68 L849.90 474.61 L850.15 474.37 L850.40 474.02 L850.65 473.64 L850.90 473.31 L851.15 473.10 L851.40 473.07 L851.65 473.20 L851.90 473.41" fill="none" stroke="#d83030" stroke-width="0.9" stroke-linejoin="round"/>
<path d="M852.0 473.5 C854.0 473.5,859.8 473.5,864.0 473.6 C868.2 473.7,873.5 473.6,877.0 474.2 C880.5 474.8,882.5 475.6,885.0 477.0 C887.5 478.4,890.0 480.8,892.0 482.5 C894.0 484.2,895.8 486.4,897.0 487.5 C898.2 488.6,899.1 488.8,899.5 489.0" fill="none" stroke="#d83030" stroke-width="1.0" stroke-linejoin="round"/>
<text x="843.2" y="403.5" text-anchor="middle" class="v" font-size="16.5" textLength="91.0" lengthAdjust="spacingAndGlyphs">Growth Rates</text>
<text x="843.2" y="523.0" text-anchor="middle" class="s" font-size="13.5" textLength="32.0" lengthAdjust="spacingAndGlyphs">Years</text>
<text transform="translate(763.5 459.2) rotate(-90)" text-anchor="middle" class="s" font-size="13.5" textLength="44.0" lengthAdjust="spacingAndGlyphs">Percent</text>
<polygon points="743.5,408.8 751.3,414.2 742.7,413.0" fill="#e01818"/>
<polygon points="743.9,408.4 746.3,407.8 751.3,414.2 742.5,412.6" fill="#e01818"/>
<polygon points="742.3,457.6 750.3,460.4 742.3,463.2" fill="#e01818"/>
<polygon points="742.3,491.6 750.3,494.4 742.3,497.2" fill="#12a012"/>
<polygon points="742.3,525.3 750.3,528.1 742.3,530.9" fill="#1818e0"/>
<polygon points="942.5,408.4 940.1,407.8 935.1,414.2 943.9,412.6" fill="#12a012"/>
<polygon points="944.1,423.5 936.1,426.3 944.1,429.1" fill="#e018e0"/>
<polygon points="944.1,457.6 936.1,460.4 944.1,463.2" fill="#18d8d8"/>
<polygon points="944.1,491.6 936.1,494.4 944.1,497.2" fill="#e8a018"/>
<polygon points="944.1,525.3 936.1,528.1 944.1,530.9" fill="#9820d8"/>
<polygon points="762.3,545.0 765.1,537.0 767.9,545.0" fill="#0a0a0a"/>
<polygon points="784.6,545.0 787.4,537.0 790.2,545.0" fill="#e01818"/>
<polygon points="806.9,545.0 809.7,537.0 812.5,545.0" fill="#12a012"/>
<polygon points="829.1,545.0 831.9,537.0 834.7,545.0" fill="#1818e0"/>
<polygon points="851.4,545.0 854.2,537.0 857.0,545.0" fill="#e018e0"/>
<polygon points="873.6,545.0 876.4,537.0 879.2,545.0" fill="#18d8d8"/>
<polygon points="895.9,545.0 898.7,537.0 901.5,545.0" fill="#e8a018"/>
<polygon points="918.1,545.0 920.9,537.0 923.7,545.0" fill="#9820d8"/>
<polygon points="744.8,536.5 751.8,535.5 748.8,541.5" fill="#e01818"/><polygon points="748.8,542.5 752.3,536.0 752.8,542.5" fill="#000"/>
<polygon points="941.6,536.5 934.6,535.5 937.6,541.5" fill="#12a012"/><polygon points="937.6,542.5 934.1,536.0 933.6,542.5" fill="#000"/>
<path d="M879 415.6h6M879 418.3h6" stroke="#222" stroke-width="0.8"/><path d="M879 421h6" stroke="#d83030" stroke-width="0.9"/><rect x="891" y="416.5" width="1.5" height="1.3" fill="#222"/><rect x="897" y="415" width="1.5" height="1.3" fill="#222"/><rect x="893" y="421.5" width="1.6" height="1.4" fill="#d83030"/><rect x="898" y="420" width="1.6" height="1.4" fill="#d83030"/><rect x="894.5" y="425" width="1.6" height="1.4" fill="#d83030"/>
<rect x="896.7" y="499.8" width="2.6" height="2.2" fill="#222"/><rect x="897.6" y="487.7" width="2.6" height="2.2" fill="#d83030"/>
<text x="771.0" y="417.0" class="s" font-size="5.4" fill="#111">x 10</text>
<text x="768.5" y="431.0" class="s" font-size="6.075" fill="#111">5</text>
<text x="768.5" y="469.0" class="s" font-size="6.075" fill="#111">0</text>
<text x="768.5" y="507.0" class="s" font-size="5.4" fill="#111">-5</text>
<text x="780.5" y="506.5" class="s" font-size="6.075" fill="#111">0</text>
<text x="873.0" y="506.5" class="s" font-size="6.075" fill="#111">5</text>
<text x="901.0" y="500.5" class="s" font-size="5.4" fill="#111">x 10</text>
<rect x="985.2" y="388.3" width="116.2" height="124.7" fill="none" stroke="#3d4346" stroke-width="1.3"/>
<rect x="985.2" y="406.2" width="116.2" height="84.3" fill="none" stroke="#3d4346" stroke-width="1.8"/>
<path d="M993.6 406.2V490.5" stroke="#6d777b" stroke-width="0.9"/>
<path d="M1058.8 406.2V490.5" stroke="#6d777b" stroke-width="0.9"/>
<path d="M985.2 442.0H1101.4" stroke="#6d777b" stroke-width="0.9"/>
<path d="M993.6 483.6 C993.7 482.3,993.9 478.3,994.2 476.0 C994.5 473.7,994.9 471.7,995.4 470.0 C995.9 468.3,997.1 466.7,997.5 466.0" fill="none" stroke="#1a1a1a" stroke-width="1.0" stroke-linejoin="round"/>
<path d="M997.50 466.00 L997.75 466.46 L998.00 466.74 L998.25 466.68 L998.50 466.25 L998.75 465.55 L999.00 464.78 L999.25 464.17 L999.50 463.92 L999.75 464.07 L1000.00 464.55 L1000.25 465.15 L1000.50 465.62 L1000.75 465.74 L1001.00 465.42 L1001.25 464.71 L1001.50 463.82 L1001.75 463.01 L1002.00 462.55 L1002.25 462.56 L1002.50 463.02 L1002.75 463.72 L1003.00 464.39 L1003.25 464.73 L1003.50 464.58 L1003.75 463.94 L1004.00 462.97 L1004.25 461.98 L1004.50 461.27 L1004.75 461.08 L1005.00 461.44 L1005.25 462.22 L1005.50 463.09 L1005.75 463.72 L1006.00 463.84 L1006.25 463.35 L1006.50 462.39 L1006.75 461.26 L1007.00 460.32 L1007.25 459.89 L1007.50 460.10 L1007.75 460.87 L1008.00 461.90 L1008.25 462.80 L1008.50 463.21 L1008.75 462.94 L1009.00 462.03 L1009.25 460.77 L1009.50 459.57 L1009.75 458.82 L1010.00 458.79 L1010.25 459.46 L1010.50 460.57 L1010.75 461.72 L1011.00 462.46 L1011.25 462.47 L1011.50 461.72 L1011.75 460.41 L1012.00 458.98 L1012.25 457.90 L1012.50 457.54 L1012.75 458.01 L1013.00 459.13 L1013.25 460.47 L1013.50 461.54 L1013.75 461.91 L1014.00 461.41 L1014.25 460.16 L1014.50 458.56 L1014.75 457.16 L1015.00 456.42 L1015.25 456.57 L1015.50 457.59 L1015.75 459.13 L1016.00 460.62 L1016.25 461.50 L1016.50 461.39 L1016.75 460.26 L1017.00 458.44 L1017.25 456.56 L1017.50 455.25 L1017.75 455.00 L1018.00 455.91 L1018.25 457.68 L1018.50 459.67 L1018.75 461.15 L1019.00 461.53 L1019.25 460.61 L1019.50 458.66 L1019.75 456.31 L1020.00 454.37 L1020.25 453.54 L1020.50 454.13 L1020.75 455.94 L1021.00 458.34 L1021.25 460.46 L1021.50 461.50 L1021.75 461.02 L1022.00 459.13 L1022.25 456.44 L1022.50 453.87 L1022.75 452.32 L1023.00 452.35 L1023.25 453.98 L1023.50 456.64 L1023.75 459.37 L1024.00 461.18 L1024.25 461.32 L1024.50 459.74 L1024.75 456.98 L1025.00 454.00 L1025.25 451.84 L1025.50 451.25 L1025.75 452.44 L1026.00 454.96 L1026.25 457.92 L1026.50 460.24 L1026.75 461.10 L1027.00 460.17 L1027.25 457.76 L1027.50 454.70 L1027.75 452.07 L1028.00 450.78 L1028.25 451.28 L1028.50 453.38 L1028.75 456.32 L1029.00 459.06 L1029.25 460.59 L1029.50 460.37 L1029.75 458.45 L1030.00 455.50 L1030.25 452.54 L1030.50 450.61 L1030.75 450.37 L1031.00 451.91 L1031.25 454.67 L1031.50 457.65 L1031.75 459.79 L1032.00 460.31 L1032.25 459.00 L1032.50 456.33 L1032.75 453.20 L1033.00 450.72 L1033.25 449.90 L1033.50 450.88 L1033.75 453.24 L1034.00 456.10 L1034.25 458.43 L1034.50 459.45 L1034.75 458.85 L1035.00 456.93 L1035.25 454.40 L1035.50 452.18 L1035.75 451.02 L1036.00 451.25 L1036.25 452.73 L1036.50 454.86 L1036.75 456.87 L1037.00 458.06 L1037.25 458.06 L1037.50 456.96 L1037.75 455.18 L1038.00 453.41 L1038.25 452.34 L1038.50 452.27 L1038.75 453.04 L1039.00 454.22 L1039.25 455.30 L1039.50 455.88 L1039.75 455.88 L1040.00 455.42 L1040.25 454.84 L1040.50 454.43 L1040.75 454.34 L1041.00 454.50" fill="none" stroke="#1a1a1a" stroke-width="0.9" stroke-linejoin="round"/>
<path d="M1041.0 454.5 C1042.2 454.2,1045.7 453.4,1048.0 452.5 C1050.3 451.6,1052.7 450.8,1055.0 449.0 C1057.3 447.2,1059.8 445.0,1062.0 442.0 C1064.2 439.0,1066.2 434.7,1068.0 431.0 C1069.8 427.3,1071.5 423.2,1073.0 420.0 C1074.5 416.8,1076.3 413.3,1077.0 412.0" fill="none" stroke="#1a1a1a" stroke-width="1.0" stroke-linejoin="round"/>
<text x="1043.3" y="401.7" text-anchor="middle" class="v" font-size="13.5" textLength="82.0" lengthAdjust="spacingAndGlyphs">Bankers Share</text>
<text x="1043.3" y="502.0" text-anchor="middle" class="s" font-size="12">Years</text>
<polygon points="976.9,404.4 984.7,409.8 976.1,408.6" fill="#e01818"/>
<polygon points="977.3,404.0 979.7,403.4 984.7,409.8 975.9,408.2" fill="#e01818"/>
<polygon points="975.7,446.0 983.7,448.8 975.7,451.6" fill="#e01818"/>
<polygon points="975.7,475.0 983.7,477.8 975.7,480.6" fill="#12a012"/>
<polygon points="975.7,503.7 983.7,506.5 975.7,509.3" fill="#1818e0"/>
<polygon points="1109.3,404.0 1106.9,403.4 1101.9,409.8 1110.7,408.2" fill="#12a012"/>
<polygon points="1110.9,416.7 1102.9,419.5 1110.9,422.3" fill="#e018e0"/>
<polygon points="1110.9,446.0 1102.9,448.8 1110.9,451.6" fill="#18d8d8"/>
<polygon points="1110.9,475.0 1102.9,477.8 1110.9,480.6" fill="#e8a018"/>
<polygon points="1110.9,503.7 1102.9,506.5 1110.9,509.3" fill="#9820d8"/>
<polygon points="988.2,522.5 991.0,514.5 993.8,522.5" fill="#0a0a0a"/>
<polygon points="1003.3,522.5 1006.1,514.5 1008.9,522.5" fill="#e01818"/>
<polygon points="1018.1,522.5 1020.9,514.5 1023.7,522.5" fill="#12a012"/>
<polygon points="1032.9,522.5 1035.7,514.5 1038.5,522.5" fill="#1818e0"/>
<polygon points="1047.8,522.5 1050.6,514.5 1053.4,522.5" fill="#e018e0"/>
<polygon points="1062.6,522.5 1065.4,514.5 1068.2,522.5" fill="#18d8d8"/>
<polygon points="1077.4,522.5 1080.2,514.5 1083.0,522.5" fill="#e8a018"/>
<polygon points="1092.2,522.5 1095.0,514.5 1097.8,522.5" fill="#9820d8"/>
<polygon points="978.2,514.0 985.2,513.0 982.2,519.0" fill="#e01818"/><polygon points="982.2,520.0 985.7,513.5 986.2,520.0" fill="#000"/>
<polygon points="1108.4,514.0 1101.4,513.0 1104.4,519.0" fill="#12a012"/><polygon points="1104.4,520.0 1100.9,513.5 1100.4,520.0" fill="#000"/>
<text x="986.5" y="411.5" class="s" font-size="4.32" fill="#111">x 0.1</text>
<text x="986.0" y="448.5" class="s" font-size="5.4" fill="#111">5</text>
<text x="986.0" y="486.5" class="s" font-size="5.4" fill="#111">0</text>
<text x="994.5" y="486.5" class="s" font-size="5.4" fill="#111">0</text>
<text x="1059.5" y="486.5" class="s" font-size="5.4" fill="#111">5</text>
<text x="1078.0" y="482.0" class="s" font-size="4.32" fill="#111">x 10</text>
<rect x="1208.3" y="503.3" width="509.0" height="428.7" fill="none" stroke="#454c50" stroke-width="1.25"/>
<rect x="1254.3" y="559.3" width="462.0" height="280.0" fill="none" stroke="#41474a" stroke-width="1.4"/>
<path d="M1286.7 559.3V839.3" stroke="#6d777b" stroke-width="1"/>
<path d="M1544.3 559.3V839.3" stroke="#6d777b" stroke-width="1"/>
<path d="M1254.3 580H1716.3" stroke="#6d777b" stroke-width="1"/>
<path d="M1254.3 697.7H1716.3" stroke="#6d777b" stroke-width="1"/>
<path d="M1254.3 814.3H1716.3" stroke="#6d777b" stroke-width="1"/>
<text x="1463" y="542.3" text-anchor="middle" class="v" font-size="45" fill="#0c0c0c" textLength="266" lengthAdjust="spacingAndGlyphs">Income shares</text>
<text x="1463" y="876" text-anchor="middle" class="s" font-size="37" fill="#111" textLength="85" lengthAdjust="spacingAndGlyphs">Years</text>
<text transform="translate(1243.3 722) rotate(-90)" text-anchor="middle" class="s" font-size="37" fill="#111" textLength="270" lengthAdjust="spacingAndGlyphs">Fractions of GDP</text>
<text x="1258.3" y="580" class="s" font-size="15.5" fill="#111" textLength="45" lengthAdjust="spacingAndGlyphs">x 0.1</text>
<text x="1254.8" y="601.3" class="s" font-size="15.5" fill="#111" textLength="21.5" lengthAdjust="spacingAndGlyphs">10</text>
<text x="1255" y="721.5" class="s" font-size="17.5" fill="#111">5</text>
<text x="1254.5" y="835" class="s" font-size="17.5" fill="#111">0</text>
<text x="1288" y="828" class="s" font-size="17.5" fill="#111">0</text>
<text x="1545" y="831" class="s" font-size="17.5" fill="#111">5</text>
<text x="1624" y="815" class="s" font-size="15.5" fill="#111" textLength="39" lengthAdjust="spacingAndGlyphs">x 10</text>
<path d="M1286.7 583.0 C1286.9 585.8,1287.5 593.0,1288.0 600.0 C1288.5 607.0,1288.8 618.2,1289.5 625.0 C1290.2 631.8,1291.1 637.1,1292.0 641.0 C1292.9 644.9,1294.1 647.5,1295.0 648.5 C1295.9 649.5,1296.8 648.4,1297.5 647.0 C1298.2 645.6,1299.2 641.2,1299.5 640.0" fill="none" stroke="#23282a" stroke-width="1.25" stroke-linejoin="round"/>
<path d="M1299.50 639.93 L1300.00 640.29 L1300.50 640.83 L1301.00 641.51 L1301.50 642.30 L1302.00 643.14 L1302.50 644.00 L1303.00 644.81 L1303.50 645.54 L1304.00 646.16 L1304.50 646.63 L1305.00 646.94 L1305.50 647.09 L1306.00 647.07 L1306.50 646.93 L1307.00 646.65 L1307.50 646.26 L1308.00 645.79 L1308.50 645.27 L1309.00 644.75 L1309.50 644.25 L1310.00 643.80 L1310.50 643.44 L1311.00 643.18 L1311.50 643.05 L1312.00 643.04 L1312.50 643.16 L1313.00 643.40 L1313.50 643.74 L1314.00 644.16 L1314.50 644.64 L1315.00 645.15 L1315.50 645.65 L1316.00 646.15 L1316.50 646.60 L1317.00 647.00 L1317.50 647.32 L1318.00 647.54 L1318.50 647.65 L1319.00 647.65 L1319.50 647.55 L1320.00 647.35 L1320.50 647.06 L1321.00 646.71 L1321.50 646.31 L1322.00 645.90 L1322.50 645.51 L1323.00 645.15 L1323.50 644.85 L1324.00 644.63 L1324.50 644.50 L1325.00 644.48 L1325.50 644.57 L1326.00 644.76 L1326.50 645.04 L1327.00 645.41 L1327.50 645.83 L1328.00 646.30 L1328.50 646.77 L1329.00 647.24 L1329.50 647.66 L1330.00 648.02 L1330.50 648.31 L1331.00 648.50 L1331.50 648.59 L1332.00 648.57 L1332.50 648.46 L1333.00 648.25 L1333.50 647.97 L1334.00 647.63 L1334.50 647.25 L1335.00 646.87 L1335.50 646.50 L1336.00 646.17 L1336.50 645.91 L1337.00 645.72 L1337.50 645.62 L1338.00 645.62 L1338.50 645.73 L1339.00 645.93 L1339.50 646.22 L1340.00 646.58 L1340.50 646.96 L1341.00 647.38 L1341.50 647.81 L1342.00 648.22 L1342.50 648.60 L1343.00 648.91 L1343.50 649.15 L1344.00 649.30 L1344.50 649.35 L1345.00 649.29 L1345.50 649.14 L1346.00 648.90 L1346.50 648.58 L1347.00 648.20 L1347.50 647.80 L1348.00 647.38 L1348.50 646.98 L1349.00 646.62 L1349.50 646.33 L1350.00 646.12 L1350.50 646.00 L1351.00 645.99 L1351.50 646.08 L1352.00 646.27 L1352.50 646.56 L1353.00 646.92 L1353.50 647.33 L1354.00 647.78 L1354.50 648.24 L1355.00 648.67 L1355.50 649.06 L1356.00 649.38 L1356.50 649.61 L1357.00 649.75 L1357.50 649.77 L1358.00 649.69 L1358.50 649.51 L1359.00 649.23 L1359.50 648.88 L1360.00 648.47 L1360.50 648.04 L1361.00 647.60 L1361.50 647.18 L1362.00 646.81 L1362.50 646.52 L1363.00 646.31 L1363.50 646.21 L1364.00 646.21 L1364.50 646.33 L1365.00 646.56 L1365.50 646.88 L1366.00 647.27 L1366.50 647.72 L1367.00 648.20 L1367.50 648.67 L1368.00 649.12 L1368.50 649.52 L1369.00 649.84 L1369.50 650.07 L1370.00 650.19 L1370.50 650.20 L1371.00 650.09 L1371.50 649.87 L1372.00 649.56 L1372.50 649.17 L1373.00 648.73 L1373.50 648.27 L1374.00 647.80 L1374.50 647.37 L1375.00 646.99 L1375.50 646.70 L1376.00 646.50 L1376.50 646.41 L1377.00 646.45 L1377.50 646.59 L1378.00 646.85 L1378.50 647.21 L1379.00 647.64 L1379.50 648.12 L1380.00 648.62 L1380.50 649.12 L1381.00 649.59 L1381.50 649.99 L1382.00 650.31 L1382.50 650.53 L1383.00 650.63 L1383.50 650.61 L1384.00 650.47 L1384.50 650.22 L1385.00 649.87 L1385.50 649.45 L1386.00 648.98 L1386.50 648.49 L1387.00 648.00 L1387.50 647.55 L1388.00 647.17 L1388.50 646.88 L1389.00 646.69 L1389.50 646.63 L1390.00 646.68 L1390.50 646.86 L1391.00 647.16 L1391.50 647.55 L1392.00 648.01 L1392.50 648.52 L1393.00 649.06 L1393.50 649.58 L1394.00 650.06 L1394.50 650.47 L1395.00 650.78 L1395.50 650.99 L1396.00 651.07 L1396.50 651.02 L1397.00 650.85 L1397.50 650.56 L1398.00 650.18 L1398.50 649.72 L1399.00 649.22 L1399.50 648.70 L1400.00 648.19 L1400.50 647.73 L1401.00 647.35 L1401.50 647.06 L1402.00 646.88 L1402.50 646.84 L1403.00 646.92 L1403.50 647.14 L1404.00 647.47 L1404.50 647.89 L1405.00 648.40 L1405.50 648.94 L1406.00 649.50 L1406.50 650.05 L1407.00 650.54 L1407.50 650.95 L1408.00 651.26 L1408.50 651.45 L1409.00 651.51 L1409.50 651.44 L1410.00 651.23 L1410.50 650.90 L1411.00 650.48 L1411.50 649.98 L1412.00 649.44 L1412.50 648.89 L1413.00 648.36 L1413.50 647.89 L1414.00 647.50 L1414.50 647.22 L1415.00 647.06 L1415.50 647.04 L1416.00 647.16 L1416.50 647.41 L1417.00 647.78 L1417.50 648.25 L1418.00 648.79 L1418.50 649.37 L1419.00 649.96 L1419.50 650.53 L1420.00 651.03 L1420.50 651.45 L1421.00 651.75 L1421.50 651.93 L1422.00 651.96 L1422.50 651.85 L1423.00 651.60 L1423.50 651.24 L1424.00 650.77 L1424.50 650.23 L1425.00 649.66 L1425.50 649.08 L1426.00 648.53 L1426.50 648.04 L1427.00 647.65 L1427.50 647.38 L1428.00 647.24 L1428.50 647.25 L1429.00 647.40 L1429.50 647.69 L1430.00 648.10 L1430.50 648.61 L1431.00 649.20 L1431.50 649.82 L1432.00 650.44 L1432.50 651.02 L1433.00 651.53 L1433.50 651.95 L1434.00 652.24 L1434.50 652.40 L1435.00 652.40 L1435.50 652.25 L1436.00 651.97 L1436.50 651.56 L1437.00 651.05 L1437.50 650.47 L1438.00 649.86 L1438.50 649.25 L1439.00 648.68 L1439.50 648.19 L1440.00 647.80 L1440.50 647.56 L1441.00 647.46 L1441.50 647.52 L1442.00 647.72 L1442.50 648.06 L1443.00 648.51 L1443.50 649.05 L1444.00 649.65 L1444.50 650.26 L1445.00 650.86 L1445.50 651.40 L1446.00 651.87 L1446.50 652.23 L1447.00 652.46 L1447.50 652.56 L1448.00 652.52 L1448.50 652.34 L1449.00 652.04 L1449.50 651.63 L1450.00 651.15 L1450.50 650.62 L1451.00 650.08 L1451.50 649.56 L1452.00 649.09 L1452.50 648.69 L1453.00 648.40 L1453.50 648.22 L1454.00 648.17 L1454.50 648.25 L1455.00 648.45 L1455.50 648.76 L1456.00 649.16 L1456.50 649.63 L1457.00 650.14 L1457.50 650.66 L1458.00 651.16 L1458.50 651.61 L1459.00 651.99 L1459.50 652.27 L1460.00 652.44 L1460.50 652.48 L1461.00 652.40 L1461.50 652.21 L1462.00 651.94 L1462.50 651.60 L1463.00 651.21 L1463.50 650.81 L1464.00 650.41 L1464.50 650.05 L1465.00 649.74 L1465.50 649.50 L1466.00 649.34 L1466.50 649.27 L1467.00 649.29 L1467.50 649.40 L1468.00 649.58 L1468.50 649.82 L1469.00 650.11 L1469.50 650.42 L1470.00 650.73 L1470.50 651.03 L1471.00 651.30 L1471.50 651.53 L1472.00 651.71 L1472.50 651.82 L1473.00 651.87 L1473.50 651.87 L1474.00 651.81 L1474.50 651.71 L1475.00 651.57 L1475.50 651.39 L1476.00 651.21 L1476.50 651.04 L1477.00 650.90 L1477.50 650.79 L1478.00 650.72 L1478.50 650.68 L1479.00 650.69 L1479.50 650.72 L1480.00 650.77 L1480.50 650.84 L1481.00 650.90 L1481.50 650.96 L1482.00 651.00" fill="none" stroke="#23282a" stroke-width="1.25" stroke-linejoin="round"/>
<path d="M1482.0 651.0 C1485.0 651.1,1492.0 651.1,1500.0 651.5 C1508.0 651.9,1520.0 652.7,1530.0 653.5 C1540.0 654.3,1550.0 655.5,1560.0 656.5 C1570.0 657.5,1582.5 658.9,1590.0 659.5 C1597.5 660.1,1600.3 660.2,1605.0 660.3 C1609.7 660.3,1615.8 659.9,1618.0 659.8" fill="none" stroke="#23282a" stroke-width="1.25" stroke-linejoin="round"/>
<path d="M1286.8 811.0 C1287.0 807.5,1287.5 796.8,1288.0 790.0 C1288.5 783.2,1289.2 775.8,1290.0 770.0 C1290.8 764.2,1291.9 758.4,1293.0 755.0 C1294.1 751.6,1295.5 750.0,1296.5 749.5 C1297.5 749.0,1298.2 750.2,1299.0 752.0 C1299.8 753.8,1300.7 758.7,1301.0 760.0" fill="none" stroke="#d84848" stroke-width="1.25" stroke-linejoin="round"/>
<path d="M1301.00 760.57 L1301.50 762.15 L1302.00 763.43 L1302.50 764.35 L1303.00 764.86 L1303.50 764.96 L1304.00 764.67 L1304.50 764.00 L1305.00 763.03 L1305.50 761.83 L1306.00 760.47 L1306.50 759.06 L1307.00 757.67 L1307.50 756.40 L1308.00 755.31 L1308.50 754.42 L1309.00 753.79 L1309.50 753.46 L1310.00 753.44 L1310.50 753.73 L1311.00 754.29 L1311.50 755.09 L1312.00 756.08 L1312.50 757.18 L1313.00 758.34 L1313.50 759.48 L1314.00 760.54 L1314.50 761.46 L1315.00 762.19 L1315.50 762.69 L1316.00 762.96 L1316.50 762.98 L1317.00 762.76 L1317.50 762.32 L1318.00 761.71 L1318.50 760.99 L1319.00 760.16 L1319.50 759.27 L1320.00 758.38 L1320.50 757.54 L1321.00 756.80 L1321.50 756.20 L1322.00 755.78 L1322.50 755.56 L1323.00 755.55 L1323.50 755.75 L1324.00 756.14 L1324.50 756.71 L1325.00 757.41 L1325.50 758.20 L1326.00 759.05 L1326.50 759.88 L1327.00 760.67 L1327.50 761.36 L1328.00 761.92 L1328.50 762.31 L1329.00 762.51 L1329.50 762.52 L1330.00 762.34 L1330.50 761.98 L1331.00 761.47 L1331.50 760.84 L1332.00 760.13 L1332.50 759.38 L1333.00 758.64 L1333.50 757.95 L1334.00 757.35 L1334.50 756.88 L1335.00 756.56 L1335.50 756.42 L1336.00 756.45 L1336.50 756.65 L1337.00 757.02 L1337.50 757.52 L1338.00 758.12 L1338.50 758.80 L1339.00 759.50 L1339.50 760.19 L1340.00 760.83 L1340.50 761.39 L1341.00 761.83 L1341.50 762.14 L1342.00 762.29 L1342.50 762.28 L1343.00 762.10 L1343.50 761.77 L1344.00 761.29 L1344.50 760.71 L1345.00 760.05 L1345.50 759.36 L1346.00 758.67 L1346.50 758.02 L1347.00 757.45 L1347.50 757.00 L1348.00 756.69 L1348.50 756.54 L1349.00 756.56 L1349.50 756.75 L1350.00 757.10 L1350.50 757.59 L1351.00 758.19 L1351.50 758.86 L1352.00 759.57 L1352.50 760.27 L1353.00 760.92 L1353.50 761.48 L1354.00 761.93 L1354.50 762.22 L1355.00 762.35 L1355.50 762.30 L1356.00 762.07 L1356.50 761.69 L1357.00 761.17 L1357.50 760.54 L1358.00 759.83 L1358.50 759.10 L1359.00 758.37 L1359.50 757.71 L1360.00 757.13 L1360.50 756.68 L1361.00 756.39 L1361.50 756.27 L1362.00 756.33 L1362.50 756.57 L1363.00 756.97 L1363.50 757.51 L1364.00 758.16 L1364.50 758.87 L1365.00 759.62 L1365.50 760.35 L1366.00 761.02 L1366.50 761.59 L1367.00 762.02 L1367.50 762.30 L1368.00 762.39 L1368.50 762.30 L1369.00 762.04 L1369.50 761.60 L1370.00 761.03 L1370.50 760.35 L1371.00 759.60 L1371.50 758.82 L1372.00 758.07 L1372.50 757.39 L1373.00 756.81 L1373.50 756.37 L1374.00 756.10 L1374.50 756.01 L1375.00 756.11 L1375.50 756.40 L1376.00 756.85 L1376.50 757.44 L1377.00 758.14 L1377.50 758.90 L1378.00 759.68 L1378.50 760.44 L1379.00 761.12 L1379.50 761.70 L1380.00 762.12 L1380.50 762.37 L1381.00 762.43 L1381.50 762.30 L1382.00 761.98 L1382.50 761.50 L1383.00 760.87 L1383.50 760.14 L1384.00 759.35 L1384.50 758.54 L1385.00 757.76 L1385.50 757.06 L1386.00 756.48 L1386.50 756.06 L1387.00 755.81 L1387.50 755.76 L1388.00 755.90 L1388.50 756.24 L1389.00 756.74 L1389.50 757.39 L1390.00 758.14 L1390.50 758.94 L1391.00 759.76 L1391.50 760.54 L1392.00 761.24 L1392.50 761.81 L1393.00 762.22 L1393.50 762.44 L1394.00 762.46 L1394.50 762.29 L1395.00 761.92 L1395.50 761.38 L1396.00 760.70 L1396.50 759.91 L1397.00 759.08 L1397.50 758.24 L1398.00 757.44 L1398.50 756.73 L1399.00 756.15 L1399.50 755.74 L1400.00 755.53 L1400.50 755.49 L1401.00 755.67 L1401.50 756.05 L1402.00 756.62 L1402.50 757.34 L1403.00 758.18 L1403.50 759.09 L1404.00 760.02 L1404.50 760.91 L1405.00 761.70 L1405.50 762.36 L1406.00 762.83 L1406.50 763.09 L1407.00 763.11 L1407.50 762.90 L1408.00 762.46 L1408.50 761.81 L1409.00 760.99 L1409.50 760.04 L1410.00 759.02 L1410.50 758.00 L1411.00 757.02 L1411.50 756.16 L1412.00 755.46 L1412.50 754.98 L1413.00 754.73 L1413.50 754.75 L1414.00 755.04 L1414.50 755.58 L1415.00 756.35 L1415.50 757.31 L1416.00 758.39 L1416.50 759.55 L1417.00 760.71 L1417.50 761.80 L1418.00 762.76 L1418.50 763.53 L1419.00 764.06 L1419.50 764.31 L1420.00 764.27 L1420.50 763.94 L1421.00 763.33 L1421.50 762.47 L1422.00 761.41 L1422.50 760.21 L1423.00 758.95 L1423.50 757.70 L1424.00 756.52 L1424.50 755.50 L1425.00 754.70 L1425.50 754.17 L1426.00 753.94 L1426.50 754.04 L1427.00 754.46 L1427.50 755.18 L1428.00 756.17 L1428.50 757.36 L1429.00 758.70 L1429.50 760.10 L1430.00 761.49 L1430.50 762.74 L1431.00 763.78 L1431.50 764.57 L1432.00 765.05 L1432.50 765.20 L1433.00 765.02 L1433.50 764.52 L1434.00 763.74 L1434.50 762.72 L1435.00 761.53 L1435.50 760.25 L1436.00 758.94 L1436.50 757.70 L1437.00 756.58 L1437.50 755.66 L1438.00 754.98 L1438.50 754.59 L1439.00 754.51 L1439.50 754.74 L1440.00 755.25 L1440.50 756.02 L1441.00 757.01 L1441.50 758.14 L1442.00 759.36 L1442.50 760.58 L1443.00 761.75 L1443.50 762.79 L1444.00 763.64 L1444.50 764.25 L1445.00 764.61 L1445.50 764.68 L1446.00 764.46 L1446.50 763.99 L1447.00 763.28 L1447.50 762.38 L1448.00 761.35 L1448.50 760.26 L1449.00 759.16 L1449.50 758.13 L1450.00 757.22 L1450.50 756.48 L1451.00 755.97 L1451.50 755.70 L1452.00 755.69 L1452.50 755.93 L1453.00 756.40 L1453.50 757.06 L1454.00 757.87 L1454.50 758.77 L1455.00 759.72 L1455.50 760.65 L1456.00 761.50 L1456.50 762.23 L1457.00 762.80 L1457.50 763.17 L1458.00 763.34 L1458.50 763.29 L1459.00 763.04 L1459.50 762.61 L1460.00 762.02 L1460.50 761.32 L1461.00 760.55 L1461.50 759.76 L1462.00 758.99 L1462.50 758.30 L1463.00 757.70 L1463.50 757.25 L1464.00 756.95 L1464.50 756.83 L1465.00 756.87 L1465.50 757.07 L1466.00 757.41 L1466.50 757.87 L1467.00 758.40 L1467.50 758.98 L1468.00 759.57 L1468.50 760.13 L1469.00 760.63 L1469.50 761.03 L1470.00 761.33 L1470.50 761.50 L1471.00 761.53 L1471.50 761.44 L1472.00 761.24 L1472.50 760.94 L1473.00 760.57 L1473.50 760.15 L1474.00 759.71 L1474.50 759.28 L1475.00 758.89 L1475.50 758.54 L1476.00 758.27 L1476.50 758.08 L1477.00 757.97 L1477.50 757.95 L1478.00 758.00 L1478.50 758.13 L1479.00 758.30 L1479.50 758.51 L1480.00 758.73 L1480.50 758.95 L1481.00 759.16 L1481.50 759.33 L1482.00 759.46 L1482.50 759.54 L1483.00 759.57 L1483.50 759.55 L1484.00 759.50 L1484.50 759.41 L1485.00 759.30 L1485.50 759.19 L1486.00 759.10 L1486.50 759.03 L1487.00 759.00" fill="none" stroke="#d84848" stroke-width="1.25" stroke-linejoin="round"/>
<path d="M1487.0 759.0 C1490.8 758.9,1499.5 758.7,1510.0 758.6 C1520.5 758.5,1538.3 758.4,1550.0 758.6 C1561.7 758.8,1572.5 759.1,1580.0 759.8 C1587.5 760.5,1590.3 761.5,1595.0 763.0 C1599.7 764.5,1604.2 766.8,1608.0 768.5 C1611.8 770.2,1616.3 772.2,1618.0 773.0" fill="none" stroke="#d84848" stroke-width="1.25" stroke-linejoin="round"/>
<path d="M1287.5 815.0 C1288.1 814.5,1289.6 813.2,1291.0 812.0 C1292.4 810.8,1294.0 809.1,1296.0 808.0 C1298.0 806.9,1300.7 806.0,1303.0 805.5 C1305.3 805.0,1308.8 805.1,1310.0 805.0" fill="none" stroke="#2e9a3a" stroke-width="1.25" stroke-linejoin="round"/>
<path d="M1310.00 805.36 L1310.50 805.21 L1311.00 805.04 L1311.50 804.87 L1312.00 804.69 L1312.50 804.53 L1313.00 804.37 L1313.50 804.25 L1314.00 804.16 L1314.50 804.10 L1315.00 804.08 L1315.50 804.11 L1316.00 804.17 L1316.50 804.27 L1317.00 804.39 L1317.50 804.53 L1318.00 804.68 L1318.50 804.83 L1319.00 804.97 L1319.50 805.09 L1320.00 805.18 L1320.50 805.23 L1321.00 805.23 L1321.50 805.19 L1322.00 805.11 L1322.50 804.97 L1323.00 804.81 L1323.50 804.61 L1324.00 804.39 L1324.50 804.16 L1325.00 803.93 L1325.50 803.72 L1326.00 803.54 L1326.50 803.39 L1327.00 803.29 L1327.50 803.23 L1328.00 803.23 L1328.50 803.28 L1329.00 803.38 L1329.50 803.53 L1330.00 803.70 L1330.50 803.90 L1331.00 804.10 L1331.50 804.30 L1332.00 804.48 L1332.50 804.63 L1333.00 804.74 L1333.50 804.80 L1334.00 804.80 L1334.50 804.74 L1335.00 804.62 L1335.50 804.45 L1336.00 804.23 L1336.50 803.98 L1337.00 803.71 L1337.50 803.43 L1338.00 803.16 L1338.50 802.90 L1339.00 802.69 L1339.50 802.52 L1340.00 802.42 L1340.50 802.39 L1341.00 802.42 L1341.50 802.52 L1342.00 802.68 L1342.50 802.88 L1343.00 803.12 L1343.50 803.38 L1344.00 803.64 L1344.50 803.89 L1345.00 804.11 L1345.50 804.29 L1346.00 804.42 L1346.50 804.48 L1347.00 804.48 L1347.50 804.41 L1348.00 804.27 L1348.50 804.08 L1349.00 803.83 L1349.50 803.56 L1350.00 803.26 L1350.50 802.96 L1351.00 802.68 L1351.50 802.42 L1352.00 802.21 L1352.50 802.06 L1353.00 801.98 L1353.50 801.96 L1354.00 802.02 L1354.50 802.14 L1355.00 802.32 L1355.50 802.55 L1356.00 802.82 L1356.50 803.11 L1357.00 803.39 L1357.50 803.66 L1358.00 803.90 L1358.50 804.09 L1359.00 804.21 L1359.50 804.27 L1360.00 804.25 L1360.50 804.16 L1361.00 804.00 L1361.50 803.78 L1362.00 803.50 L1362.50 803.20 L1363.00 802.87 L1363.50 802.55 L1364.00 802.25 L1364.50 801.98 L1365.00 801.76 L1365.50 801.61 L1366.00 801.54 L1366.50 801.54 L1367.00 801.61 L1367.50 801.76 L1368.00 801.98 L1368.50 802.24 L1369.00 802.54 L1369.50 802.85 L1370.00 803.16 L1370.50 803.45 L1371.00 803.69 L1371.50 803.89 L1372.00 804.01 L1372.50 804.06 L1373.00 804.02 L1373.50 803.91 L1374.00 803.72 L1374.50 803.47 L1375.00 803.16 L1375.50 802.83 L1376.00 802.48 L1376.50 802.13 L1377.00 801.81 L1377.50 801.53 L1378.00 801.31 L1378.50 801.17 L1379.00 801.10 L1379.50 801.12 L1380.00 801.22 L1380.50 801.40 L1381.00 801.64 L1381.50 801.93 L1382.00 802.26 L1382.50 802.60 L1383.00 802.93 L1383.50 803.24 L1384.00 803.50 L1384.50 803.69 L1385.00 803.81 L1385.50 803.84 L1386.00 803.79 L1386.50 803.65 L1387.00 803.43 L1387.50 803.15 L1388.00 802.81 L1388.50 802.45 L1389.00 802.07 L1389.50 801.70 L1390.00 801.36 L1390.50 801.08 L1391.00 800.86 L1391.50 800.72 L1392.00 800.67 L1392.50 800.71 L1393.00 800.83 L1393.50 801.04 L1394.00 801.32 L1394.50 801.64 L1395.00 802.00 L1395.50 802.36 L1396.00 802.72 L1396.50 803.04 L1397.00 803.30 L1397.50 803.49 L1398.00 803.60 L1398.50 803.62 L1399.00 803.55 L1399.50 803.38 L1400.00 803.13 L1400.50 802.83 L1401.00 802.47 L1401.50 802.07 L1402.00 801.66 L1402.50 801.26 L1403.00 800.89 L1403.50 800.58 L1404.00 800.34 L1404.50 800.20 L1405.00 800.16 L1405.50 800.22 L1406.00 800.38 L1406.50 800.64 L1407.00 800.97 L1407.50 801.37 L1408.00 801.81 L1408.50 802.25 L1409.00 802.68 L1409.50 803.07 L1410.00 803.40 L1410.50 803.63 L1411.00 803.76 L1411.50 803.78 L1412.00 803.68 L1412.50 803.47 L1413.00 803.15 L1413.50 802.75 L1414.00 802.28 L1414.50 801.78 L1415.00 801.26 L1415.50 800.77 L1416.00 800.32 L1416.50 799.96 L1417.00 799.69 L1417.50 799.54 L1418.00 799.52 L1418.50 799.62 L1419.00 799.86 L1419.50 800.20 L1420.00 800.64 L1420.50 801.14 L1421.00 801.69 L1421.50 802.24 L1422.00 802.76 L1422.50 803.22 L1423.00 803.60 L1423.50 803.86 L1424.00 803.99 L1424.50 803.98 L1425.00 803.83 L1425.50 803.54 L1426.00 803.14 L1426.50 802.63 L1427.00 802.05 L1427.50 801.44 L1428.00 800.82 L1428.50 800.24 L1429.00 799.73 L1429.50 799.31 L1430.00 799.03 L1430.50 798.90 L1431.00 798.92 L1431.50 799.10 L1432.00 799.41 L1432.50 799.85 L1433.00 800.37 L1433.50 800.96 L1434.00 801.57 L1434.50 802.16 L1435.00 802.71 L1435.50 803.18 L1436.00 803.54 L1436.50 803.77 L1437.00 803.85 L1437.50 803.79 L1438.00 803.58 L1438.50 803.23 L1439.00 802.78 L1439.50 802.23 L1440.00 801.63 L1440.50 801.02 L1441.00 800.41 L1441.50 799.86 L1442.00 799.39 L1442.50 799.02 L1443.00 798.79 L1443.50 798.70 L1444.00 798.75 L1444.50 798.94 L1445.00 799.27 L1445.50 799.70 L1446.00 800.21 L1446.50 800.77 L1447.00 801.35 L1447.50 801.91 L1448.00 802.42 L1448.50 802.84 L1449.00 803.16 L1449.50 803.35 L1450.00 803.40 L1450.50 803.27 L1451.00 803.02 L1451.50 802.65 L1452.00 802.20 L1452.50 801.69 L1453.00 801.15 L1453.50 800.62 L1454.00 800.12 L1454.50 799.69 L1455.00 799.34 L1455.50 799.10 L1456.00 798.96 L1456.50 798.95 L1457.00 799.04 L1457.50 799.23 L1458.00 799.51 L1458.50 799.85 L1459.00 800.22 L1459.50 800.61 L1460.00 800.99 L1460.50 801.34 L1461.00 801.63 L1461.50 801.85 L1462.00 801.99 L1462.50 802.04 L1463.00 802.01 L1463.50 801.90 L1464.00 801.72 L1464.50 801.49 L1465.00 801.22 L1465.50 800.91 L1466.00 800.63 L1466.50 800.41 L1467.00 800.26 L1467.50 800.18 L1468.00 800.16 L1468.50 800.20 L1469.00 800.28 L1469.50 800.39 L1470.00 800.50" fill="none" stroke="#2e9a3a" stroke-width="1.25" stroke-linejoin="round"/>
<path d="M1470.0 800.5 C1475.0 800.2,1490.0 799.7,1500.0 799.0 C1510.0 798.3,1520.0 797.5,1530.0 796.5 C1540.0 795.5,1550.8 794.4,1560.0 793.0 C1569.2 791.6,1577.8 790.0,1585.0 788.0 C1592.2 786.0,1597.5 783.5,1603.0 781.0 C1608.5 778.5,1615.5 774.3,1618.0 773.0" fill="none" stroke="#2e9a3a" stroke-width="1.25" stroke-linejoin="round"/>
<rect x="1616.5" y="657.6" width="4.6" height="3.6" fill="none" stroke="#222" stroke-width="0.9"/>
<rect x="1616.5" y="771" width="4.6" height="3.6" fill="#b07a3a" stroke="#3a8a2a" stroke-width="0.9"/>
<polygon points="1201.3,699.9 1207.3,702.0 1201.3,704.1" fill="#e01818"/>
<polygon points="1201.3,795.9 1207.3,798.0 1201.3,800.1" fill="#12a012"/>
<polygon points="1201.3,890.9 1207.3,893.0 1201.3,895.1" fill="#1818e0"/>
<polygon points="1724.8,604.9 1718.8,607.0 1724.8,609.1" fill="#e018e0"/>
<polygon points="1724.8,699.9 1718.8,702.0 1724.8,704.1" fill="#18d8d8"/>
<polygon points="1724.8,795.9 1718.8,798.0 1724.8,800.1" fill="#e8a018"/>
<polygon points="1724.8,890.9 1718.8,893.0 1724.8,895.1" fill="#9820d8"/>
<polygon points="1708,566 1716,559.5 1714,566.5" fill="#12a012"/>
<polygon points="1203,560 1210.5,566 1204,566.5" fill="#e01818"/>
<polygon points="1219.6,939.5 1221.7,933.5 1223.8,939.5" fill="#0a0a0a"/>
<polygon points="1255.9,939.5 1258.0,933.5 1260.1,939.5" fill="#0a0a0a"/>
<polygon points="1314.6,939.5 1316.7,933.5 1318.8,939.5" fill="#e01818"/>
<polygon points="1372.9,939.5 1375.0,933.5 1377.1,939.5" fill="#12a012"/>
<polygon points="1431.2,939.5 1433.3,933.5 1435.4,939.5" fill="#1818e0"/>
<polygon points="1489.6,939.5 1491.7,933.5 1493.8,939.5" fill="#e018e0"/>
<polygon points="1547.9,939.5 1550.0,933.5 1552.1,939.5" fill="#18d8d8"/>
<polygon points="1606.2,939.5 1608.3,933.5 1610.4,939.5" fill="#e8a018"/>
<polygon points="1664.6,939.5 1666.7,933.5 1668.8,939.5" fill="#9820d8"/>
<polygon points="1694.6,939.5 1696.7,933.5 1698.8,939.5" fill="#0a0a0a"/>
<polygon points="1203,928 1210,925 1207,934" fill="#e01818"/><polygon points="1708.5,925.5 1717,929 1713,934" fill="#12a012"/>
<path d="M143.3 72.0 C150.1 72.5,163.3 73.6,171.0 75.4 C178.7 77.2,184.0 79.4,189.6 82.8 C195.2 86.2,201.1 91.1,204.4 95.7 C207.7 100.3,209.1 105.3,209.6 110.6 C210.1 115.8,209.3 121.7,207.2 127.2 C205.1 132.8,201.5 139.3,197.0 143.9 C192.5 148.5,186.0 151.9,180.4 155.0 C174.8 158.1,168.6 159.3,163.7 162.4 C158.8 165.5,154.4 169.2,150.7 173.5 C147.0 177.8,144.6 183.4,141.5 188.3 C138.4 193.2,135.6 199.1,132.2 203.1 C128.8 207.1,124.8 210.3,121.1 212.4 C117.4 214.5,114.0 215.8,110.0 215.7 C106.0 215.5,100.8 214.5,97.0 211.5 C93.2 208.5,89.5 203.3,86.9 197.6 C84.3 191.9,82.6 184.3,81.3 177.2 C80.0 170.1,79.5 162.1,79.1 155.0 C78.7 147.9,78.7 140.8,79.1 134.6 C79.5 128.4,79.8 123.9,81.3 118.0 C82.8 112.1,84.9 105.0,87.8 99.4 C90.7 93.8,94.3 88.6,98.9 84.6 C103.5 80.6,110.3 77.4,115.6 75.4 C120.8 73.4,125.8 73.2,130.4 72.6 C135.0 72.0,136.5 71.5,143.3 72.0Z" fill="#ffffff"/>
<rect x="72.3" y="543.3" width="329.5" height="329.7" rx="28" ry="28" fill="#ffffff"/>
<g clip-path="url(#shirtclip)">
<rect x="150" y="760" width="175" height="85" fill="url(#shirtg)"/>
<g filter="url(#b2)">
<path d="M160 800 L170 783 L186 776 L180 800 L172 826Z" fill="#b8b8b8"/>
<path d="M186 776 L203 770 L212 786 L222 798 L214 840 L196 840 L188 805Z" fill="#7a7a7a"/>
<path d="M212 786 C222 794,250 796,262 786 L270 800 L262 840 L222 840 Z" fill="#9e9e9e"/>
<path d="M224 800 L236 796 L246 806 L240 840 L228 840Z" fill="#c4c4c4"/>
<path d="M246 800 L256 796 L262 815 L258 840 L248 840Z" fill="#666"/>
<path d="M270 772 L288 778 L292 800 L286 835 L272 835 L276 800Z" fill="#6e6e6e"/>
<path d="M292 782 L304 790 L312 825 L296 830Z" fill="#8c8c8c"/>
<path d="M205 805 L214 802 L218 840 L208 840Z" fill="#555"/>
</g>
<g filter="url(#b05)" fill="none" stroke="#3c3c3c" stroke-width="0.9">
<path d="M186 776 C190 790,192 810,196 838"/><path d="M205 790 C210 805,212 820,212 838"/><path d="M262 800 C262 815,260 826,258 838"/><path d="M286 778 C288 795,288 815,284 836"/><path d="M176 782 C172 795,170 808,166 822"/><path d="M296 786 C300 800,302 812,304 826"/><path d="M222 800 C232 812,240 812,250 802" stroke="#555"/>
</g>
<path d="M196.4 772.6 C204 783,211 789,217 791.5 C224 794.5,230 795.4,236.3 795.4 C244 795.4,251 794,257 791.5 C263.5 787.5,269 780,272.5 771" fill="none" stroke="#555" stroke-width="1"/>
<path d="M199.5 770.5 C206 780,212 785.5,217.6 788 C224 791,230 792,236.3 792 C244 792,250.5 790.5,256.4 788 C262.5 784,267.5 778,270.3 769.5" fill="none" stroke="#c6c6c6" stroke-width="2.2" filter="url(#b05)"/>
<path d="M157.5 826.3 C165 823,172 820.5,180 819.4" fill="none" stroke="#3a3a3a" stroke-width="1"/><path d="M292.7 831.8 C300 829.5,307 828,314.7 826.3" fill="none" stroke="#3a3a3a" stroke-width="1"/>
</g>
<path d="M158 828 L180 821 L183 840 L160 840Z" fill="#ededed"/><path d="M293 833 L315 828 L317 842 L294 842Z" fill="#ededed"/>
<path d="M155.4 833 L156.6 826 L160.5 840 Z" fill="#444"/><path d="M316.8 836 L315 827.5 L313.5 838Z" fill="#444"/>
<rect x="150" y="831" width="175" height="9" fill="url(#fadeb)"/>
<rect x="150" y="839.5" width="175" height="10" fill="#fff"/>
<path d="M155.2 832 L159.3 807 C161 798,163.5 790,166.8 785 C172 780,178 776.5,184 774 L202.6 767.8" fill="none" stroke="#1e1e1e" stroke-width="1.3"/>
<path d="M270.5 768.5 L288.6 775.4 C294 778,299 781.5,302.3 785 C306 791,308.5 799,310.6 807 L316.6 835" fill="none" stroke="#1e1e1e" stroke-width="1.3"/>
<path d="M203.6 738 L203.2 768 C208 778,213 784.5,218 788 C224 791,230 792,236.3 792 C244 792,250 790.5,256 788 C262 784,267 777,270 768.5 L269.8 738 Z" fill="#e9e9e9"/>
<g clip-path="url(#shirtclip)" style="clip-path:none">
<g filter="url(#b1)">
<path d="M204 742 L212 746 L220 775 L226 790 L214 786 L204 768Z" fill="#9c9c9c"/>
<path d="M269.5 742 L258 750 L250 775 L244 791 L258 787 L269.5 768Z" fill="#8a8a8a"/>
<path d="M226 757 C232 761,240 761,248 756 L243 768 L236 790 L231 768Z" fill="#bdbdbd"/>
<path d="M232.5 762 C233.5 768,237.5 769,238.8 762" fill="none" stroke="#777" stroke-width="1.2"/>
</g></g>
<path d="M226 772 L236.3 789 L246 772" fill="none" stroke="#8a8a8a" stroke-width="0.9"/>
<path d="M203.8 740 L203.2 768" stroke="#1e1e1e" stroke-width="1.2"/><path d="M269.8 741 L270.2 768.5" stroke="#1e1e1e" stroke-width="1.2"/>
<path d="M172.5 668.6 C173 665.5,175 664.3,177.5 664.5 L191.5 666.1 L193 710.8 C190.5 713.5,187.5 715,185.2 714.4 C183 713,182 711,181.2 708.8 C179 702,177.5 696,176.1 690.7 C174.3 685,172.6 680,172.1 674.6 Z" fill="#dedede" stroke="#1e1e1e" stroke-width="1.2"/>
<path d="M293 674.6 L306.5 672.3 C309.5 672,311.3 674,310.9 676.6 C310 683,308.5 689,306.9 694.7 C304.5 702,302 709,298.8 714.8 C296.5 718,293.5 720,290.8 719.8 C288.5 719.5,286.6 718.8,285.8 717.8 Z" fill="#d6d6d6" stroke="#1e1e1e" stroke-width="1.2"/>
<g filter="url(#b1)">
<path d="M178 671 C183 672,188 676,189.5 684 C190.5 692,189 702,187 708 C186 700,184.5 690,181 681Z" fill="#7d7d7d"/>
<path d="M305 677 C300 679,296.5 684,295.5 691 C294.5 699,293.5 706,292 712 C296 706,300 698,302.5 690Z" fill="#747474"/>
</g>
<path d="M194.3 665 C194.5 650,196.5 634,200.4 621.2 C204 612,213 603,223.5 598.1 L228.4 603 L238.1 610.3 L245.4 611.5 L252.7 607.8 L262.5 612.7 L277.1 617.6 L283.1 615.1 C286 622,288 632,289.5 640 C291.5 650,293 660,293 668 C293.5 680,292 690,290.8 694.7 C289 705,286 712,282.7 718.8 C279 727,275 732,270.7 737 C265 743,260 746.5,254.6 749 C248 752.5,242 754,236.5 754 C230 754,225 753,220.4 751 C216 749,211.5 746.5,208.3 743 C204.5 739,202 734,200.3 728.9 C197.5 722,196 716,195.3 710.8 C193.5 703,192.5 697,192.2 690.7 Z" fill="#f3f3f3"/>
<g clip-path="url(#faceclip)">
<g filter="url(#b2)">
<path d="M192 640 L201 622 L204 660 L203 700 L208 735 L196 726 L190 690Z" fill="#999"/>
<path d="M283 616 L292 640 L295 690 L286 722 L272 742 L276 715 L283 690 L284 655 L280 630Z" fill="#7e7e7e"/>
<path d="M270 640 L283 640 L284 690 L276 725 L262 742 L266 715 L272 690Z" fill="#b5b5b5"/>
<ellipse cx="216.5" cy="662" rx="14" ry="6.5" fill="#8c8c8c"/><ellipse cx="264" cy="665" rx="15" ry="7" fill="#7a7a7a"/>
<ellipse cx="218" cy="677" rx="11" ry="4.5" fill="#b8b8b8"/><ellipse cx="266" cy="680" rx="12" ry="5" fill="#9c9c9c"/>
<path d="M244 652 L249 652 L252 690 L251 700 L245 700 L247 680Z" fill="#9a9a9a"/>
<path d="M209 700 C212 712,213 722,211 733 L206 724 L203 706Z" fill="#bdbdbd"/>
<path d="M256 702 C262 710,264 722,260 736 L268 726 L272 708Z" fill="#a0a0a0"/>
<ellipse cx="237" cy="704" rx="11" ry="2.6" fill="#9a9a9a"/>
<ellipse cx="236" cy="725" rx="12" ry="3" fill="#bcbcbc"/>
<path d="M214 742 C225 752,248 752,262 740 L258 752 L225 756Z" fill="#b0b0b0"/>
<path d="M203 625 L212 610 L222 602 L218 630 L210 650Z" fill="#d0d0d0"/>
<path d="M232 640 L240 630 L244 655 L238 660Z" fill="#dcdcdc"/>
</g>
</g>
<path d="M194.3 668 L192.2 690.7 C192.5 697,193.5 703,195.3 710.8 C196 716,197.5 722,200.3 728.9 C202 734,204.5 739,208.3 743 C211.5 746.5,216 749,220.4 751 C225 753,230 754,236.5 754 C242 754,248 752.5,254.6 749 C260 746.5,265 743,270.7 737 C275 732,279 727,282.7 718.8 C286 712,289 705,290.8 694.7" fill="none" stroke="#242424" stroke-width="1.1"/>
<g clip-path="url(#hairclip)">
<rect x="170" y="575" width="145" height="105" fill="#7c7c7c"/>
<g filter="url(#b1)">
<path d="M178 670 L178 634 L184 614 L194 601 L212 591 L222 596 L206 612 L199 630 L197 670Z" fill="#cfcfcf"/>
<g fill="none" stroke-linecap="round">
<path d="M182.5 655 C181.5 644,184 633,188 624" stroke="#f0f0f0" stroke-width="2.2"/>
<path d="M187.5 664 C186 652,188.5 640,192.5 630" stroke="#858585" stroke-width="1.5"/>
<path d="M192 668 C191.5 656,193 645,196 636" stroke="#9a9a9a" stroke-width="1.3"/>
<path d="M186 620 C190 612,196 606,203 601" stroke="#8a8a8a" stroke-width="1.4"/>
<path d="M190 611 C195 605,202 600,210 596.5" stroke="#ececec" stroke-width="2"/>
<path d="M182 640 C182 632,184 626,186.5 621" stroke="#777" stroke-width="1.2"/>
</g>
<path d="M218 597 C230 586,250 583.5,266 589 C279 594,288 603,291 613 L283 617 L277 618 L262.5 613 L252.7 608 L245.4 611.5 L238 610.5 L228.4 603 L223.5 598.1Z" fill="#474747"/>
<g fill="none" stroke-linecap="round">
<path d="M226 590.5 C238 585,254 585.5,268 591.5" stroke="#a4a4a4" stroke-width="2.4"/>
<path d="M232 595 C243 592,256 594.5,268 602" stroke="#8e8e8e" stroke-width="1.6"/>
<path d="M240 599.5 C250 598.5,262 602.5,272 611" stroke="#b0b0b0" stroke-width="1.3"/>
<path d="M229 599 C235 600.5,242 604.5,246.5 610" stroke="#262626" stroke-width="1.7"/>
<path d="M250 597.5 C259 599.5,268 605.5,275 614" stroke="#242424" stroke-width="1.9"/>
<path d="M262 594 C271 597,280 603.5,286 612" stroke="#2e2e2e" stroke-width="1.6"/>
<path d="M210 597.5 C217 591.5,226 587,237 584" stroke="#b4b4b4" stroke-width="2"/>
<path d="M214 601 C220 595,228 591,236 589" stroke="#5a5a5a" stroke-width="1.4"/>
</g>
<path d="M286 604 C296 612,304 628,306 645 L303 672 L293 672 C293 655,291 638,284 618Z" fill="#666"/>
<g fill="none" stroke-linecap="round">
<path d="M293 620 C298 632,300 646,298 664" stroke="#b8b8b8" stroke-width="1.8"/>
<path d="M289 618 C294 632,296 648,295 668" stroke="#363636" stroke-width="1.5"/>
<path d="M299 622 C304 634,305 648,303 660" stroke="#3e3e3e" stroke-width="1.5"/>
<path d="M296.5 617 C301.5 628,303.5 640,302.5 652" stroke="#9a9a9a" stroke-width="1.1"/>
</g>
</g></g>
<path d="M180.3 666 C178.5 656,178.3 646,179.1 638.3 C180 632,181.5 626,183.4 621.2 C186 614,189 609,193.1 605.4 C198 600,203.5 596.5,210.1 593.2 C216 589.5,222 586,228.4 583.5 C233 581.8,238 581,243 581.1 C248 581,253 582,257.6 583.5 C263.5 585.5,269 588.5,274.6 592 C280 595,285 599,289.2 603 C293 607,296.5 612,299 617.6 C302 622.5,304.5 628,306.3 633.4 C307.6 638,308.2 643,308.1 648 C308 653,306.5 658,305 662.6 L302.6 672" fill="none" stroke="#1c1c1c" stroke-width="1.5"/>
<g filter="url(#b05)">
<path d="M202.4 658 C206 652,211.5 649.6,217 649.6 C222.5 649.6,227 651.4,230.4 654.6 C226 654.8,221 654.8,217 655.2 C211.5 655.6,207 656.6,202.4 658Z" fill="#484848" stroke="#484848" stroke-width="0.7"/>
<path d="M245 661.4 C248.6 656.5,253.5 652.8,259 651.8 C266.5 650.8,275 652.8,280.4 658.6 C274 657,267 656.8,261 657.4 C255 658,250 659.4,245 661.4Z" fill="#404040" stroke="#404040" stroke-width="0.7"/>
<path d="M209.5 667 C213 663.4,221 662.6,226.5 667 C221 669.6,214 669.6,209.5 667Z" fill="#e8e8e8" stroke="#4a4a4a" stroke-width="0.7"/>
<path d="M254.5 669.6 C258.5 665.8,267.5 665.4,272.5 670 C267 672.4,259.5 672.6,254.5 669.6Z" fill="#e2e2e2" stroke="#444" stroke-width="0.7"/>
<circle cx="217.4" cy="666" r="3.3" fill="#2a2a2a"/><circle cx="263.1" cy="668.6" r="3.3" fill="#262626"/><path d="M209 666.6 C213 662.2,222 661.8,227 666.6" fill="none" stroke="#2e2e2e" stroke-width="1.2"/><path d="M254 669.2 C258.5 664.6,268 664.4,273 669.6" fill="none" stroke="#2a2a2a" stroke-width="1.2"/>
<circle cx="218.2" cy="665.4" r="0.8" fill="#ddd"/><circle cx="263.9" cy="668" r="0.8" fill="#ddd"/>
<path d="M226.4 693 C225 697,227 699.6,230.5 699 C233 701.5,240 702,244 699.6 C248 700.6,251.5 698.6,250.6 694" fill="none" stroke="#333" stroke-width="1.2"/>
<ellipse cx="231.5" cy="698.4" rx="2" ry="1" fill="#444"/><ellipse cx="245" cy="698.8" rx="2" ry="1" fill="#444"/>
<path d="M215 716 C220 718.4,228 717.6,236 717.4 C243 717.4,249 718.6,255 717.6" fill="none" stroke="#2e2e2e" stroke-width="2"/>
<path d="M213.6 714.6 L216 716.6" stroke="#555" stroke-width="1"/>
</g>
<g fill="none" stroke="#5a5a5a" stroke-width="0.8">
<path d="M172.6 664.6 L199 668.2" stroke="#3c3c3c" stroke-width="0.9"/>
<path d="M198.5 668.4 C200 660.6,229 660.4,232 668.8 C233 678.5,225 684,215 683.6 C205.5 683,197.6 677,198.5 668.4Z" stroke="#9a9a9a"/>
<path d="M247 671 C249.5 663.4,278 664,281.6 672.4 C282.4 682.4,273 687.2,263.5 686.6 C254 686,246.4 679.6,247 671Z" stroke="#8e8e8e"/>
<path d="M231.5 668.6 C236 666.6,242 667.2,246.5 670.6" stroke="#999"/>
<path d="M281 671.8 L309 673.4" stroke="#3c3c3c" stroke-width="0.9"/>
</g>
<circle cx="230.8" cy="674.4" r="0.9" fill="#333"/><circle cx="246.6" cy="675.4" r="0.9" fill="#333"/>
<g fill="none" stroke="#8a8a8a" stroke-width="0.7" filter="url(#b05)"><path d="M268 700 C271 708,271 716,268 724"/><path d="M273 698 C276 706,276 714,273 722"/><path d="M210 704 C208 712,209 720,212 728"/></g>
<g transform="translate(175 810) scale(0.069444)" fill="none" stroke-linecap="round" stroke-linejoin="round"><path d="M305 215 C270 170,180 165,140 215 C115 260,200 310,255 360 C310 420,270 520,190 525 C120 525,95 460,140 425 C165 410,188 430,180 452 M387 215 C382 300,366 400,372 470 C376 502,402 500,418 478 M298 287 C370 272,440 258,512 250 M440 427 C490 422,538 380,512 340 C482 310,430 370,432 440 C436 502,512 512,572 432 M568 345 C584 400,600 460,616 497 C640 450,665 400,686 345 M700 432 C760 432,817 390,797 345 C767 310,700 370,702 440 C706 507,800 512,882 400 M1036 135 C1020 260,996 400,985 512 M1166 180 C1110 230,1060 290,1015 336 C1080 350,1112 440,1166 506 M1195 427 C1250 427,1302 385,1286 340 C1256 305,1195 370,1197 440 C1200 507,1290 507,1346 440 M1375 427 C1430 427,1482 385,1463 340 C1433 305,1372 370,1375 440 C1378 507,1460 507,1522 440 M1536 345 C1530 400,1522 460,1520 507 C1530 430,1570 340,1606 345 C1642 355,1630 450,1672 502" stroke="#ffffff" stroke-width="94"/><path d="M305 215 C270 170,180 165,140 215 C115 260,200 310,255 360 C310 420,270 520,190 525 C120 525,95 460,140 425 C165 410,188 430,180 452 M387 215 C382 300,366 400,372 470 C376 502,402 500,418 478 M298 287 C370 272,440 258,512 250 M440 427 C490 422,538 380,512 340 C482 310,430 370,432 440 C436 502,512 512,572 432 M568 345 C584 400,600 460,616 497 C640 450,665 400,686 345 M700 432 C760 432,817 390,797 345 C767 310,700 370,702 440 C706 507,800 512,882 400 M1036 135 C1020 260,996 400,985 512 M1166 180 C1110 230,1060 290,1015 336 C1080 350,1112 440,1166 506 M1195 427 C1250 427,1302 385,1286 340 C1256 305,1195 370,1197 440 C1200 507,1290 507,1346 440 M1375 427 C1430 427,1482 385,1463 340 C1433 305,1372 370,1375 440 C1378 507,1460 507,1522 440 M1536 345 C1530 400,1522 460,1520 507 C1530 430,1570 340,1606 345 C1642 355,1630 450,1672 502" stroke="#a88d54" stroke-width="39"/></g>
</svg>
</body></html>
